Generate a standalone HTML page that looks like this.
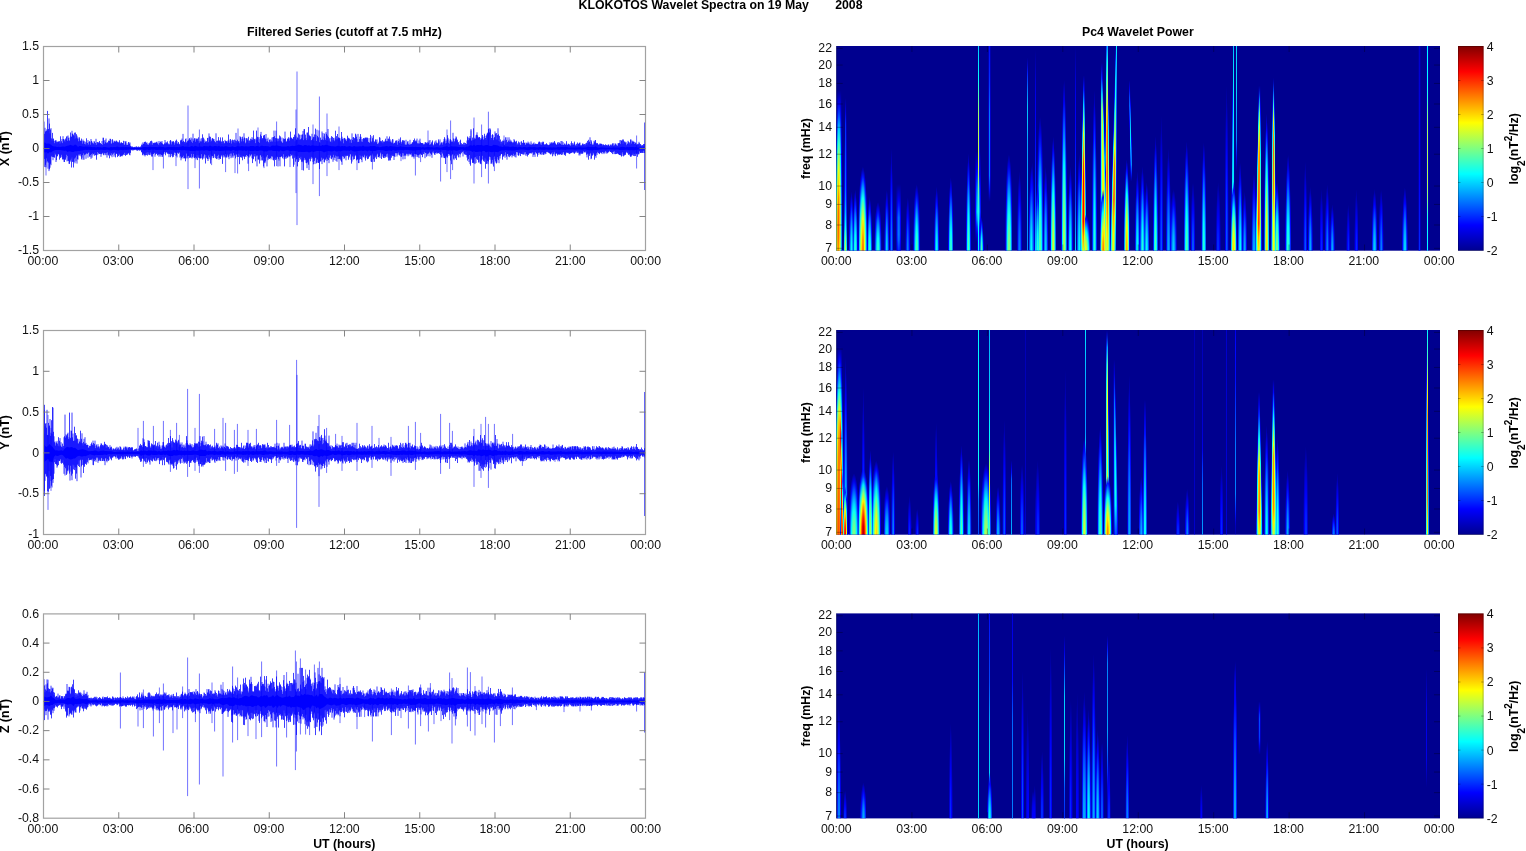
<!DOCTYPE html>
<html><head><meta charset="utf-8"><title>KLOKOTOS Wavelet Spectra</title>
<style>html,body{margin:0;padding:0;background:#fff;overflow:hidden}svg{display:block}text{font-family:"Liberation Sans", Arial, Helvetica, sans-serif;font-size:12.3px;fill:#000}.b{font-weight:bold}.t{fill:#111}</style></head><body>
<svg width="1526" height="851" viewBox="0 0 1526 851">
<rect width="1526" height="851" fill="#fff"/>
<defs>
<linearGradient id="cb" x1="0" y1="0" x2="0" y2="1"><stop offset="0" stop-color="#800000"/><stop offset="0.125" stop-color="#ff0000"/><stop offset="0.375" stop-color="#ffff00"/><stop offset="0.625" stop-color="#00ffff"/><stop offset="0.875" stop-color="#0000ff"/><stop offset="1" stop-color="#00008f"/></linearGradient>
<clipPath id="cl0"><rect x="43.5" y="46.5" width="602" height="204"/></clipPath>
<clipPath id="cr0"><rect x="836.2" y="46" width="603.8" height="204.7"/></clipPath>
<clipPath id="cl1"><rect x="43.5" y="330.5" width="602" height="204"/></clipPath>
<clipPath id="cr1"><rect x="836.2" y="330" width="603.8" height="204.7"/></clipPath>
<clipPath id="cl2"><rect x="43.5" y="613.9" width="602" height="204.3"/></clipPath>
<clipPath id="cr2"><rect x="836.2" y="613.4" width="603.8" height="205"/></clipPath>
<linearGradient id="k0" x1="0" y1="0" x2="0" y2="1"><stop offset="0.000" stop-color="#0000ff" stop-opacity="0.00"/><stop offset="0.083" stop-color="#0000ff" stop-opacity="0.00"/><stop offset="0.167" stop-color="#0000ff" stop-opacity="0.00"/><stop offset="0.250" stop-color="#0000ff" stop-opacity="0.00"/><stop offset="0.333" stop-color="#0000ff" stop-opacity="0.00"/><stop offset="0.417" stop-color="#0000ff" stop-opacity="0.00"/><stop offset="0.500" stop-color="#0000ff" stop-opacity="0.00"/><stop offset="0.583" stop-color="#0000ff" stop-opacity="0.00"/><stop offset="0.667" stop-color="#0000ff" stop-opacity="0.00"/><stop offset="0.750" stop-color="#0000ff" stop-opacity="0.00"/><stop offset="0.833" stop-color="#0000ff" stop-opacity="0.00"/><stop offset="0.917" stop-color="#0000ff" stop-opacity="0.17"/><stop offset="1.000" stop-color="#0000ff" stop-opacity="0.62"/></linearGradient><linearGradient id="k1" x1="0" y1="0" x2="0" y2="1"><stop offset="0.000" stop-color="#0000ff" stop-opacity="0.00"/><stop offset="0.083" stop-color="#0000ff" stop-opacity="0.00"/><stop offset="0.167" stop-color="#0000ff" stop-opacity="0.00"/><stop offset="0.250" stop-color="#0000ff" stop-opacity="0.00"/><stop offset="0.333" stop-color="#0000ff" stop-opacity="0.00"/><stop offset="0.417" stop-color="#0000ff" stop-opacity="0.00"/><stop offset="0.500" stop-color="#0000ff" stop-opacity="0.20"/><stop offset="0.583" stop-color="#0000ff" stop-opacity="0.72"/><stop offset="0.667" stop-color="#0022ff"/><stop offset="0.750" stop-color="#0063ff"/><stop offset="0.833" stop-color="#0099ff"/><stop offset="0.917" stop-color="#00c3ff"/><stop offset="1.000" stop-color="#00dcff"/></linearGradient><linearGradient id="k2" x1="0" y1="0" x2="0" y2="1"><stop offset="0.000" stop-color="#0000ff" stop-opacity="0.00"/><stop offset="0.083" stop-color="#0000ff" stop-opacity="0.06"/><stop offset="0.167" stop-color="#0000ff" stop-opacity="0.32"/><stop offset="0.250" stop-color="#0000ff" stop-opacity="0.76"/><stop offset="0.333" stop-color="#0026ff"/><stop offset="0.417" stop-color="#0071ff"/><stop offset="0.500" stop-color="#00b4ff"/><stop offset="0.583" stop-color="#00fbff"/><stop offset="0.667" stop-color="#42ffbd"/><stop offset="0.750" stop-color="#78ff87"/><stop offset="0.833" stop-color="#9cff63"/><stop offset="0.917" stop-color="#b1ff4e"/><stop offset="1.000" stop-color="#aeff51"/></linearGradient><linearGradient id="k3" x1="0" y1="0" x2="0" y2="1"><stop offset="0.000" stop-color="#0000ff" stop-opacity="0.00"/><stop offset="0.083" stop-color="#0000ff" stop-opacity="0.53"/><stop offset="0.167" stop-color="#001aff"/><stop offset="0.250" stop-color="#007eff"/><stop offset="0.333" stop-color="#00ddff"/><stop offset="0.417" stop-color="#3bffc4"/><stop offset="0.500" stop-color="#82ff7d"/><stop offset="0.583" stop-color="#c9ff36"/><stop offset="0.667" stop-color="#fff100"/><stop offset="0.750" stop-color="#ffc400"/><stop offset="0.833" stop-color="#ffaf00"/><stop offset="0.917" stop-color="#ffac00"/><stop offset="1.000" stop-color="#ffc300"/></linearGradient><linearGradient id="k4" x1="0" y1="0" x2="0" y2="1"><stop offset="0.000" stop-color="#0000ff" stop-opacity="0.00"/><stop offset="0.083" stop-color="#0000ff" stop-opacity="0.82"/><stop offset="0.167" stop-color="#005eff"/><stop offset="0.250" stop-color="#00daff"/><stop offset="0.333" stop-color="#48ffb7"/><stop offset="0.417" stop-color="#aaff55"/><stop offset="0.500" stop-color="#efff10"/><stop offset="0.583" stop-color="#ffcc00"/><stop offset="0.667" stop-color="#ff8e00"/><stop offset="0.750" stop-color="#ff6b00"/><stop offset="0.833" stop-color="#ff6300"/><stop offset="0.917" stop-color="#ff6e00"/><stop offset="1.000" stop-color="#ff9400"/></linearGradient><linearGradient id="k5" x1="0" y1="0" x2="0" y2="1"><stop offset="0.000" stop-color="#0000ff" stop-opacity="0.00"/><stop offset="0.083" stop-color="#0000ff" stop-opacity="0.84"/><stop offset="0.167" stop-color="#005bff"/><stop offset="0.250" stop-color="#00ceff"/><stop offset="0.333" stop-color="#31ffce"/><stop offset="0.417" stop-color="#86ff79"/><stop offset="0.500" stop-color="#bfff40"/><stop offset="0.583" stop-color="#f6ff09"/><stop offset="0.667" stop-color="#ffd600"/><stop offset="0.750" stop-color="#ffbb00"/><stop offset="0.833" stop-color="#ffb800"/><stop offset="0.917" stop-color="#ffc500"/><stop offset="1.000" stop-color="#ffe800"/></linearGradient><linearGradient id="k6" x1="0" y1="0" x2="0" y2="1"><stop offset="0.000" stop-color="#0000ff" stop-opacity="0.00"/><stop offset="0.083" stop-color="#0000ff" stop-opacity="0.56"/><stop offset="0.167" stop-color="#0014ff"/><stop offset="0.250" stop-color="#0065ff"/><stop offset="0.333" stop-color="#00acff"/><stop offset="0.417" stop-color="#00ecff"/><stop offset="0.500" stop-color="#19ffe6"/><stop offset="0.583" stop-color="#45ffba"/><stop offset="0.667" stop-color="#6eff91"/><stop offset="0.750" stop-color="#86ff79"/><stop offset="0.833" stop-color="#8dff72"/><stop offset="0.917" stop-color="#88ff77"/><stop offset="1.000" stop-color="#72ff8d"/></linearGradient><linearGradient id="k7" x1="0" y1="0" x2="0" y2="1"><stop offset="0.000" stop-color="#0000ff" stop-opacity="0.00"/><stop offset="0.083" stop-color="#0000ff" stop-opacity="0.09"/><stop offset="0.167" stop-color="#0000ff" stop-opacity="0.26"/><stop offset="0.250" stop-color="#0000ff" stop-opacity="0.49"/><stop offset="0.333" stop-color="#0000ff" stop-opacity="0.74"/><stop offset="0.417" stop-color="#0001ff"/><stop offset="0.500" stop-color="#001fff"/><stop offset="0.583" stop-color="#003eff"/><stop offset="0.667" stop-color="#005dff"/><stop offset="0.750" stop-color="#0075ff"/><stop offset="0.833" stop-color="#0085ff"/><stop offset="0.917" stop-color="#008eff"/><stop offset="1.000" stop-color="#008cff"/></linearGradient><linearGradient id="k8" x1="0" y1="0" x2="0" y2="1"><stop offset="0.000" stop-color="#0000ff" stop-opacity="0.00"/><stop offset="0.083" stop-color="#0000ff" stop-opacity="0.00"/><stop offset="0.167" stop-color="#0000ff" stop-opacity="0.00"/><stop offset="0.250" stop-color="#0000ff" stop-opacity="0.00"/><stop offset="0.333" stop-color="#0000ff" stop-opacity="0.00"/><stop offset="0.417" stop-color="#0000ff" stop-opacity="0.00"/><stop offset="0.500" stop-color="#0000ff" stop-opacity="0.00"/><stop offset="0.583" stop-color="#0000ff" stop-opacity="0.00"/><stop offset="0.667" stop-color="#0000ff" stop-opacity="0.00"/><stop offset="0.750" stop-color="#0000ff" stop-opacity="0.00"/><stop offset="0.833" stop-color="#0000ff" stop-opacity="0.00"/><stop offset="0.917" stop-color="#0000ff" stop-opacity="0.00"/><stop offset="1.000" stop-color="#0000ff" stop-opacity="0.33"/></linearGradient><linearGradient id="k9" x1="0" y1="0" x2="0" y2="1"><stop offset="0.000" stop-color="#0000ff" stop-opacity="0.00"/><stop offset="0.083" stop-color="#0000ff" stop-opacity="0.00"/><stop offset="0.167" stop-color="#0000ff" stop-opacity="0.00"/><stop offset="0.250" stop-color="#0000ff" stop-opacity="0.00"/><stop offset="0.333" stop-color="#0000ff" stop-opacity="0.24"/><stop offset="0.417" stop-color="#0000ff" stop-opacity="0.47"/><stop offset="0.500" stop-color="#0000ff" stop-opacity="0.68"/><stop offset="0.583" stop-color="#0000ff" stop-opacity="0.88"/><stop offset="0.667" stop-color="#0013ff"/><stop offset="0.750" stop-color="#003dff"/><stop offset="0.833" stop-color="#0078ff"/><stop offset="0.917" stop-color="#00e2ff"/><stop offset="1.000" stop-color="#37ffc8"/></linearGradient><linearGradient id="k10" x1="0" y1="0" x2="0" y2="1"><stop offset="0.000" stop-color="#0000ff" stop-opacity="0.00"/><stop offset="0.083" stop-color="#0000ff" stop-opacity="0.64"/><stop offset="0.167" stop-color="#0026ff"/><stop offset="0.250" stop-color="#0034ff"/><stop offset="0.333" stop-color="#0042ff"/><stop offset="0.417" stop-color="#0050ff"/><stop offset="0.500" stop-color="#005dff"/><stop offset="0.583" stop-color="#006aff"/><stop offset="0.667" stop-color="#008bff"/><stop offset="0.750" stop-color="#00b6ff"/><stop offset="0.833" stop-color="#00f8ff"/><stop offset="0.917" stop-color="#79ff86"/><stop offset="1.000" stop-color="#d2ff2d"/></linearGradient><linearGradient id="k11" x1="0" y1="0" x2="0" y2="1"><stop offset="0.000" stop-color="#0000ff" stop-opacity="0.00"/><stop offset="0.083" stop-color="#0000ff" stop-opacity="0.06"/><stop offset="0.167" stop-color="#0000ff" stop-opacity="0.27"/><stop offset="0.250" stop-color="#0000ff" stop-opacity="0.42"/><stop offset="0.333" stop-color="#0000ff" stop-opacity="0.57"/><stop offset="0.417" stop-color="#0000ff" stop-opacity="0.70"/><stop offset="0.500" stop-color="#0000ff" stop-opacity="0.82"/><stop offset="0.583" stop-color="#0000ff" stop-opacity="0.95"/><stop offset="0.667" stop-color="#0013ff"/><stop offset="0.750" stop-color="#0034ff"/><stop offset="0.833" stop-color="#0064ff"/><stop offset="0.917" stop-color="#00bdff"/><stop offset="1.000" stop-color="#02fffd"/></linearGradient><linearGradient id="a4" x1="0" y1="0" x2="0" y2="1"><stop offset="0.000" stop-color="#0000ff" stop-opacity="0.00"/><stop offset="0.125" stop-color="#0000ff" stop-opacity="0.26"/><stop offset="0.250" stop-color="#0000ff" stop-opacity="0.49"/><stop offset="0.375" stop-color="#0000ff" stop-opacity="0.70"/><stop offset="0.500" stop-color="#0000ff" stop-opacity="0.89"/><stop offset="0.625" stop-color="#0007ff"/><stop offset="0.750" stop-color="#0018ff"/><stop offset="0.875" stop-color="#0024ff"/><stop offset="1.000" stop-color="#002aff"/></linearGradient><linearGradient id="a7" x1="0" y1="0" x2="0" y2="1"><stop offset="0.000" stop-color="#0000ff" stop-opacity="0.00"/><stop offset="0.125" stop-color="#0000ff" stop-opacity="0.45"/><stop offset="0.250" stop-color="#0000ff" stop-opacity="0.86"/><stop offset="0.375" stop-color="#001eff"/><stop offset="0.500" stop-color="#0048ff"/><stop offset="0.625" stop-color="#006cff"/><stop offset="0.750" stop-color="#008aff"/><stop offset="0.875" stop-color="#009fff"/><stop offset="1.000" stop-color="#00aaff"/></linearGradient><linearGradient id="a9" x1="0" y1="0" x2="0" y2="1"><stop offset="0.000" stop-color="#0000ff" stop-opacity="0.00"/><stop offset="0.125" stop-color="#0000ff" stop-opacity="0.58"/><stop offset="0.250" stop-color="#000eff"/><stop offset="0.375" stop-color="#004bff"/><stop offset="0.500" stop-color="#0081ff"/><stop offset="0.625" stop-color="#00afff"/><stop offset="0.750" stop-color="#00d5ff"/><stop offset="0.875" stop-color="#00f1ff"/><stop offset="1.000" stop-color="#00ffff"/></linearGradient><linearGradient id="a5" x1="0" y1="0" x2="0" y2="1"><stop offset="0.000" stop-color="#0000ff" stop-opacity="0.00"/><stop offset="0.125" stop-color="#0000ff" stop-opacity="0.32"/><stop offset="0.250" stop-color="#0000ff" stop-opacity="0.61"/><stop offset="0.375" stop-color="#0000ff" stop-opacity="0.88"/><stop offset="0.500" stop-color="#000fff"/><stop offset="0.625" stop-color="#0029ff"/><stop offset="0.750" stop-color="#003eff"/><stop offset="0.875" stop-color="#004dff"/><stop offset="1.000" stop-color="#0055ff"/></linearGradient><linearGradient id="a10" x1="0" y1="0" x2="0" y2="1"><stop offset="0.000" stop-color="#0000ff" stop-opacity="0.00"/><stop offset="0.125" stop-color="#0000ff" stop-opacity="0.64"/><stop offset="0.250" stop-color="#001dff"/><stop offset="0.375" stop-color="#0061ff"/><stop offset="0.500" stop-color="#009dff"/><stop offset="0.625" stop-color="#00d1ff"/><stop offset="0.750" stop-color="#00fbff"/><stop offset="0.875" stop-color="#1bffe4"/><stop offset="1.000" stop-color="#2bffd4"/></linearGradient><linearGradient id="a8" x1="0" y1="0" x2="0" y2="1"><stop offset="0.000" stop-color="#0000ff" stop-opacity="0.00"/><stop offset="0.125" stop-color="#0000ff" stop-opacity="0.51"/><stop offset="0.250" stop-color="#0000ff" stop-opacity="0.98"/><stop offset="0.375" stop-color="#0034ff"/><stop offset="0.500" stop-color="#0064ff"/><stop offset="0.625" stop-color="#008eff"/><stop offset="0.750" stop-color="#00b0ff"/><stop offset="0.875" stop-color="#00c8ff"/><stop offset="1.000" stop-color="#00d4ff"/></linearGradient><linearGradient id="a3" x1="0" y1="0" x2="0" y2="1"><stop offset="0.000" stop-color="#0000ff" stop-opacity="0.00"/><stop offset="0.125" stop-color="#0000ff" stop-opacity="0.19"/><stop offset="0.250" stop-color="#0000ff" stop-opacity="0.37"/><stop offset="0.375" stop-color="#0000ff" stop-opacity="0.53"/><stop offset="0.500" stop-color="#0000ff" stop-opacity="0.67"/><stop offset="0.625" stop-color="#0000ff" stop-opacity="0.79"/><stop offset="0.750" stop-color="#0000ff" stop-opacity="0.89"/><stop offset="0.875" stop-color="#0000ff" stop-opacity="0.96"/><stop offset="1.000" stop-color="#0000ff" stop-opacity="1.00"/></linearGradient><linearGradient id="a2" x1="0" y1="0" x2="0" y2="1"><stop offset="0.000" stop-color="#0000ff" stop-opacity="0.00"/><stop offset="0.125" stop-color="#0000ff" stop-opacity="0.13"/><stop offset="0.250" stop-color="#0000ff" stop-opacity="0.25"/><stop offset="0.375" stop-color="#0000ff" stop-opacity="0.35"/><stop offset="0.500" stop-color="#0000ff" stop-opacity="0.45"/><stop offset="0.625" stop-color="#0000ff" stop-opacity="0.53"/><stop offset="0.750" stop-color="#0000ff" stop-opacity="0.59"/><stop offset="0.875" stop-color="#0000ff" stop-opacity="0.64"/><stop offset="1.000" stop-color="#0000ff" stop-opacity="0.67"/></linearGradient><linearGradient id="a13" x1="0" y1="0" x2="0" y2="1"><stop offset="0.000" stop-color="#0000ff" stop-opacity="0.00"/><stop offset="0.125" stop-color="#0000ff" stop-opacity="0.83"/><stop offset="0.250" stop-color="#004cff"/><stop offset="0.375" stop-color="#00a5ff"/><stop offset="0.500" stop-color="#00f3ff"/><stop offset="0.625" stop-color="#37ffc8"/><stop offset="0.750" stop-color="#6eff91"/><stop offset="0.875" stop-color="#96ff69"/><stop offset="1.000" stop-color="#aaff55"/></linearGradient><linearGradient id="a16" x1="0" y1="0" x2="0" y2="1"><stop offset="0.000" stop-color="#0000ff" stop-opacity="0.00"/><stop offset="0.125" stop-color="#0003ff"/><stop offset="0.250" stop-color="#007bff"/><stop offset="0.375" stop-color="#00e8ff"/><stop offset="0.500" stop-color="#49ffb6"/><stop offset="0.625" stop-color="#9cff63"/><stop offset="0.750" stop-color="#e0ff1f"/><stop offset="0.875" stop-color="#ffed00"/><stop offset="1.000" stop-color="#ffd500"/></linearGradient><linearGradient id="a18" x1="0" y1="0" x2="0" y2="1"><stop offset="0.000" stop-color="#0000ff" stop-opacity="0.00"/><stop offset="0.125" stop-color="#0014ff"/><stop offset="0.250" stop-color="#009bff"/><stop offset="0.375" stop-color="#16ffe9"/><stop offset="0.500" stop-color="#82ff7d"/><stop offset="0.625" stop-color="#dfff20"/><stop offset="0.750" stop-color="#ffd300"/><stop offset="0.875" stop-color="#ff9b00"/><stop offset="1.000" stop-color="#ff8000"/></linearGradient><linearGradient id="a15" x1="0" y1="0" x2="0" y2="1"><stop offset="0.000" stop-color="#0000ff" stop-opacity="0.00"/><stop offset="0.125" stop-color="#0000ff" stop-opacity="0.96"/><stop offset="0.250" stop-color="#006cff"/><stop offset="0.375" stop-color="#00d1ff"/><stop offset="0.500" stop-color="#2dffd2"/><stop offset="0.625" stop-color="#7aff85"/><stop offset="0.750" stop-color="#baff45"/><stop offset="0.875" stop-color="#e8ff17"/><stop offset="1.000" stop-color="#ffff00"/></linearGradient><linearGradient id="a11" x1="0" y1="0" x2="0" y2="1"><stop offset="0.000" stop-color="#0000ff" stop-opacity="0.00"/><stop offset="0.125" stop-color="#0000ff" stop-opacity="0.71"/><stop offset="0.250" stop-color="#002dff"/><stop offset="0.375" stop-color="#0078ff"/><stop offset="0.500" stop-color="#00baff"/><stop offset="0.625" stop-color="#00f3ff"/><stop offset="0.750" stop-color="#22ffdd"/><stop offset="0.875" stop-color="#44ffbb"/><stop offset="1.000" stop-color="#55ffaa"/></linearGradient><linearGradient id="a6" x1="0" y1="0" x2="0" y2="1"><stop offset="0.000" stop-color="#0000ff" stop-opacity="0.00"/><stop offset="0.125" stop-color="#0000ff" stop-opacity="0.38"/><stop offset="0.250" stop-color="#0000ff" stop-opacity="0.74"/><stop offset="0.375" stop-color="#0007ff"/><stop offset="0.500" stop-color="#002bff"/><stop offset="0.625" stop-color="#004aff"/><stop offset="0.750" stop-color="#0064ff"/><stop offset="0.875" stop-color="#0076ff"/><stop offset="1.000" stop-color="#0080ff"/></linearGradient><linearGradient id="a1" x1="0" y1="0" x2="0" y2="1"><stop offset="0.000" stop-color="#0000ff" stop-opacity="0.00"/><stop offset="0.125" stop-color="#0000ff" stop-opacity="0.06"/><stop offset="0.250" stop-color="#0000ff" stop-opacity="0.12"/><stop offset="0.375" stop-color="#0000ff" stop-opacity="0.18"/><stop offset="0.500" stop-color="#0000ff" stop-opacity="0.22"/><stop offset="0.625" stop-color="#0000ff" stop-opacity="0.26"/><stop offset="0.750" stop-color="#0000ff" stop-opacity="0.30"/><stop offset="0.875" stop-color="#0000ff" stop-opacity="0.32"/><stop offset="1.000" stop-color="#0000ff" stop-opacity="0.33"/></linearGradient><linearGradient id="k27" x1="0" y1="0" x2="0" y2="1"><stop offset="0.000" stop-color="#0000ff" stop-opacity="0.00"/><stop offset="0.083" stop-color="#0000ff" stop-opacity="0.10"/><stop offset="0.167" stop-color="#0000ff" stop-opacity="0.20"/><stop offset="0.250" stop-color="#0000ff" stop-opacity="0.30"/><stop offset="0.333" stop-color="#0000ff" stop-opacity="0.40"/><stop offset="0.417" stop-color="#0000ff" stop-opacity="0.50"/><stop offset="0.500" stop-color="#0000ff" stop-opacity="0.59"/><stop offset="0.583" stop-color="#0000ff" stop-opacity="0.60"/><stop offset="0.667" stop-color="#0000ff" stop-opacity="0.61"/><stop offset="0.750" stop-color="#0000ff" stop-opacity="0.63"/><stop offset="0.833" stop-color="#0000ff" stop-opacity="0.59"/><stop offset="0.917" stop-color="#0000ff" stop-opacity="0.51"/><stop offset="1.000" stop-color="#0000ff" stop-opacity="0.42"/></linearGradient><linearGradient id="k28" x1="0" y1="0" x2="0" y2="1"><stop offset="0.000" stop-color="#0000ff" stop-opacity="0.00"/><stop offset="0.083" stop-color="#0000ff" stop-opacity="0.24"/><stop offset="0.167" stop-color="#0000ff" stop-opacity="0.48"/><stop offset="0.250" stop-color="#0000ff" stop-opacity="0.71"/><stop offset="0.333" stop-color="#0000ff" stop-opacity="0.95"/><stop offset="0.417" stop-color="#0018ff"/><stop offset="0.500" stop-color="#0033ff"/><stop offset="0.583" stop-color="#0037ff"/><stop offset="0.667" stop-color="#003aff"/><stop offset="0.750" stop-color="#003eff"/><stop offset="0.833" stop-color="#0033ff"/><stop offset="0.917" stop-color="#001aff"/><stop offset="1.000" stop-color="#0000ff" stop-opacity="1.00"/></linearGradient><linearGradient id="k29" x1="0" y1="0" x2="0" y2="1"><stop offset="0.000" stop-color="#0000ff" stop-opacity="0.00"/><stop offset="0.083" stop-color="#0000ff" stop-opacity="0.31"/><stop offset="0.167" stop-color="#0000ff" stop-opacity="0.62"/><stop offset="0.250" stop-color="#0000ff" stop-opacity="0.94"/><stop offset="0.333" stop-color="#0020ff"/><stop offset="0.417" stop-color="#0048ff"/><stop offset="0.500" stop-color="#006bff"/><stop offset="0.583" stop-color="#0070ff"/><stop offset="0.667" stop-color="#0075ff"/><stop offset="0.750" stop-color="#0079ff"/><stop offset="0.833" stop-color="#006bff"/><stop offset="0.917" stop-color="#004aff"/><stop offset="1.000" stop-color="#0028ff"/></linearGradient><linearGradient id="k30" x1="0" y1="0" x2="0" y2="1"><stop offset="0.000" stop-color="#0000ff" stop-opacity="0.00"/><stop offset="0.083" stop-color="#0000ff" stop-opacity="0.28"/><stop offset="0.167" stop-color="#0000ff" stop-opacity="0.56"/><stop offset="0.250" stop-color="#0000ff" stop-opacity="0.85"/><stop offset="0.333" stop-color="#0011ff"/><stop offset="0.417" stop-color="#0035ff"/><stop offset="0.500" stop-color="#0055ff"/><stop offset="0.583" stop-color="#0059ff"/><stop offset="0.667" stop-color="#005dff"/><stop offset="0.750" stop-color="#0062ff"/><stop offset="0.833" stop-color="#0055ff"/><stop offset="0.917" stop-color="#0036ff"/><stop offset="1.000" stop-color="#0018ff"/></linearGradient><linearGradient id="k31" x1="0" y1="0" x2="0" y2="1"><stop offset="0.000" stop-color="#0000ff" stop-opacity="0.00"/><stop offset="0.083" stop-color="#0000ff" stop-opacity="0.17"/><stop offset="0.167" stop-color="#0000ff" stop-opacity="0.35"/><stop offset="0.250" stop-color="#0000ff" stop-opacity="0.52"/><stop offset="0.333" stop-color="#0000ff" stop-opacity="0.69"/><stop offset="0.417" stop-color="#0000ff" stop-opacity="0.86"/><stop offset="0.500" stop-color="#0003ff"/><stop offset="0.583" stop-color="#0005ff"/><stop offset="0.667" stop-color="#0008ff"/><stop offset="0.750" stop-color="#000aff"/><stop offset="0.833" stop-color="#0002ff"/><stop offset="0.917" stop-color="#0000ff" stop-opacity="0.87"/><stop offset="1.000" stop-color="#0000ff" stop-opacity="0.73"/></linearGradient><linearGradient id="k32" x1="0" y1="0" x2="0" y2="1"><stop offset="0.000" stop-color="#0000ff" stop-opacity="0.00"/><stop offset="0.083" stop-color="#0000ff" stop-opacity="0.00"/><stop offset="0.167" stop-color="#0000ff" stop-opacity="0.00"/><stop offset="0.250" stop-color="#0000ff" stop-opacity="0.00"/><stop offset="0.333" stop-color="#0000ff" stop-opacity="0.00"/><stop offset="0.417" stop-color="#0000ff" stop-opacity="0.00"/><stop offset="0.500" stop-color="#0000ff" stop-opacity="0.00"/><stop offset="0.583" stop-color="#0000ff" stop-opacity="0.00"/><stop offset="0.667" stop-color="#0000ff" stop-opacity="0.22"/><stop offset="0.750" stop-color="#0000ff" stop-opacity="0.39"/><stop offset="0.833" stop-color="#0000ff" stop-opacity="0.51"/><stop offset="0.917" stop-color="#0000ff" stop-opacity="0.63"/><stop offset="1.000" stop-color="#0000ff" stop-opacity="0.73"/></linearGradient><linearGradient id="k33" x1="0" y1="0" x2="0" y2="1"><stop offset="0.000" stop-color="#00cbff"/><stop offset="0.083" stop-color="#00e6ff"/><stop offset="0.167" stop-color="#06fff9"/><stop offset="0.250" stop-color="#52ffad"/><stop offset="0.333" stop-color="#9eff61"/><stop offset="0.417" stop-color="#b2ff4d"/><stop offset="0.500" stop-color="#beff41"/><stop offset="0.583" stop-color="#caff35"/><stop offset="0.667" stop-color="#81ff7e"/><stop offset="0.750" stop-color="#41ffbe"/><stop offset="0.833" stop-color="#12ffed"/><stop offset="0.917" stop-color="#00fcff"/><stop offset="1.000" stop-color="#00f2ff"/></linearGradient><linearGradient id="k34" x1="0" y1="0" x2="0" y2="1"><stop offset="0.000" stop-color="#0000ff" stop-opacity="0.00"/><stop offset="0.083" stop-color="#0000ff" stop-opacity="0.00"/><stop offset="0.167" stop-color="#0000ff" stop-opacity="0.00"/><stop offset="0.250" stop-color="#0000ff" stop-opacity="0.15"/><stop offset="0.333" stop-color="#0000ff" stop-opacity="0.48"/><stop offset="0.417" stop-color="#0000ff" stop-opacity="0.77"/><stop offset="0.500" stop-color="#0005ff"/><stop offset="0.583" stop-color="#0025ff"/><stop offset="0.667" stop-color="#0027ff"/><stop offset="0.750" stop-color="#0025ff"/><stop offset="0.833" stop-color="#0022ff"/><stop offset="0.917" stop-color="#0026ff"/><stop offset="1.000" stop-color="#002dff"/></linearGradient><linearGradient id="k35" x1="0" y1="0" x2="0" y2="1"><stop offset="0.000" stop-color="#0000ff" stop-opacity="0.00"/><stop offset="0.083" stop-color="#0000ff" stop-opacity="0.15"/><stop offset="0.167" stop-color="#0000ff" stop-opacity="0.30"/><stop offset="0.250" stop-color="#0000ff" stop-opacity="0.45"/><stop offset="0.333" stop-color="#0000ff" stop-opacity="0.61"/><stop offset="0.417" stop-color="#0000ff" stop-opacity="0.76"/><stop offset="0.500" stop-color="#0000ff" stop-opacity="0.86"/><stop offset="0.583" stop-color="#0000ff" stop-opacity="0.93"/><stop offset="0.667" stop-color="#0001ff"/><stop offset="0.750" stop-color="#0000ff" stop-opacity="0.84"/><stop offset="0.833" stop-color="#0000ff" stop-opacity="0.54"/><stop offset="0.917" stop-color="#0000ff" stop-opacity="0.27"/><stop offset="1.000" stop-color="#0000ff" stop-opacity="0.00"/></linearGradient><linearGradient id="k36" x1="0" y1="0" x2="0" y2="1"><stop offset="0.000" stop-color="#0000ff" stop-opacity="0.00"/><stop offset="0.083" stop-color="#0000ff" stop-opacity="0.32"/><stop offset="0.167" stop-color="#0000ff" stop-opacity="0.64"/><stop offset="0.250" stop-color="#0000ff" stop-opacity="0.96"/><stop offset="0.333" stop-color="#0024ff"/><stop offset="0.417" stop-color="#004cff"/><stop offset="0.500" stop-color="#0067ff"/><stop offset="0.583" stop-color="#007bff"/><stop offset="0.667" stop-color="#0090ff"/><stop offset="0.750" stop-color="#0061ff"/><stop offset="0.833" stop-color="#0011ff"/><stop offset="0.917" stop-color="#0000ff" stop-opacity="0.57"/><stop offset="1.000" stop-color="#0000ff" stop-opacity="0.00"/></linearGradient><linearGradient id="k37" x1="0" y1="0" x2="0" y2="1"><stop offset="0.000" stop-color="#0000ff" stop-opacity="0.00"/><stop offset="0.083" stop-color="#0000ff" stop-opacity="0.43"/><stop offset="0.167" stop-color="#0000ff" stop-opacity="0.85"/><stop offset="0.250" stop-color="#0023ff"/><stop offset="0.333" stop-color="#005aff"/><stop offset="0.417" stop-color="#0090ff"/><stop offset="0.500" stop-color="#00b4ff"/><stop offset="0.583" stop-color="#00cfff"/><stop offset="0.667" stop-color="#00e9ff"/><stop offset="0.750" stop-color="#00acff"/><stop offset="0.833" stop-color="#0042ff"/><stop offset="0.917" stop-color="#0000ff" stop-opacity="0.76"/><stop offset="1.000" stop-color="#0000ff" stop-opacity="0.00"/></linearGradient><linearGradient id="k38" x1="0" y1="0" x2="0" y2="1"><stop offset="0.000" stop-color="#0000ff" stop-opacity="0.00"/><stop offset="0.083" stop-color="#0000ff" stop-opacity="0.44"/><stop offset="0.167" stop-color="#0000ff" stop-opacity="0.87"/><stop offset="0.250" stop-color="#0028ff"/><stop offset="0.333" stop-color="#005fff"/><stop offset="0.417" stop-color="#0097ff"/><stop offset="0.500" stop-color="#00bcff"/><stop offset="0.583" stop-color="#00d8ff"/><stop offset="0.667" stop-color="#00f3ff"/><stop offset="0.750" stop-color="#00b4ff"/><stop offset="0.833" stop-color="#0047ff"/><stop offset="0.917" stop-color="#0000ff" stop-opacity="0.78"/><stop offset="1.000" stop-color="#0000ff" stop-opacity="0.00"/></linearGradient><linearGradient id="k39" x1="0" y1="0" x2="0" y2="1"><stop offset="0.000" stop-color="#0000ff" stop-opacity="0.00"/><stop offset="0.083" stop-color="#0000ff" stop-opacity="0.34"/><stop offset="0.167" stop-color="#0000ff" stop-opacity="0.69"/><stop offset="0.250" stop-color="#0004ff"/><stop offset="0.333" stop-color="#0030ff"/><stop offset="0.417" stop-color="#005cff"/><stop offset="0.500" stop-color="#0079ff"/><stop offset="0.583" stop-color="#008fff"/><stop offset="0.667" stop-color="#00a4ff"/><stop offset="0.750" stop-color="#0072ff"/><stop offset="0.833" stop-color="#001dff"/><stop offset="0.917" stop-color="#0000ff" stop-opacity="0.61"/><stop offset="1.000" stop-color="#0000ff" stop-opacity="0.00"/></linearGradient><linearGradient id="k40" x1="0" y1="0" x2="0" y2="1"><stop offset="0.000" stop-color="#0000ff" stop-opacity="0.00"/><stop offset="0.083" stop-color="#0000ff" stop-opacity="0.19"/><stop offset="0.167" stop-color="#0000ff" stop-opacity="0.37"/><stop offset="0.250" stop-color="#0000ff" stop-opacity="0.56"/><stop offset="0.333" stop-color="#0000ff" stop-opacity="0.75"/><stop offset="0.417" stop-color="#0000ff" stop-opacity="0.93"/><stop offset="0.500" stop-color="#0007ff"/><stop offset="0.583" stop-color="#0013ff"/><stop offset="0.667" stop-color="#001fff"/><stop offset="0.750" stop-color="#0004ff"/><stop offset="0.833" stop-color="#0000ff" stop-opacity="0.66"/><stop offset="0.917" stop-color="#0000ff" stop-opacity="0.33"/><stop offset="1.000" stop-color="#0000ff" stop-opacity="0.00"/></linearGradient><linearGradient id="k41" x1="0" y1="0" x2="0" y2="1"><stop offset="0.000" stop-color="#0000ff" stop-opacity="0.28"/><stop offset="0.083" stop-color="#0000ff" stop-opacity="0.31"/><stop offset="0.167" stop-color="#0000ff" stop-opacity="0.34"/><stop offset="0.250" stop-color="#0000ff" stop-opacity="0.38"/><stop offset="0.333" stop-color="#0000ff" stop-opacity="0.45"/><stop offset="0.417" stop-color="#0000ff" stop-opacity="0.51"/><stop offset="0.500" stop-color="#0000ff" stop-opacity="0.53"/><stop offset="0.583" stop-color="#0000ff" stop-opacity="0.53"/><stop offset="0.667" stop-color="#0000ff" stop-opacity="0.53"/><stop offset="0.750" stop-color="#0000ff" stop-opacity="0.53"/><stop offset="0.833" stop-color="#0000ff" stop-opacity="0.53"/><stop offset="0.917" stop-color="#0000ff" stop-opacity="0.31"/><stop offset="1.000" stop-color="#0000ff" stop-opacity="0.00"/></linearGradient><linearGradient id="k42" x1="0" y1="0" x2="0" y2="1"><stop offset="0.000" stop-color="#0008ff"/><stop offset="0.083" stop-color="#0016ff"/><stop offset="0.167" stop-color="#0024ff"/><stop offset="0.250" stop-color="#0039ff"/><stop offset="0.333" stop-color="#0056ff"/><stop offset="0.417" stop-color="#0073ff"/><stop offset="0.500" stop-color="#0080ff"/><stop offset="0.583" stop-color="#0080ff"/><stop offset="0.667" stop-color="#0080ff"/><stop offset="0.750" stop-color="#0080ff"/><stop offset="0.833" stop-color="#0080ff"/><stop offset="0.917" stop-color="#0013ff"/><stop offset="1.000" stop-color="#0000ff" stop-opacity="0.00"/></linearGradient><linearGradient id="k43" x1="0" y1="0" x2="0" y2="1"><stop offset="0.000" stop-color="#0000ff" stop-opacity="0.28"/><stop offset="0.083" stop-color="#0000ff" stop-opacity="0.31"/><stop offset="0.167" stop-color="#0000ff" stop-opacity="0.34"/><stop offset="0.250" stop-color="#0000ff" stop-opacity="0.38"/><stop offset="0.333" stop-color="#0000ff" stop-opacity="0.45"/><stop offset="0.417" stop-color="#0000ff" stop-opacity="0.51"/><stop offset="0.500" stop-color="#0000ff" stop-opacity="0.53"/><stop offset="0.583" stop-color="#0000ff" stop-opacity="0.53"/><stop offset="0.667" stop-color="#0000ff" stop-opacity="0.53"/><stop offset="0.750" stop-color="#0000ff" stop-opacity="0.53"/><stop offset="0.833" stop-color="#0000ff" stop-opacity="0.53"/><stop offset="0.917" stop-color="#0000ff" stop-opacity="0.31"/><stop offset="1.000" stop-color="#0000ff" stop-opacity="0.00"/></linearGradient><linearGradient id="a12" x1="0" y1="0" x2="0" y2="1"><stop offset="0.000" stop-color="#0000ff" stop-opacity="0.00"/><stop offset="0.125" stop-color="#0000ff" stop-opacity="0.77"/><stop offset="0.250" stop-color="#003dff"/><stop offset="0.375" stop-color="#008eff"/><stop offset="0.500" stop-color="#00d6ff"/><stop offset="0.625" stop-color="#15ffea"/><stop offset="0.750" stop-color="#48ffb7"/><stop offset="0.875" stop-color="#6dff92"/><stop offset="1.000" stop-color="#80ff80"/></linearGradient><linearGradient id="k45" x1="0" y1="0" x2="0" y2="1"><stop offset="0.000" stop-color="#0000ff" stop-opacity="0.00"/><stop offset="0.083" stop-color="#0023ff"/><stop offset="0.167" stop-color="#007eff"/><stop offset="0.250" stop-color="#00c1ff"/><stop offset="0.333" stop-color="#00c1ff"/><stop offset="0.417" stop-color="#00a6ff"/><stop offset="0.500" stop-color="#009fff"/><stop offset="0.583" stop-color="#009dff"/><stop offset="0.667" stop-color="#009aff"/><stop offset="0.750" stop-color="#0098ff"/><stop offset="0.833" stop-color="#0095ff"/><stop offset="0.917" stop-color="#0093ff"/><stop offset="1.000" stop-color="#0090ff"/></linearGradient><linearGradient id="k46" x1="0" y1="0" x2="0" y2="1"><stop offset="0.000" stop-color="#0000ff" stop-opacity="0.00"/><stop offset="0.083" stop-color="#0000ff" stop-opacity="0.33"/><stop offset="0.167" stop-color="#0000ff" stop-opacity="0.66"/><stop offset="0.250" stop-color="#0000ff" stop-opacity="0.85"/><stop offset="0.333" stop-color="#0000ff" stop-opacity="0.94"/><stop offset="0.417" stop-color="#0004ff"/><stop offset="0.500" stop-color="#000fff"/><stop offset="0.583" stop-color="#001aff"/><stop offset="0.667" stop-color="#0025ff"/><stop offset="0.750" stop-color="#0045ff"/><stop offset="0.833" stop-color="#0075ff"/><stop offset="0.917" stop-color="#00a5ff"/><stop offset="1.000" stop-color="#00d4ff"/></linearGradient><linearGradient id="a14" x1="0" y1="0" x2="0" y2="1"><stop offset="0.000" stop-color="#0000ff" stop-opacity="0.00"/><stop offset="0.125" stop-color="#0000ff" stop-opacity="0.90"/><stop offset="0.250" stop-color="#005cff"/><stop offset="0.375" stop-color="#00bbff"/><stop offset="0.500" stop-color="#10ffef"/><stop offset="0.625" stop-color="#59ffa6"/><stop offset="0.750" stop-color="#94ff6b"/><stop offset="0.875" stop-color="#bfff40"/><stop offset="1.000" stop-color="#d5ff2a"/></linearGradient><linearGradient id="k48" x1="0" y1="0" x2="0" y2="1"><stop offset="0.000" stop-color="#0000ff" stop-opacity="0.00"/><stop offset="0.083" stop-color="#0000ff" stop-opacity="0.31"/><stop offset="0.167" stop-color="#0000ff" stop-opacity="0.62"/><stop offset="0.250" stop-color="#0000ff" stop-opacity="0.84"/><stop offset="0.333" stop-color="#0000ff" stop-opacity="0.93"/><stop offset="0.417" stop-color="#0002ff"/><stop offset="0.500" stop-color="#000eff"/><stop offset="0.583" stop-color="#0019ff"/><stop offset="0.667" stop-color="#0025ff"/><stop offset="0.750" stop-color="#0042ff"/><stop offset="0.833" stop-color="#0073ff"/><stop offset="0.917" stop-color="#00a4ff"/><stop offset="1.000" stop-color="#00d4ff"/></linearGradient><linearGradient id="k49" x1="0" y1="0" x2="0" y2="1"><stop offset="0.000" stop-color="#0000ff" stop-opacity="0.00"/><stop offset="0.083" stop-color="#0000ff" stop-opacity="0.00"/><stop offset="0.167" stop-color="#0000ff" stop-opacity="0.00"/><stop offset="0.250" stop-color="#0000ff" stop-opacity="0.00"/><stop offset="0.333" stop-color="#0000ff" stop-opacity="0.00"/><stop offset="0.417" stop-color="#0000ff" stop-opacity="0.00"/><stop offset="0.500" stop-color="#0000ff" stop-opacity="0.00"/><stop offset="0.583" stop-color="#0000ff" stop-opacity="0.00"/><stop offset="0.667" stop-color="#0000ff" stop-opacity="0.00"/><stop offset="0.750" stop-color="#0000ff" stop-opacity="0.00"/><stop offset="0.833" stop-color="#0000ff" stop-opacity="0.00"/><stop offset="0.917" stop-color="#0000ff" stop-opacity="0.72"/><stop offset="1.000" stop-color="#000fff"/></linearGradient><linearGradient id="k50" x1="0" y1="0" x2="0" y2="1"><stop offset="0.000" stop-color="#0000ff" stop-opacity="0.00"/><stop offset="0.083" stop-color="#0000ff" stop-opacity="0.00"/><stop offset="0.167" stop-color="#0000ff" stop-opacity="0.00"/><stop offset="0.250" stop-color="#0000ff" stop-opacity="0.00"/><stop offset="0.333" stop-color="#0000ff" stop-opacity="0.00"/><stop offset="0.417" stop-color="#0000ff" stop-opacity="0.00"/><stop offset="0.500" stop-color="#0000ff" stop-opacity="0.00"/><stop offset="0.583" stop-color="#0013ff"/><stop offset="0.667" stop-color="#0093ff"/><stop offset="0.750" stop-color="#00f7ff"/><stop offset="0.833" stop-color="#48ffb7"/><stop offset="0.917" stop-color="#39ffc6"/><stop offset="1.000" stop-color="#06fff9"/></linearGradient><linearGradient id="k51" x1="0" y1="0" x2="0" y2="1"><stop offset="0.000" stop-color="#0000ff" stop-opacity="0.00"/><stop offset="0.083" stop-color="#0000ff" stop-opacity="0.00"/><stop offset="0.167" stop-color="#0000ff" stop-opacity="0.00"/><stop offset="0.250" stop-color="#0000ff" stop-opacity="0.99"/><stop offset="0.333" stop-color="#0097ff"/><stop offset="0.417" stop-color="#23ffdc"/><stop offset="0.500" stop-color="#b0ff4f"/><stop offset="0.583" stop-color="#ffe600"/><stop offset="0.667" stop-color="#ffb700"/><stop offset="0.750" stop-color="#ff9200"/><stop offset="0.833" stop-color="#ff7600"/><stop offset="0.917" stop-color="#ffda00"/><stop offset="1.000" stop-color="#acff53"/></linearGradient><linearGradient id="k52" x1="0" y1="0" x2="0" y2="1"><stop offset="0.000" stop-color="#0000ff" stop-opacity="0.00"/><stop offset="0.083" stop-color="#001eff"/><stop offset="0.167" stop-color="#00ccff"/><stop offset="0.250" stop-color="#66ff99"/><stop offset="0.333" stop-color="#edff12"/><stop offset="0.417" stop-color="#ffa900"/><stop offset="0.500" stop-color="#ff3900"/><stop offset="0.583" stop-color="#f70000"/><stop offset="0.667" stop-color="#f70000"/><stop offset="0.750" stop-color="#f80000"/><stop offset="0.833" stop-color="#f90000"/><stop offset="0.917" stop-color="#ff8600"/><stop offset="1.000" stop-color="#e1ff1e"/></linearGradient><linearGradient id="k53" x1="0" y1="0" x2="0" y2="1"><stop offset="0.000" stop-color="#0000ff" stop-opacity="0.00"/><stop offset="0.083" stop-color="#0000ff" stop-opacity="0.62"/><stop offset="0.167" stop-color="#0045ff"/><stop offset="0.250" stop-color="#00bcff"/><stop offset="0.333" stop-color="#2dffd2"/><stop offset="0.417" stop-color="#8bff74"/><stop offset="0.500" stop-color="#f0ff0f"/><stop offset="0.583" stop-color="#ffcc00"/><stop offset="0.667" stop-color="#ffbc00"/><stop offset="0.750" stop-color="#ffaf00"/><stop offset="0.833" stop-color="#ffa500"/><stop offset="0.917" stop-color="#f1ff0e"/><stop offset="1.000" stop-color="#7bff84"/></linearGradient><linearGradient id="k54" x1="0" y1="0" x2="0" y2="1"><stop offset="0.000" stop-color="#0000ff" stop-opacity="0.00"/><stop offset="0.083" stop-color="#0000ff" stop-opacity="0.00"/><stop offset="0.167" stop-color="#0000ff" stop-opacity="0.00"/><stop offset="0.250" stop-color="#0000ff" stop-opacity="0.00"/><stop offset="0.333" stop-color="#0000ff" stop-opacity="0.00"/><stop offset="0.417" stop-color="#0000ff" stop-opacity="0.00"/><stop offset="0.500" stop-color="#0000ff" stop-opacity="0.67"/><stop offset="0.583" stop-color="#003eff"/><stop offset="0.667" stop-color="#008aff"/><stop offset="0.750" stop-color="#00c8ff"/><stop offset="0.833" stop-color="#00fbff"/><stop offset="0.917" stop-color="#00e5ff"/><stop offset="1.000" stop-color="#00b7ff"/></linearGradient><linearGradient id="k55" x1="0" y1="0" x2="0" y2="1"><stop offset="0.000" stop-color="#0000ff" stop-opacity="0.00"/><stop offset="0.083" stop-color="#0000ff" stop-opacity="0.00"/><stop offset="0.167" stop-color="#0000ff" stop-opacity="0.00"/><stop offset="0.250" stop-color="#0000ff" stop-opacity="0.00"/><stop offset="0.333" stop-color="#0000ff" stop-opacity="0.00"/><stop offset="0.417" stop-color="#0000ff" stop-opacity="0.00"/><stop offset="0.500" stop-color="#0000ff" stop-opacity="0.00"/><stop offset="0.583" stop-color="#0000ff" stop-opacity="0.00"/><stop offset="0.667" stop-color="#0000ff" stop-opacity="0.00"/><stop offset="0.750" stop-color="#0000ff" stop-opacity="0.00"/><stop offset="0.833" stop-color="#0000ff" stop-opacity="0.00"/><stop offset="0.917" stop-color="#0000ff" stop-opacity="0.00"/><stop offset="1.000" stop-color="#0000ff" stop-opacity="0.30"/></linearGradient><linearGradient id="k56" x1="0" y1="0" x2="0" y2="1"><stop offset="0.000" stop-color="#0000ff" stop-opacity="0.00"/><stop offset="0.083" stop-color="#0000ff" stop-opacity="0.00"/><stop offset="0.167" stop-color="#0000ff" stop-opacity="0.00"/><stop offset="0.250" stop-color="#0000ff" stop-opacity="0.11"/><stop offset="0.333" stop-color="#0000ff" stop-opacity="0.43"/><stop offset="0.417" stop-color="#0000ff" stop-opacity="0.66"/><stop offset="0.500" stop-color="#0000ff" stop-opacity="0.85"/><stop offset="0.583" stop-color="#0002ff"/><stop offset="0.667" stop-color="#0013ff"/><stop offset="0.750" stop-color="#0021ff"/><stop offset="0.833" stop-color="#002cff"/><stop offset="0.917" stop-color="#0036ff"/><stop offset="1.000" stop-color="#003fff"/></linearGradient><linearGradient id="k57" x1="0" y1="0" x2="0" y2="1"><stop offset="0.000" stop-color="#0000ff" stop-opacity="0.00"/><stop offset="0.083" stop-color="#0033ff"/><stop offset="0.167" stop-color="#00cbff"/><stop offset="0.250" stop-color="#54ffab"/><stop offset="0.333" stop-color="#4cffb3"/><stop offset="0.417" stop-color="#3fffc0"/><stop offset="0.500" stop-color="#36ffc9"/><stop offset="0.583" stop-color="#30ffcf"/><stop offset="0.667" stop-color="#2bffd4"/><stop offset="0.750" stop-color="#24ffdb"/><stop offset="0.833" stop-color="#1dffe2"/><stop offset="0.917" stop-color="#17ffe8"/><stop offset="1.000" stop-color="#13ffec"/></linearGradient><linearGradient id="k58" x1="0" y1="0" x2="0" y2="1"><stop offset="0.000" stop-color="#0000ff" stop-opacity="0.00"/><stop offset="0.083" stop-color="#0000ff" stop-opacity="0.67"/><stop offset="0.167" stop-color="#00afff"/><stop offset="0.250" stop-color="#a0ff5f"/><stop offset="0.333" stop-color="#daff25"/><stop offset="0.417" stop-color="#ecff13"/><stop offset="0.500" stop-color="#ecff13"/><stop offset="0.583" stop-color="#e8ff17"/><stop offset="0.667" stop-color="#e2ff1d"/><stop offset="0.750" stop-color="#d5ff2a"/><stop offset="0.833" stop-color="#c9ff36"/><stop offset="0.917" stop-color="#bdff42"/><stop offset="1.000" stop-color="#b2ff4d"/></linearGradient><linearGradient id="k59" x1="0" y1="0" x2="0" y2="1"><stop offset="0.000" stop-color="#0000ff" stop-opacity="0.00"/><stop offset="0.083" stop-color="#0000ff" stop-opacity="0.00"/><stop offset="0.167" stop-color="#0000ff" stop-opacity="0.00"/><stop offset="0.250" stop-color="#0034ff"/><stop offset="0.333" stop-color="#00f0ff"/><stop offset="0.417" stop-color="#65ff9a"/><stop offset="0.500" stop-color="#b2ff4d"/><stop offset="0.583" stop-color="#e6ff19"/><stop offset="0.667" stop-color="#fff400"/><stop offset="0.750" stop-color="#ffe300"/><stop offset="0.833" stop-color="#ffe000"/><stop offset="0.917" stop-color="#ffe300"/><stop offset="1.000" stop-color="#ffe900"/></linearGradient><linearGradient id="k60" x1="0" y1="0" x2="0" y2="1"><stop offset="0.000" stop-color="#0000ff" stop-opacity="0.00"/><stop offset="0.083" stop-color="#0000ff" stop-opacity="0.00"/><stop offset="0.167" stop-color="#0000ff" stop-opacity="0.00"/><stop offset="0.250" stop-color="#0000ff" stop-opacity="0.00"/><stop offset="0.333" stop-color="#0000ff" stop-opacity="0.00"/><stop offset="0.417" stop-color="#0013ff"/><stop offset="0.500" stop-color="#00b7ff"/><stop offset="0.583" stop-color="#2cffd3"/><stop offset="0.667" stop-color="#82ff7d"/><stop offset="0.750" stop-color="#bdff42"/><stop offset="0.833" stop-color="#e7ff18"/><stop offset="0.917" stop-color="#fff900"/><stop offset="1.000" stop-color="#ffe300"/></linearGradient><linearGradient id="k61" x1="0" y1="0" x2="0" y2="1"><stop offset="0.000" stop-color="#0000ff" stop-opacity="0.00"/><stop offset="0.083" stop-color="#0000ff" stop-opacity="0.00"/><stop offset="0.167" stop-color="#0000ff" stop-opacity="0.00"/><stop offset="0.250" stop-color="#0000ff" stop-opacity="0.00"/><stop offset="0.333" stop-color="#0000ff" stop-opacity="0.00"/><stop offset="0.417" stop-color="#0000ff" stop-opacity="0.00"/><stop offset="0.500" stop-color="#0000ff" stop-opacity="0.00"/><stop offset="0.583" stop-color="#0000ff" stop-opacity="0.97"/><stop offset="0.667" stop-color="#008fff"/><stop offset="0.750" stop-color="#00fcff"/><stop offset="0.833" stop-color="#4fffb0"/><stop offset="0.917" stop-color="#8dff72"/><stop offset="1.000" stop-color="#beff41"/></linearGradient><linearGradient id="k62" x1="0" y1="0" x2="0" y2="1"><stop offset="0.000" stop-color="#0000ff" stop-opacity="0.00"/><stop offset="0.083" stop-color="#0000ff" stop-opacity="0.00"/><stop offset="0.167" stop-color="#0000ff" stop-opacity="0.00"/><stop offset="0.250" stop-color="#0000ff" stop-opacity="0.00"/><stop offset="0.333" stop-color="#0000ff" stop-opacity="0.00"/><stop offset="0.417" stop-color="#0000ff" stop-opacity="0.00"/><stop offset="0.500" stop-color="#0000ff" stop-opacity="0.00"/><stop offset="0.583" stop-color="#0000ff" stop-opacity="0.00"/><stop offset="0.667" stop-color="#0000ff" stop-opacity="0.00"/><stop offset="0.750" stop-color="#0000ff" stop-opacity="0.85"/><stop offset="0.833" stop-color="#006eff"/><stop offset="0.917" stop-color="#00d3ff"/><stop offset="1.000" stop-color="#23ffdc"/></linearGradient><linearGradient id="k63" x1="0" y1="0" x2="0" y2="1"><stop offset="0.000" stop-color="#0000ff" stop-opacity="0.00"/><stop offset="0.083" stop-color="#0000ff" stop-opacity="0.00"/><stop offset="0.167" stop-color="#0000ff" stop-opacity="0.00"/><stop offset="0.250" stop-color="#0000ff" stop-opacity="0.00"/><stop offset="0.333" stop-color="#0000ff" stop-opacity="0.00"/><stop offset="0.417" stop-color="#0000ff" stop-opacity="0.00"/><stop offset="0.500" stop-color="#0000ff" stop-opacity="0.00"/><stop offset="0.583" stop-color="#0000ff" stop-opacity="0.00"/><stop offset="0.667" stop-color="#0000ff" stop-opacity="0.00"/><stop offset="0.750" stop-color="#0000ff" stop-opacity="0.00"/><stop offset="0.833" stop-color="#0000ff" stop-opacity="0.00"/><stop offset="0.917" stop-color="#0000ff" stop-opacity="0.75"/><stop offset="1.000" stop-color="#0054ff"/></linearGradient><linearGradient id="a17" x1="0" y1="0" x2="0" y2="1"><stop offset="0.000" stop-color="#0000ff" stop-opacity="0.00"/><stop offset="0.125" stop-color="#000bff"/><stop offset="0.250" stop-color="#008bff"/><stop offset="0.375" stop-color="#00feff"/><stop offset="0.500" stop-color="#66ff99"/><stop offset="0.625" stop-color="#beff41"/><stop offset="0.750" stop-color="#fff900"/><stop offset="0.875" stop-color="#ffc400"/><stop offset="1.000" stop-color="#ffaa00"/></linearGradient><linearGradient id="k65" x1="0" y1="0" x2="0" y2="1"><stop offset="0.000" stop-color="#0000ff" stop-opacity="0.00"/><stop offset="0.083" stop-color="#0000ff" stop-opacity="0.00"/><stop offset="0.167" stop-color="#0000ff" stop-opacity="0.00"/><stop offset="0.250" stop-color="#0000ff" stop-opacity="0.00"/><stop offset="0.333" stop-color="#0000ff" stop-opacity="0.00"/><stop offset="0.417" stop-color="#0000ff" stop-opacity="0.00"/><stop offset="0.500" stop-color="#0000ff" stop-opacity="0.00"/><stop offset="0.583" stop-color="#0000ff" stop-opacity="0.00"/><stop offset="0.667" stop-color="#0000ff" stop-opacity="0.00"/><stop offset="0.750" stop-color="#0000ff" stop-opacity="0.00"/><stop offset="0.833" stop-color="#0000ff" stop-opacity="0.32"/><stop offset="0.917" stop-color="#0000ff" stop-opacity="0.80"/><stop offset="1.000" stop-color="#000dff"/></linearGradient><linearGradient id="k66" x1="0" y1="0" x2="0" y2="1"><stop offset="0.000" stop-color="#0000ff" stop-opacity="0.00"/><stop offset="0.083" stop-color="#0000ff" stop-opacity="0.00"/><stop offset="0.167" stop-color="#0000ff" stop-opacity="0.00"/><stop offset="0.250" stop-color="#0000ff" stop-opacity="0.00"/><stop offset="0.333" stop-color="#0000ff" stop-opacity="0.00"/><stop offset="0.417" stop-color="#0000ff" stop-opacity="0.92"/><stop offset="0.500" stop-color="#0061ff"/><stop offset="0.583" stop-color="#00b2ff"/><stop offset="0.667" stop-color="#00f2ff"/><stop offset="0.750" stop-color="#19ffe6"/><stop offset="0.833" stop-color="#22ffdd"/><stop offset="0.917" stop-color="#19ffe6"/><stop offset="1.000" stop-color="#05fffa"/></linearGradient><linearGradient id="k67" x1="0" y1="0" x2="0" y2="1"><stop offset="0.000" stop-color="#003cff"/><stop offset="0.083" stop-color="#00acff"/><stop offset="0.167" stop-color="#0bfff4"/><stop offset="0.250" stop-color="#5cffa3"/><stop offset="0.333" stop-color="#d9ff26"/><stop offset="0.417" stop-color="#ffd600"/><stop offset="0.500" stop-color="#ffc300"/><stop offset="0.583" stop-color="#ffb500"/><stop offset="0.667" stop-color="#ffa900"/><stop offset="0.750" stop-color="#ffb700"/><stop offset="0.833" stop-color="#ffe300"/><stop offset="0.917" stop-color="#e6ff19"/><stop offset="1.000" stop-color="#abff54"/></linearGradient><linearGradient id="k68" x1="0" y1="0" x2="0" y2="1"><stop offset="0.000" stop-color="#00a6ff"/><stop offset="0.083" stop-color="#16ffe9"/><stop offset="0.167" stop-color="#73ff8c"/><stop offset="0.250" stop-color="#c3ff3c"/><stop offset="0.333" stop-color="#ffb500"/><stop offset="0.417" stop-color="#ff6500"/><stop offset="0.500" stop-color="#ff5a00"/><stop offset="0.583" stop-color="#ff5300"/><stop offset="0.667" stop-color="#ff4d00"/><stop offset="0.750" stop-color="#ff6300"/><stop offset="0.833" stop-color="#ff9900"/><stop offset="0.917" stop-color="#ffd800"/><stop offset="1.000" stop-color="#e2ff1d"/></linearGradient><linearGradient id="k69" x1="0" y1="0" x2="0" y2="1"><stop offset="0.000" stop-color="#0000ff" stop-opacity="0.00"/><stop offset="0.083" stop-color="#0000ff" stop-opacity="0.00"/><stop offset="0.167" stop-color="#0000ff" stop-opacity="0.00"/><stop offset="0.250" stop-color="#0000ff" stop-opacity="0.39"/><stop offset="0.333" stop-color="#005dff"/><stop offset="0.417" stop-color="#00ebff"/><stop offset="0.500" stop-color="#45ffba"/><stop offset="0.583" stop-color="#88ff77"/><stop offset="0.667" stop-color="#bbff44"/><stop offset="0.750" stop-color="#d0ff2f"/><stop offset="0.833" stop-color="#c3ff3c"/><stop offset="0.917" stop-color="#a5ff5a"/><stop offset="1.000" stop-color="#7dff82"/></linearGradient><linearGradient id="k70" x1="0" y1="0" x2="0" y2="1"><stop offset="0.000" stop-color="#0000ff" stop-opacity="0.00"/><stop offset="0.083" stop-color="#0000ff" stop-opacity="0.00"/><stop offset="0.167" stop-color="#0000ff" stop-opacity="0.00"/><stop offset="0.250" stop-color="#0000ff" stop-opacity="0.00"/><stop offset="0.333" stop-color="#0000ff" stop-opacity="0.00"/><stop offset="0.417" stop-color="#0000ff" stop-opacity="0.00"/><stop offset="0.500" stop-color="#0000ff" stop-opacity="0.00"/><stop offset="0.583" stop-color="#0000ff" stop-opacity="0.00"/><stop offset="0.667" stop-color="#0000ff" stop-opacity="0.93"/><stop offset="0.750" stop-color="#0056ff"/><stop offset="0.833" stop-color="#0091ff"/><stop offset="0.917" stop-color="#00afff"/><stop offset="1.000" stop-color="#00b9ff"/></linearGradient><linearGradient id="k71" x1="0" y1="0" x2="0" y2="1"><stop offset="0.000" stop-color="#0000ff" stop-opacity="0.00"/><stop offset="0.083" stop-color="#0000ff" stop-opacity="0.00"/><stop offset="0.167" stop-color="#0000ff" stop-opacity="0.00"/><stop offset="0.250" stop-color="#0000ff" stop-opacity="0.00"/><stop offset="0.333" stop-color="#0000ff" stop-opacity="0.00"/><stop offset="0.417" stop-color="#0000ff" stop-opacity="0.00"/><stop offset="0.500" stop-color="#0000ff" stop-opacity="0.00"/><stop offset="0.583" stop-color="#0000ff" stop-opacity="0.00"/><stop offset="0.667" stop-color="#0000ff" stop-opacity="0.00"/><stop offset="0.750" stop-color="#0000ff" stop-opacity="0.00"/><stop offset="0.833" stop-color="#0000ff" stop-opacity="0.00"/><stop offset="0.917" stop-color="#0000ff" stop-opacity="0.00"/><stop offset="1.000" stop-color="#0000ff" stop-opacity="0.32"/></linearGradient><linearGradient id="k72" x1="0" y1="0" x2="0" y2="1"><stop offset="0.000" stop-color="#0000ff" stop-opacity="0.00"/><stop offset="0.083" stop-color="#0000ff" stop-opacity="0.00"/><stop offset="0.167" stop-color="#0000ff" stop-opacity="0.00"/><stop offset="0.250" stop-color="#0000ff" stop-opacity="0.00"/><stop offset="0.333" stop-color="#0000ff" stop-opacity="0.00"/><stop offset="0.417" stop-color="#0000ff" stop-opacity="0.00"/><stop offset="0.500" stop-color="#0000ff" stop-opacity="0.00"/><stop offset="0.583" stop-color="#0000ff" stop-opacity="0.00"/><stop offset="0.667" stop-color="#0000ff" stop-opacity="0.00"/><stop offset="0.750" stop-color="#0000ff" stop-opacity="0.00"/><stop offset="0.833" stop-color="#0000ff" stop-opacity="0.00"/><stop offset="0.917" stop-color="#0000ff" stop-opacity="0.48"/><stop offset="1.000" stop-color="#0046ff"/></linearGradient><linearGradient id="k73" x1="0" y1="0" x2="0" y2="1"><stop offset="0.000" stop-color="#0000ff" stop-opacity="0.00"/><stop offset="0.083" stop-color="#0000ff" stop-opacity="0.00"/><stop offset="0.167" stop-color="#0000ff" stop-opacity="0.00"/><stop offset="0.250" stop-color="#0000ff" stop-opacity="0.00"/><stop offset="0.333" stop-color="#0000ff" stop-opacity="0.00"/><stop offset="0.417" stop-color="#0000ff" stop-opacity="0.00"/><stop offset="0.500" stop-color="#0000ff" stop-opacity="0.00"/><stop offset="0.583" stop-color="#0000ff" stop-opacity="0.00"/><stop offset="0.667" stop-color="#0000ff" stop-opacity="0.00"/><stop offset="0.750" stop-color="#0000ff" stop-opacity="0.84"/><stop offset="0.833" stop-color="#0094ff"/><stop offset="0.917" stop-color="#00ecff"/><stop offset="1.000" stop-color="#36ffc9"/></linearGradient><linearGradient id="k74" x1="0" y1="0" x2="0" y2="1"><stop offset="0.000" stop-color="#0000ff" stop-opacity="0.00"/><stop offset="0.083" stop-color="#0000ff" stop-opacity="0.00"/><stop offset="0.167" stop-color="#0000ff" stop-opacity="0.00"/><stop offset="0.250" stop-color="#0000ff" stop-opacity="0.00"/><stop offset="0.333" stop-color="#0000ff" stop-opacity="0.00"/><stop offset="0.417" stop-color="#0000ff" stop-opacity="0.00"/><stop offset="0.500" stop-color="#0000ff" stop-opacity="0.00"/><stop offset="0.583" stop-color="#000aff"/><stop offset="0.667" stop-color="#00e9ff"/><stop offset="0.750" stop-color="#93ff6c"/><stop offset="0.833" stop-color="#c1ff3e"/><stop offset="0.917" stop-color="#bcff43"/><stop offset="1.000" stop-color="#cfff30"/></linearGradient><linearGradient id="k75" x1="0" y1="0" x2="0" y2="1"><stop offset="0.000" stop-color="#0000ff" stop-opacity="0.00"/><stop offset="0.083" stop-color="#0000ff" stop-opacity="0.00"/><stop offset="0.167" stop-color="#0000ff" stop-opacity="0.00"/><stop offset="0.250" stop-color="#0000ff" stop-opacity="0.00"/><stop offset="0.333" stop-color="#0000ff" stop-opacity="0.00"/><stop offset="0.417" stop-color="#000aff"/><stop offset="0.500" stop-color="#00e9ff"/><stop offset="0.583" stop-color="#c2ff3d"/><stop offset="0.667" stop-color="#ffc000"/><stop offset="0.750" stop-color="#ff6c00"/><stop offset="0.833" stop-color="#ffa000"/><stop offset="0.917" stop-color="#fff100"/><stop offset="1.000" stop-color="#e8ff17"/></linearGradient><linearGradient id="k76" x1="0" y1="0" x2="0" y2="1"><stop offset="0.000" stop-color="#0000ff" stop-opacity="0.00"/><stop offset="0.083" stop-color="#0000ff" stop-opacity="0.00"/><stop offset="0.167" stop-color="#0000ff" stop-opacity="0.00"/><stop offset="0.250" stop-color="#0012ff"/><stop offset="0.333" stop-color="#00c5ff"/><stop offset="0.417" stop-color="#69ff96"/><stop offset="0.500" stop-color="#fdff02"/><stop offset="0.583" stop-color="#ff7600"/><stop offset="0.667" stop-color="#ff6b00"/><stop offset="0.750" stop-color="#ff7700"/><stop offset="0.833" stop-color="#ffee00"/><stop offset="0.917" stop-color="#a1ff5e"/><stop offset="1.000" stop-color="#6cff93"/></linearGradient><linearGradient id="k77" x1="0" y1="0" x2="0" y2="1"><stop offset="0.000" stop-color="#0000ff" stop-opacity="0.00"/><stop offset="0.083" stop-color="#004bff"/><stop offset="0.167" stop-color="#00dcff"/><stop offset="0.250" stop-color="#1fffe0"/><stop offset="0.333" stop-color="#55ffaa"/><stop offset="0.417" stop-color="#82ff7d"/><stop offset="0.500" stop-color="#a7ff58"/><stop offset="0.583" stop-color="#caff35"/><stop offset="0.667" stop-color="#a4ff5b"/><stop offset="0.750" stop-color="#7bff84"/><stop offset="0.833" stop-color="#17ffe8"/><stop offset="0.917" stop-color="#00c0ff"/><stop offset="1.000" stop-color="#0093ff"/></linearGradient><linearGradient id="k78" x1="0" y1="0" x2="0" y2="1"><stop offset="0.000" stop-color="#00f0ff"/><stop offset="0.083" stop-color="#00c7ff"/><stop offset="0.167" stop-color="#0095ff"/><stop offset="0.250" stop-color="#0067ff"/><stop offset="0.333" stop-color="#0051ff"/><stop offset="0.417" stop-color="#0041ff"/><stop offset="0.500" stop-color="#002eff"/><stop offset="0.583" stop-color="#0018ff"/><stop offset="0.667" stop-color="#0000ff" stop-opacity="0.87"/><stop offset="0.750" stop-color="#0000ff" stop-opacity="0.57"/><stop offset="0.833" stop-color="#0000ff" stop-opacity="0.25"/><stop offset="0.917" stop-color="#0000ff" stop-opacity="0.03"/><stop offset="1.000" stop-color="#0000ff" stop-opacity="0.00"/></linearGradient><linearGradient id="k79" x1="0" y1="0" x2="0" y2="1"><stop offset="0.000" stop-color="#0000ff" stop-opacity="0.00"/><stop offset="0.083" stop-color="#0000ff" stop-opacity="0.84"/><stop offset="0.167" stop-color="#0045ff"/><stop offset="0.250" stop-color="#0061ff"/><stop offset="0.333" stop-color="#0030ff"/><stop offset="0.417" stop-color="#0000ff" stop-opacity="0.85"/><stop offset="0.500" stop-color="#0000ff" stop-opacity="0.21"/><stop offset="0.583" stop-color="#0000ff" stop-opacity="0.00"/><stop offset="0.667" stop-color="#0000ff" stop-opacity="0.00"/><stop offset="0.750" stop-color="#0000ff" stop-opacity="0.00"/><stop offset="0.833" stop-color="#0000ff" stop-opacity="0.00"/><stop offset="0.917" stop-color="#0000ff" stop-opacity="0.00"/><stop offset="1.000" stop-color="#0000ff" stop-opacity="0.00"/></linearGradient><linearGradient id="k80" x1="0" y1="0" x2="0" y2="1"><stop offset="0.000" stop-color="#0000ff" stop-opacity="0.00"/><stop offset="0.083" stop-color="#0000ff" stop-opacity="0.00"/><stop offset="0.167" stop-color="#0000ff" stop-opacity="0.20"/><stop offset="0.250" stop-color="#000dff"/><stop offset="0.333" stop-color="#0068ff"/><stop offset="0.417" stop-color="#00afff"/><stop offset="0.500" stop-color="#00deff"/><stop offset="0.583" stop-color="#00e6ff"/><stop offset="0.667" stop-color="#00afff"/><stop offset="0.750" stop-color="#0068ff"/><stop offset="0.833" stop-color="#0021ff"/><stop offset="0.917" stop-color="#0000ff" stop-opacity="0.45"/><stop offset="1.000" stop-color="#0000ff" stop-opacity="0.00"/></linearGradient><linearGradient id="k81" x1="0" y1="0" x2="0" y2="1"><stop offset="0.000" stop-color="#0000ff" stop-opacity="0.00"/><stop offset="0.083" stop-color="#0000ff" stop-opacity="0.00"/><stop offset="0.167" stop-color="#0000ff" stop-opacity="0.00"/><stop offset="0.250" stop-color="#0000ff" stop-opacity="0.00"/><stop offset="0.333" stop-color="#0000ff" stop-opacity="0.00"/><stop offset="0.417" stop-color="#0000ff" stop-opacity="0.00"/><stop offset="0.500" stop-color="#0000ff" stop-opacity="0.00"/><stop offset="0.583" stop-color="#0000ff" stop-opacity="0.80"/><stop offset="0.667" stop-color="#0042ff"/><stop offset="0.750" stop-color="#0076ff"/><stop offset="0.833" stop-color="#008bff"/><stop offset="0.917" stop-color="#001fff"/><stop offset="1.000" stop-color="#0000ff" stop-opacity="0.00"/></linearGradient><linearGradient id="k82" x1="0" y1="0" x2="0" y2="1"><stop offset="0.000" stop-color="#0000ff" stop-opacity="0.00"/><stop offset="0.083" stop-color="#0000ff" stop-opacity="0.00"/><stop offset="0.167" stop-color="#0000ff" stop-opacity="0.00"/><stop offset="0.250" stop-color="#0000ff" stop-opacity="0.00"/><stop offset="0.333" stop-color="#0000ff" stop-opacity="0.00"/><stop offset="0.417" stop-color="#0000ff" stop-opacity="0.00"/><stop offset="0.500" stop-color="#0000ff" stop-opacity="0.00"/><stop offset="0.583" stop-color="#0000ff" stop-opacity="0.00"/><stop offset="0.667" stop-color="#0000ff" stop-opacity="0.06"/><stop offset="0.750" stop-color="#0000ff" stop-opacity="0.66"/><stop offset="0.833" stop-color="#001cff"/><stop offset="0.917" stop-color="#005eff"/><stop offset="1.000" stop-color="#009cff"/></linearGradient><linearGradient id="k83" x1="0" y1="0" x2="0" y2="1"><stop offset="0.000" stop-color="#0000ff" stop-opacity="0.00"/><stop offset="0.083" stop-color="#0000ff" stop-opacity="0.00"/><stop offset="0.167" stop-color="#0000ff" stop-opacity="0.00"/><stop offset="0.250" stop-color="#0000ff" stop-opacity="0.60"/><stop offset="0.333" stop-color="#001bff"/><stop offset="0.417" stop-color="#005bff"/><stop offset="0.500" stop-color="#0090ff"/><stop offset="0.583" stop-color="#00bcff"/><stop offset="0.667" stop-color="#00e2ff"/><stop offset="0.750" stop-color="#08fff7"/><stop offset="0.833" stop-color="#30ffcf"/><stop offset="0.917" stop-color="#55ffaa"/><stop offset="1.000" stop-color="#76ff89"/></linearGradient><linearGradient id="k84" x1="0" y1="0" x2="0" y2="1"><stop offset="0.000" stop-color="#00b7ff"/><stop offset="0.083" stop-color="#00d4ff"/><stop offset="0.167" stop-color="#00e4ff"/><stop offset="0.250" stop-color="#00eaff"/><stop offset="0.333" stop-color="#00eaff"/><stop offset="0.417" stop-color="#00ebff"/><stop offset="0.500" stop-color="#00ebff"/><stop offset="0.583" stop-color="#00eaff"/><stop offset="0.667" stop-color="#00e8ff"/><stop offset="0.750" stop-color="#00ecff"/><stop offset="0.833" stop-color="#00f4ff"/><stop offset="0.917" stop-color="#00fcff"/><stop offset="1.000" stop-color="#05fffa"/></linearGradient><linearGradient id="k85" x1="0" y1="0" x2="0" y2="1"><stop offset="0.000" stop-color="#0000ff" stop-opacity="0.00"/><stop offset="0.083" stop-color="#0000ff" stop-opacity="0.00"/><stop offset="0.167" stop-color="#0000ff" stop-opacity="0.02"/><stop offset="0.250" stop-color="#0000ff" stop-opacity="0.05"/><stop offset="0.333" stop-color="#0000ff" stop-opacity="0.08"/><stop offset="0.417" stop-color="#0000ff" stop-opacity="0.11"/><stop offset="0.500" stop-color="#0000ff" stop-opacity="0.13"/><stop offset="0.583" stop-color="#0000ff" stop-opacity="0.16"/><stop offset="0.667" stop-color="#0000ff" stop-opacity="0.18"/><stop offset="0.750" stop-color="#0000ff" stop-opacity="0.20"/><stop offset="0.833" stop-color="#0000ff" stop-opacity="0.23"/><stop offset="0.917" stop-color="#0000ff" stop-opacity="0.25"/><stop offset="1.000" stop-color="#0000ff" stop-opacity="0.28"/></linearGradient><linearGradient id="k86" x1="0" y1="0" x2="0" y2="1"><stop offset="0.000" stop-color="#00d4ff"/><stop offset="0.083" stop-color="#00d4ff"/><stop offset="0.167" stop-color="#00d4ff"/><stop offset="0.250" stop-color="#00d4ff"/><stop offset="0.333" stop-color="#00d4ff"/><stop offset="0.417" stop-color="#00c8ff"/><stop offset="0.500" stop-color="#00b7ff"/><stop offset="0.583" stop-color="#00a5ff"/><stop offset="0.667" stop-color="#0093ff"/><stop offset="0.750" stop-color="#0082ff"/><stop offset="0.833" stop-color="#0032ff"/><stop offset="0.917" stop-color="#0000ff" stop-opacity="0.69"/><stop offset="1.000" stop-color="#0000ff" stop-opacity="0.00"/></linearGradient><linearGradient id="k87" x1="0" y1="0" x2="0" y2="1"><stop offset="0.000" stop-color="#0000ff" stop-opacity="0.00"/><stop offset="0.083" stop-color="#0000ff" stop-opacity="0.00"/><stop offset="0.167" stop-color="#0000ff" stop-opacity="0.00"/><stop offset="0.250" stop-color="#0000ff" stop-opacity="0.00"/><stop offset="0.333" stop-color="#0000ff" stop-opacity="0.00"/><stop offset="0.417" stop-color="#0000ff" stop-opacity="0.00"/><stop offset="0.500" stop-color="#0000ff" stop-opacity="0.00"/><stop offset="0.583" stop-color="#0000ff" stop-opacity="0.00"/><stop offset="0.667" stop-color="#0000ff" stop-opacity="0.00"/><stop offset="0.750" stop-color="#0000ff" stop-opacity="0.00"/><stop offset="0.833" stop-color="#0000ff" stop-opacity="0.00"/><stop offset="0.917" stop-color="#0000ff" stop-opacity="0.42"/><stop offset="1.000" stop-color="#0005ff"/></linearGradient><linearGradient id="k88" x1="0" y1="0" x2="0" y2="1"><stop offset="0.000" stop-color="#0000ff" stop-opacity="0.00"/><stop offset="0.083" stop-color="#0000ff" stop-opacity="0.00"/><stop offset="0.167" stop-color="#0000ff" stop-opacity="0.00"/><stop offset="0.250" stop-color="#0000ff" stop-opacity="0.00"/><stop offset="0.333" stop-color="#0000ff" stop-opacity="0.00"/><stop offset="0.417" stop-color="#0000ff" stop-opacity="0.00"/><stop offset="0.500" stop-color="#0000ff" stop-opacity="0.00"/><stop offset="0.583" stop-color="#0000ff" stop-opacity="0.00"/><stop offset="0.667" stop-color="#0000ff" stop-opacity="0.97"/><stop offset="0.750" stop-color="#007cff"/><stop offset="0.833" stop-color="#00e5ff"/><stop offset="0.917" stop-color="#00fcff"/><stop offset="1.000" stop-color="#02fffd"/></linearGradient><linearGradient id="k89" x1="0" y1="0" x2="0" y2="1"><stop offset="0.000" stop-color="#0000ff" stop-opacity="0.00"/><stop offset="0.083" stop-color="#0000ff" stop-opacity="0.00"/><stop offset="0.167" stop-color="#0000ff" stop-opacity="0.00"/><stop offset="0.250" stop-color="#0000ff" stop-opacity="0.00"/><stop offset="0.333" stop-color="#0000ff" stop-opacity="0.19"/><stop offset="0.417" stop-color="#0059ff"/><stop offset="0.500" stop-color="#00e5ff"/><stop offset="0.583" stop-color="#51ffae"/><stop offset="0.667" stop-color="#a5ff5a"/><stop offset="0.750" stop-color="#e8ff17"/><stop offset="0.833" stop-color="#ffdf00"/><stop offset="0.917" stop-color="#e7ff18"/><stop offset="1.000" stop-color="#b3ff4c"/></linearGradient><linearGradient id="k90" x1="0" y1="0" x2="0" y2="1"><stop offset="0.000" stop-color="#0000ff" stop-opacity="0.00"/><stop offset="0.083" stop-color="#0000ff" stop-opacity="0.40"/><stop offset="0.167" stop-color="#0072ff"/><stop offset="0.250" stop-color="#18ffe7"/><stop offset="0.333" stop-color="#aaff55"/><stop offset="0.417" stop-color="#ffd400"/><stop offset="0.500" stop-color="#ffa300"/><stop offset="0.583" stop-color="#ff7e00"/><stop offset="0.667" stop-color="#ff6100"/><stop offset="0.750" stop-color="#ff4a00"/><stop offset="0.833" stop-color="#ff3700"/><stop offset="0.917" stop-color="#ffa100"/><stop offset="1.000" stop-color="#fff700"/></linearGradient><linearGradient id="k91" x1="0" y1="0" x2="0" y2="1"><stop offset="0.000" stop-color="#0000ff" stop-opacity="0.00"/><stop offset="0.083" stop-color="#0084ff"/><stop offset="0.167" stop-color="#6bff94"/><stop offset="0.250" stop-color="#d5ff2a"/><stop offset="0.333" stop-color="#ffd200"/><stop offset="0.417" stop-color="#ff8800"/><stop offset="0.500" stop-color="#ff8700"/><stop offset="0.583" stop-color="#ff8600"/><stop offset="0.667" stop-color="#ff8400"/><stop offset="0.750" stop-color="#ff8200"/><stop offset="0.833" stop-color="#ff7f00"/><stop offset="0.917" stop-color="#ffe800"/><stop offset="1.000" stop-color="#c2ff3d"/></linearGradient><linearGradient id="k92" x1="0" y1="0" x2="0" y2="1"><stop offset="0.000" stop-color="#0000ff" stop-opacity="0.00"/><stop offset="0.083" stop-color="#0000ff" stop-opacity="0.30"/><stop offset="0.167" stop-color="#000aff"/><stop offset="0.250" stop-color="#0061ff"/><stop offset="0.333" stop-color="#00b2ff"/><stop offset="0.417" stop-color="#00ffff"/><stop offset="0.500" stop-color="#22ffdd"/><stop offset="0.583" stop-color="#3fffc0"/><stop offset="0.667" stop-color="#58ffa7"/><stop offset="0.750" stop-color="#6fff90"/><stop offset="0.833" stop-color="#83ff7c"/><stop offset="0.917" stop-color="#49ffb6"/><stop offset="1.000" stop-color="#1affe5"/></linearGradient><linearGradient id="k93" x1="0" y1="0" x2="0" y2="1"><stop offset="0.000" stop-color="#0000ff" stop-opacity="0.00"/><stop offset="0.083" stop-color="#0000ff" stop-opacity="0.00"/><stop offset="0.167" stop-color="#0000ff" stop-opacity="0.00"/><stop offset="0.250" stop-color="#0000ff" stop-opacity="0.00"/><stop offset="0.333" stop-color="#0000ff" stop-opacity="0.00"/><stop offset="0.417" stop-color="#0000ff" stop-opacity="0.00"/><stop offset="0.500" stop-color="#0000ff" stop-opacity="0.00"/><stop offset="0.583" stop-color="#0000ff" stop-opacity="0.00"/><stop offset="0.667" stop-color="#0000ff" stop-opacity="0.11"/><stop offset="0.750" stop-color="#0000ff" stop-opacity="0.61"/><stop offset="0.833" stop-color="#0005ff"/><stop offset="0.917" stop-color="#001bff"/><stop offset="1.000" stop-color="#0025ff"/></linearGradient><linearGradient id="k94" x1="0" y1="0" x2="0" y2="1"><stop offset="0.000" stop-color="#0000ff" stop-opacity="0.00"/><stop offset="0.083" stop-color="#0000ff" stop-opacity="0.00"/><stop offset="0.167" stop-color="#0000ff" stop-opacity="0.00"/><stop offset="0.250" stop-color="#0000ff" stop-opacity="0.00"/><stop offset="0.333" stop-color="#0000ff" stop-opacity="0.00"/><stop offset="0.417" stop-color="#0000ff" stop-opacity="0.00"/><stop offset="0.500" stop-color="#0000ff" stop-opacity="0.00"/><stop offset="0.583" stop-color="#0000ff" stop-opacity="0.00"/><stop offset="0.667" stop-color="#0000ff" stop-opacity="0.30"/><stop offset="0.750" stop-color="#0000ff" stop-opacity="0.82"/><stop offset="0.833" stop-color="#0018ff"/><stop offset="0.917" stop-color="#0043ff"/><stop offset="1.000" stop-color="#0066ff"/></linearGradient><linearGradient id="k95" x1="0" y1="0" x2="0" y2="1"><stop offset="0.000" stop-color="#0000ff" stop-opacity="0.00"/><stop offset="0.083" stop-color="#0000ff" stop-opacity="0.00"/><stop offset="0.167" stop-color="#0000ff" stop-opacity="0.68"/><stop offset="0.250" stop-color="#0058ff"/><stop offset="0.333" stop-color="#00cfff"/><stop offset="0.417" stop-color="#29ffd6"/><stop offset="0.500" stop-color="#56ffa9"/><stop offset="0.583" stop-color="#77ff88"/><stop offset="0.667" stop-color="#8bff74"/><stop offset="0.750" stop-color="#6cff93"/><stop offset="0.833" stop-color="#58ffa7"/><stop offset="0.917" stop-color="#60ff9f"/><stop offset="1.000" stop-color="#66ff99"/></linearGradient><linearGradient id="k96" x1="0" y1="0" x2="0" y2="1"><stop offset="0.000" stop-color="#0000ff" stop-opacity="0.00"/><stop offset="0.083" stop-color="#0060ff"/><stop offset="0.167" stop-color="#36ffc9"/><stop offset="0.250" stop-color="#ecff13"/><stop offset="0.333" stop-color="#ff9e00"/><stop offset="0.417" stop-color="#ff6300"/><stop offset="0.500" stop-color="#ff6900"/><stop offset="0.583" stop-color="#ff7000"/><stop offset="0.667" stop-color="#ff7e00"/><stop offset="0.750" stop-color="#ffcc00"/><stop offset="0.833" stop-color="#feff01"/><stop offset="0.917" stop-color="#f6ff09"/><stop offset="1.000" stop-color="#efff10"/></linearGradient><linearGradient id="k97" x1="0" y1="0" x2="0" y2="1"><stop offset="0.000" stop-color="#0000ff" stop-opacity="0.00"/><stop offset="0.083" stop-color="#0000ff" stop-opacity="0.00"/><stop offset="0.167" stop-color="#0000ff" stop-opacity="0.77"/><stop offset="0.250" stop-color="#0080ff"/><stop offset="0.333" stop-color="#10ffef"/><stop offset="0.417" stop-color="#7bff84"/><stop offset="0.500" stop-color="#aeff51"/><stop offset="0.583" stop-color="#d4ff2b"/><stop offset="0.667" stop-color="#e9ff16"/><stop offset="0.750" stop-color="#c1ff3e"/><stop offset="0.833" stop-color="#a7ff58"/><stop offset="0.917" stop-color="#aeff51"/><stop offset="1.000" stop-color="#b3ff4c"/></linearGradient><linearGradient id="k98" x1="0" y1="0" x2="0" y2="1"><stop offset="0.000" stop-color="#0000ff" stop-opacity="0.00"/><stop offset="0.083" stop-color="#0000ff" stop-opacity="0.00"/><stop offset="0.167" stop-color="#0000ff" stop-opacity="0.00"/><stop offset="0.250" stop-color="#0000ff" stop-opacity="0.00"/><stop offset="0.333" stop-color="#0000ff" stop-opacity="0.00"/><stop offset="0.417" stop-color="#0000ff" stop-opacity="0.00"/><stop offset="0.500" stop-color="#0000ff" stop-opacity="0.00"/><stop offset="0.583" stop-color="#0000ff" stop-opacity="0.71"/><stop offset="0.667" stop-color="#003eff"/><stop offset="0.750" stop-color="#0074ff"/><stop offset="0.833" stop-color="#0099ff"/><stop offset="0.917" stop-color="#00c2ff"/><stop offset="1.000" stop-color="#00e3ff"/></linearGradient><linearGradient id="k99" x1="0" y1="0" x2="0" y2="1"><stop offset="0.000" stop-color="#0000ff" stop-opacity="0.00"/><stop offset="0.083" stop-color="#0000ff" stop-opacity="0.00"/><stop offset="0.167" stop-color="#0000ff" stop-opacity="0.00"/><stop offset="0.250" stop-color="#0000ff" stop-opacity="0.00"/><stop offset="0.333" stop-color="#0000ff" stop-opacity="0.00"/><stop offset="0.417" stop-color="#0000ff" stop-opacity="0.00"/><stop offset="0.500" stop-color="#0000ff" stop-opacity="0.00"/><stop offset="0.583" stop-color="#0000ff" stop-opacity="0.00"/><stop offset="0.667" stop-color="#0000ff" stop-opacity="0.00"/><stop offset="0.750" stop-color="#0000ff" stop-opacity="0.00"/><stop offset="0.833" stop-color="#0000ff" stop-opacity="0.00"/><stop offset="0.917" stop-color="#0000ff" stop-opacity="0.00"/><stop offset="1.000" stop-color="#0000ff" stop-opacity="0.34"/></linearGradient><linearGradient id="k100" x1="0" y1="0" x2="0" y2="1"><stop offset="0.000" stop-color="#0000ff" stop-opacity="0.14"/><stop offset="0.083" stop-color="#0000ff" stop-opacity="0.16"/><stop offset="0.167" stop-color="#0000ff" stop-opacity="0.17"/><stop offset="0.250" stop-color="#0000ff" stop-opacity="0.19"/><stop offset="0.333" stop-color="#0000ff" stop-opacity="0.20"/><stop offset="0.417" stop-color="#0000ff" stop-opacity="0.22"/><stop offset="0.500" stop-color="#0000ff" stop-opacity="0.23"/><stop offset="0.583" stop-color="#0000ff" stop-opacity="0.25"/><stop offset="0.667" stop-color="#0000ff" stop-opacity="0.27"/><stop offset="0.750" stop-color="#0000ff" stop-opacity="0.29"/><stop offset="0.833" stop-color="#0000ff" stop-opacity="0.31"/><stop offset="0.917" stop-color="#0000ff" stop-opacity="0.33"/><stop offset="1.000" stop-color="#0000ff" stop-opacity="0.36"/></linearGradient><linearGradient id="k101" x1="0" y1="0" x2="0" y2="1"><stop offset="0.000" stop-color="#0000ff" stop-opacity="0.53"/><stop offset="0.083" stop-color="#0000ff" stop-opacity="0.59"/><stop offset="0.167" stop-color="#0000ff" stop-opacity="0.65"/><stop offset="0.250" stop-color="#0000ff" stop-opacity="0.70"/><stop offset="0.333" stop-color="#0000ff" stop-opacity="0.76"/><stop offset="0.417" stop-color="#0000ff" stop-opacity="0.82"/><stop offset="0.500" stop-color="#0000ff" stop-opacity="0.87"/><stop offset="0.583" stop-color="#0000ff" stop-opacity="0.93"/><stop offset="0.667" stop-color="#0001ff"/><stop offset="0.750" stop-color="#000bff"/><stop offset="0.833" stop-color="#0016ff"/><stop offset="0.917" stop-color="#0020ff"/><stop offset="1.000" stop-color="#002aff"/></linearGradient><linearGradient id="k102" x1="0" y1="0" x2="0" y2="1"><stop offset="0.000" stop-color="#0000ff" stop-opacity="0.14"/><stop offset="0.083" stop-color="#0000ff" stop-opacity="0.16"/><stop offset="0.167" stop-color="#0000ff" stop-opacity="0.17"/><stop offset="0.250" stop-color="#0000ff" stop-opacity="0.19"/><stop offset="0.333" stop-color="#0000ff" stop-opacity="0.20"/><stop offset="0.417" stop-color="#0000ff" stop-opacity="0.22"/><stop offset="0.500" stop-color="#0000ff" stop-opacity="0.23"/><stop offset="0.583" stop-color="#0000ff" stop-opacity="0.25"/><stop offset="0.667" stop-color="#0000ff" stop-opacity="0.27"/><stop offset="0.750" stop-color="#0000ff" stop-opacity="0.29"/><stop offset="0.833" stop-color="#0000ff" stop-opacity="0.31"/><stop offset="0.917" stop-color="#0000ff" stop-opacity="0.33"/><stop offset="1.000" stop-color="#0000ff" stop-opacity="0.36"/></linearGradient><linearGradient id="k103" x1="0" y1="0" x2="0" y2="1"><stop offset="0.000" stop-color="#0000ff" stop-opacity="0.23"/><stop offset="0.083" stop-color="#0000ff" stop-opacity="0.24"/><stop offset="0.167" stop-color="#0000ff" stop-opacity="0.24"/><stop offset="0.250" stop-color="#0000ff" stop-opacity="0.26"/><stop offset="0.333" stop-color="#0000ff" stop-opacity="0.31"/><stop offset="0.417" stop-color="#0000ff" stop-opacity="0.34"/><stop offset="0.500" stop-color="#0000ff" stop-opacity="0.34"/><stop offset="0.583" stop-color="#0000ff" stop-opacity="0.35"/><stop offset="0.667" stop-color="#0000ff" stop-opacity="0.35"/><stop offset="0.750" stop-color="#0000ff" stop-opacity="0.32"/><stop offset="0.833" stop-color="#0000ff" stop-opacity="0.26"/><stop offset="0.917" stop-color="#0000ff" stop-opacity="0.24"/><stop offset="1.000" stop-color="#0000ff" stop-opacity="0.23"/></linearGradient><linearGradient id="k104" x1="0" y1="0" x2="0" y2="1"><stop offset="0.000" stop-color="#00f7ff"/><stop offset="0.083" stop-color="#00fdff"/><stop offset="0.167" stop-color="#04fffb"/><stop offset="0.250" stop-color="#24ffdb"/><stop offset="0.333" stop-color="#74ff8b"/><stop offset="0.417" stop-color="#a3ff5c"/><stop offset="0.500" stop-color="#a8ff57"/><stop offset="0.583" stop-color="#acff53"/><stop offset="0.667" stop-color="#b0ff4f"/><stop offset="0.750" stop-color="#83ff7c"/><stop offset="0.833" stop-color="#1bffe4"/><stop offset="0.917" stop-color="#09fff6"/><stop offset="1.000" stop-color="#00f7ff"/></linearGradient><linearGradient id="k105" x1="0" y1="0" x2="0" y2="1"><stop offset="0.000" stop-color="#0000ff" stop-opacity="0.23"/><stop offset="0.083" stop-color="#0000ff" stop-opacity="0.24"/><stop offset="0.167" stop-color="#0000ff" stop-opacity="0.24"/><stop offset="0.250" stop-color="#0000ff" stop-opacity="0.26"/><stop offset="0.333" stop-color="#0000ff" stop-opacity="0.31"/><stop offset="0.417" stop-color="#0000ff" stop-opacity="0.34"/><stop offset="0.500" stop-color="#0000ff" stop-opacity="0.34"/><stop offset="0.583" stop-color="#0000ff" stop-opacity="0.35"/><stop offset="0.667" stop-color="#0000ff" stop-opacity="0.35"/><stop offset="0.750" stop-color="#0000ff" stop-opacity="0.32"/><stop offset="0.833" stop-color="#0000ff" stop-opacity="0.26"/><stop offset="0.917" stop-color="#0000ff" stop-opacity="0.24"/><stop offset="1.000" stop-color="#0000ff" stop-opacity="0.23"/></linearGradient><linearGradient id="k106" x1="0" y1="0" x2="0" y2="1"><stop offset="0.000" stop-color="#0000ff" stop-opacity="0.00"/><stop offset="0.083" stop-color="#0000ff" stop-opacity="0.00"/><stop offset="0.167" stop-color="#0000ff" stop-opacity="0.00"/><stop offset="0.250" stop-color="#0000ff" stop-opacity="0.00"/><stop offset="0.333" stop-color="#0000ff" stop-opacity="0.00"/><stop offset="0.417" stop-color="#0000ff" stop-opacity="0.00"/><stop offset="0.500" stop-color="#0000ff" stop-opacity="0.00"/><stop offset="0.583" stop-color="#0000ff" stop-opacity="0.00"/><stop offset="0.667" stop-color="#0000ff" stop-opacity="0.00"/><stop offset="0.750" stop-color="#0000ff" stop-opacity="0.00"/><stop offset="0.833" stop-color="#0000ff" stop-opacity="0.00"/><stop offset="0.917" stop-color="#0000ff" stop-opacity="0.00"/><stop offset="1.000" stop-color="#0000ff" stop-opacity="0.35"/></linearGradient><linearGradient id="k107" x1="0" y1="0" x2="0" y2="1"><stop offset="0.000" stop-color="#0000ff" stop-opacity="0.00"/><stop offset="0.083" stop-color="#0000ff" stop-opacity="0.00"/><stop offset="0.167" stop-color="#0000ff" stop-opacity="0.00"/><stop offset="0.250" stop-color="#0000ff" stop-opacity="0.00"/><stop offset="0.333" stop-color="#0000ff" stop-opacity="0.00"/><stop offset="0.417" stop-color="#0000ff" stop-opacity="0.00"/><stop offset="0.500" stop-color="#0000ff" stop-opacity="0.00"/><stop offset="0.583" stop-color="#0000ff" stop-opacity="0.00"/><stop offset="0.667" stop-color="#0000ff" stop-opacity="0.00"/><stop offset="0.750" stop-color="#0000ff" stop-opacity="0.00"/><stop offset="0.833" stop-color="#0000ff" stop-opacity="0.69"/><stop offset="0.917" stop-color="#002eff"/><stop offset="1.000" stop-color="#0078ff"/></linearGradient><linearGradient id="k108" x1="0" y1="0" x2="0" y2="1"><stop offset="0.000" stop-color="#0000ff" stop-opacity="0.00"/><stop offset="0.083" stop-color="#0000ff" stop-opacity="0.00"/><stop offset="0.167" stop-color="#0000ff" stop-opacity="0.00"/><stop offset="0.250" stop-color="#0000ff" stop-opacity="0.00"/><stop offset="0.333" stop-color="#0000ff" stop-opacity="0.00"/><stop offset="0.417" stop-color="#0000ff" stop-opacity="0.00"/><stop offset="0.500" stop-color="#0000ff" stop-opacity="0.00"/><stop offset="0.583" stop-color="#0000ff" stop-opacity="0.27"/><stop offset="0.667" stop-color="#000dff"/><stop offset="0.750" stop-color="#0065ff"/><stop offset="0.833" stop-color="#00b0ff"/><stop offset="0.917" stop-color="#00f1ff"/><stop offset="1.000" stop-color="#2affd5"/></linearGradient><linearGradient id="k109" x1="0" y1="0" x2="0" y2="1"><stop offset="0.000" stop-color="#0000ff" stop-opacity="0.00"/><stop offset="0.083" stop-color="#0000ff" stop-opacity="0.00"/><stop offset="0.167" stop-color="#0000ff" stop-opacity="0.00"/><stop offset="0.250" stop-color="#0000ff" stop-opacity="0.00"/><stop offset="0.333" stop-color="#0000ff" stop-opacity="0.00"/><stop offset="0.417" stop-color="#0000ff" stop-opacity="0.68"/><stop offset="0.500" stop-color="#004aff"/><stop offset="0.583" stop-color="#00a7ff"/><stop offset="0.667" stop-color="#00f3ff"/><stop offset="0.750" stop-color="#33ffcc"/><stop offset="0.833" stop-color="#68ff97"/><stop offset="0.917" stop-color="#96ff69"/><stop offset="1.000" stop-color="#beff41"/></linearGradient><linearGradient id="k110" x1="0" y1="0" x2="0" y2="1"><stop offset="0.000" stop-color="#0000ff" stop-opacity="0.00"/><stop offset="0.083" stop-color="#0000ff" stop-opacity="0.00"/><stop offset="0.167" stop-color="#0000ff" stop-opacity="0.04"/><stop offset="0.250" stop-color="#0000ff" stop-opacity="0.78"/><stop offset="0.333" stop-color="#0062ff"/><stop offset="0.417" stop-color="#00e2ff"/><stop offset="0.500" stop-color="#3dffc2"/><stop offset="0.583" stop-color="#7eff81"/><stop offset="0.667" stop-color="#afff50"/><stop offset="0.750" stop-color="#d8ff27"/><stop offset="0.833" stop-color="#fbff04"/><stop offset="0.917" stop-color="#ffe400"/><stop offset="1.000" stop-color="#ffca00"/></linearGradient><linearGradient id="k111" x1="0" y1="0" x2="0" y2="1"><stop offset="0.000" stop-color="#0000ff" stop-opacity="0.00"/><stop offset="0.083" stop-color="#0000ff" stop-opacity="0.41"/><stop offset="0.167" stop-color="#0017ff"/><stop offset="0.250" stop-color="#009aff"/><stop offset="0.333" stop-color="#2fffd0"/><stop offset="0.417" stop-color="#b0ff4f"/><stop offset="0.500" stop-color="#f5ff0a"/><stop offset="0.583" stop-color="#ffe000"/><stop offset="0.667" stop-color="#ffc400"/><stop offset="0.750" stop-color="#ffac00"/><stop offset="0.833" stop-color="#ff9800"/><stop offset="0.917" stop-color="#ff8600"/><stop offset="1.000" stop-color="#ff7600"/></linearGradient><linearGradient id="k112" x1="0" y1="0" x2="0" y2="1"><stop offset="0.000" stop-color="#0000ff" stop-opacity="0.00"/><stop offset="0.083" stop-color="#0000ff" stop-opacity="0.90"/><stop offset="0.167" stop-color="#007bff"/><stop offset="0.250" stop-color="#16ffe9"/><stop offset="0.333" stop-color="#b6ff49"/><stop offset="0.417" stop-color="#ffc900"/><stop offset="0.500" stop-color="#ff9500"/><stop offset="0.583" stop-color="#ff7d00"/><stop offset="0.667" stop-color="#ff7100"/><stop offset="0.750" stop-color="#ff6600"/><stop offset="0.833" stop-color="#ff5d00"/><stop offset="0.917" stop-color="#ff5400"/><stop offset="1.000" stop-color="#ff4d00"/></linearGradient><linearGradient id="k113" x1="0" y1="0" x2="0" y2="1"><stop offset="0.000" stop-color="#0000ff" stop-opacity="0.00"/><stop offset="0.083" stop-color="#0010ff"/><stop offset="0.167" stop-color="#00a3ff"/><stop offset="0.250" stop-color="#41ffbe"/><stop offset="0.333" stop-color="#dcff23"/><stop offset="0.417" stop-color="#ffaf00"/><stop offset="0.500" stop-color="#ff8800"/><stop offset="0.583" stop-color="#ff7b00"/><stop offset="0.667" stop-color="#ff7800"/><stop offset="0.750" stop-color="#ff7500"/><stop offset="0.833" stop-color="#ff7200"/><stop offset="0.917" stop-color="#ff6e00"/><stop offset="1.000" stop-color="#ff6b00"/></linearGradient><linearGradient id="k114" x1="0" y1="0" x2="0" y2="1"><stop offset="0.000" stop-color="#0000ff" stop-opacity="0.00"/><stop offset="0.083" stop-color="#0000ff" stop-opacity="0.92"/><stop offset="0.167" stop-color="#0071ff"/><stop offset="0.250" stop-color="#00f7ff"/><stop offset="0.333" stop-color="#80ff7f"/><stop offset="0.417" stop-color="#eaff15"/><stop offset="0.500" stop-color="#ffed00"/><stop offset="0.583" stop-color="#ffdc00"/><stop offset="0.667" stop-color="#ffd400"/><stop offset="0.750" stop-color="#ffcd00"/><stop offset="0.833" stop-color="#ffc500"/><stop offset="0.917" stop-color="#ffbe00"/><stop offset="1.000" stop-color="#ffb800"/></linearGradient><linearGradient id="k115" x1="0" y1="0" x2="0" y2="1"><stop offset="0.000" stop-color="#0000ff" stop-opacity="0.00"/><stop offset="0.083" stop-color="#0000ff" stop-opacity="0.43"/><stop offset="0.167" stop-color="#0006ff"/><stop offset="0.250" stop-color="#0069ff"/><stop offset="0.333" stop-color="#00d6ff"/><stop offset="0.417" stop-color="#35ffca"/><stop offset="0.500" stop-color="#65ff9a"/><stop offset="0.583" stop-color="#83ff7c"/><stop offset="0.667" stop-color="#97ff68"/><stop offset="0.750" stop-color="#a9ff56"/><stop offset="0.833" stop-color="#baff45"/><stop offset="0.917" stop-color="#c9ff36"/><stop offset="1.000" stop-color="#d6ff29"/></linearGradient><linearGradient id="k116" x1="0" y1="0" x2="0" y2="1"><stop offset="0.000" stop-color="#0000ff" stop-opacity="0.00"/><stop offset="0.083" stop-color="#0000ff" stop-opacity="0.00"/><stop offset="0.167" stop-color="#0000ff" stop-opacity="0.00"/><stop offset="0.250" stop-color="#0000ff" stop-opacity="0.27"/><stop offset="0.333" stop-color="#0000ff" stop-opacity="0.86"/><stop offset="0.417" stop-color="#003fff"/><stop offset="0.500" stop-color="#007dff"/><stop offset="0.583" stop-color="#00aeff"/><stop offset="0.667" stop-color="#00d5ff"/><stop offset="0.750" stop-color="#00f6ff"/><stop offset="0.833" stop-color="#15ffea"/><stop offset="0.917" stop-color="#2fffd0"/><stop offset="1.000" stop-color="#47ffb8"/></linearGradient><linearGradient id="k117" x1="0" y1="0" x2="0" y2="1"><stop offset="0.000" stop-color="#0000ff" stop-opacity="0.00"/><stop offset="0.083" stop-color="#0000ff" stop-opacity="0.00"/><stop offset="0.167" stop-color="#0000ff" stop-opacity="0.00"/><stop offset="0.250" stop-color="#0000ff" stop-opacity="0.00"/><stop offset="0.333" stop-color="#0000ff" stop-opacity="0.00"/><stop offset="0.417" stop-color="#0000ff" stop-opacity="0.00"/><stop offset="0.500" stop-color="#0000ff" stop-opacity="0.00"/><stop offset="0.583" stop-color="#0000ff" stop-opacity="0.33"/><stop offset="0.667" stop-color="#0000ff" stop-opacity="0.82"/><stop offset="0.750" stop-color="#001fff"/><stop offset="0.833" stop-color="#004dff"/><stop offset="0.917" stop-color="#0076ff"/><stop offset="1.000" stop-color="#009bff"/></linearGradient><linearGradient id="k118" x1="0" y1="0" x2="0" y2="1"><stop offset="0.000" stop-color="#0000ff" stop-opacity="0.00"/><stop offset="0.083" stop-color="#0000ff" stop-opacity="0.00"/><stop offset="0.167" stop-color="#0000ff" stop-opacity="0.00"/><stop offset="0.250" stop-color="#0000ff" stop-opacity="0.00"/><stop offset="0.333" stop-color="#0000ff" stop-opacity="0.00"/><stop offset="0.417" stop-color="#0000ff" stop-opacity="0.00"/><stop offset="0.500" stop-color="#0000ff" stop-opacity="0.00"/><stop offset="0.583" stop-color="#0000ff" stop-opacity="0.00"/><stop offset="0.667" stop-color="#0000ff" stop-opacity="0.00"/><stop offset="0.750" stop-color="#0000ff" stop-opacity="0.00"/><stop offset="0.833" stop-color="#0000ff" stop-opacity="0.00"/><stop offset="0.917" stop-color="#0000ff" stop-opacity="0.26"/><stop offset="1.000" stop-color="#0000ff" stop-opacity="0.66"/></linearGradient><linearGradient id="k119" x1="0" y1="0" x2="0" y2="1"><stop offset="0.000" stop-color="#00cbff"/><stop offset="0.083" stop-color="#0073ff"/><stop offset="0.167" stop-color="#0009ff"/><stop offset="0.250" stop-color="#0000ff" stop-opacity="0.12"/><stop offset="0.333" stop-color="#0000ff" stop-opacity="0.00"/><stop offset="0.417" stop-color="#0000ff" stop-opacity="0.00"/><stop offset="0.500" stop-color="#0000ff" stop-opacity="0.00"/><stop offset="0.583" stop-color="#0000ff" stop-opacity="0.00"/><stop offset="0.667" stop-color="#0000ff" stop-opacity="0.00"/><stop offset="0.750" stop-color="#0000ff" stop-opacity="0.00"/><stop offset="0.833" stop-color="#0000ff" stop-opacity="0.00"/><stop offset="0.917" stop-color="#0000ff" stop-opacity="0.00"/><stop offset="1.000" stop-color="#0000ff" stop-opacity="0.00"/></linearGradient><linearGradient id="k120" x1="0" y1="0" x2="0" y2="1"><stop offset="0.000" stop-color="#84ff7b"/><stop offset="0.083" stop-color="#ffc500"/><stop offset="0.167" stop-color="#ff3f00"/><stop offset="0.250" stop-color="#ff0a00"/><stop offset="0.333" stop-color="#ff4300"/><stop offset="0.417" stop-color="#ff8e00"/><stop offset="0.500" stop-color="#ffe300"/><stop offset="0.583" stop-color="#c2ff3d"/><stop offset="0.667" stop-color="#68ff97"/><stop offset="0.750" stop-color="#0ffff0"/><stop offset="0.833" stop-color="#00b6ff"/><stop offset="0.917" stop-color="#0061ff"/><stop offset="1.000" stop-color="#000fff"/></linearGradient><linearGradient id="k121" x1="0" y1="0" x2="0" y2="1"><stop offset="0.000" stop-color="#0000ff" stop-opacity="0.00"/><stop offset="0.083" stop-color="#0000ff" stop-opacity="0.00"/><stop offset="0.167" stop-color="#0000ff" stop-opacity="0.00"/><stop offset="0.250" stop-color="#00adff"/><stop offset="0.333" stop-color="#90ff6f"/><stop offset="0.417" stop-color="#ffcc00"/><stop offset="0.500" stop-color="#ff5b00"/><stop offset="0.583" stop-color="#ff1300"/><stop offset="0.667" stop-color="#ef0000"/><stop offset="0.750" stop-color="#f70000"/><stop offset="0.833" stop-color="#ff1b00"/><stop offset="0.917" stop-color="#ff4a00"/><stop offset="1.000" stop-color="#ff8100"/></linearGradient><linearGradient id="k122" x1="0" y1="0" x2="0" y2="1"><stop offset="0.000" stop-color="#0000ff" stop-opacity="0.00"/><stop offset="0.083" stop-color="#0000ff" stop-opacity="0.00"/><stop offset="0.167" stop-color="#0000ff" stop-opacity="0.00"/><stop offset="0.250" stop-color="#0000ff" stop-opacity="0.00"/><stop offset="0.333" stop-color="#0000ff" stop-opacity="0.00"/><stop offset="0.417" stop-color="#0000ff" stop-opacity="0.00"/><stop offset="0.500" stop-color="#0000ff" stop-opacity="0.00"/><stop offset="0.583" stop-color="#005bff"/><stop offset="0.667" stop-color="#25ffda"/><stop offset="0.750" stop-color="#c2ff3d"/><stop offset="0.833" stop-color="#ffc200"/><stop offset="0.917" stop-color="#ff6700"/><stop offset="1.000" stop-color="#ff2500"/></linearGradient><linearGradient id="k123" x1="0" y1="0" x2="0" y2="1"><stop offset="0.000" stop-color="#0000ff" stop-opacity="0.00"/><stop offset="0.083" stop-color="#0000ff" stop-opacity="0.00"/><stop offset="0.167" stop-color="#0000ff" stop-opacity="0.00"/><stop offset="0.250" stop-color="#0000ff" stop-opacity="0.00"/><stop offset="0.333" stop-color="#0000ff" stop-opacity="0.00"/><stop offset="0.417" stop-color="#0000ff" stop-opacity="0.00"/><stop offset="0.500" stop-color="#0000ff" stop-opacity="0.00"/><stop offset="0.583" stop-color="#0000ff" stop-opacity="0.00"/><stop offset="0.667" stop-color="#0000ff" stop-opacity="0.00"/><stop offset="0.750" stop-color="#0000ff" stop-opacity="0.00"/><stop offset="0.833" stop-color="#0000ff" stop-opacity="0.00"/><stop offset="0.917" stop-color="#0023ff"/><stop offset="1.000" stop-color="#00d6ff"/></linearGradient><linearGradient id="a20" x1="0" y1="0" x2="0" y2="1"><stop offset="0.000" stop-color="#0000ff" stop-opacity="0.00"/><stop offset="0.125" stop-color="#0024ff"/><stop offset="0.250" stop-color="#00baff"/><stop offset="0.375" stop-color="#43ffbc"/><stop offset="0.500" stop-color="#bbff44"/><stop offset="0.625" stop-color="#ffdb00"/><stop offset="0.750" stop-color="#ff8700"/><stop offset="0.875" stop-color="#ff4900"/><stop offset="1.000" stop-color="#ff2a00"/></linearGradient><linearGradient id="a21" x1="0" y1="0" x2="0" y2="1"><stop offset="0.000" stop-color="#0000ff" stop-opacity="0.00"/><stop offset="0.125" stop-color="#002cff"/><stop offset="0.250" stop-color="#00caff"/><stop offset="0.375" stop-color="#59ffa6"/><stop offset="0.500" stop-color="#d8ff27"/><stop offset="0.625" stop-color="#ffba00"/><stop offset="0.750" stop-color="#ff6100"/><stop offset="0.875" stop-color="#ff2000"/><stop offset="1.000" stop-color="#ff0000"/></linearGradient><linearGradient id="a19" x1="0" y1="0" x2="0" y2="1"><stop offset="0.000" stop-color="#0000ff" stop-opacity="0.00"/><stop offset="0.125" stop-color="#001cff"/><stop offset="0.250" stop-color="#00aaff"/><stop offset="0.375" stop-color="#2cffd3"/><stop offset="0.500" stop-color="#9fff60"/><stop offset="0.625" stop-color="#fffd00"/><stop offset="0.750" stop-color="#ffad00"/><stop offset="0.875" stop-color="#ff7200"/><stop offset="1.000" stop-color="#ff5500"/></linearGradient><linearGradient id="a22" x1="0" y1="0" x2="0" y2="1"><stop offset="0.000" stop-color="#0000ff" stop-opacity="0.00"/><stop offset="0.125" stop-color="#0034ff"/><stop offset="0.250" stop-color="#00d9ff"/><stop offset="0.375" stop-color="#70ff8f"/><stop offset="0.500" stop-color="#f4ff0b"/><stop offset="0.625" stop-color="#ff9800"/><stop offset="0.750" stop-color="#ff3b00"/><stop offset="0.875" stop-color="#f60000"/><stop offset="1.000" stop-color="#d50000"/></linearGradient><linearGradient id="a23" x1="0" y1="0" x2="0" y2="1"><stop offset="0.000" stop-color="#0000ff" stop-opacity="0.00"/><stop offset="0.125" stop-color="#003dff"/><stop offset="0.250" stop-color="#00e9ff"/><stop offset="0.375" stop-color="#86ff79"/><stop offset="0.500" stop-color="#ffed00"/><stop offset="0.625" stop-color="#ff7700"/><stop offset="0.750" stop-color="#ff1500"/><stop offset="0.875" stop-color="#cd0000"/><stop offset="1.000" stop-color="#aa0000"/></linearGradient><linearGradient id="k129" x1="0" y1="0" x2="0" y2="1"><stop offset="0.000" stop-color="#00f7ff"/><stop offset="0.083" stop-color="#00faff"/><stop offset="0.167" stop-color="#00fdff"/><stop offset="0.250" stop-color="#01fffe"/><stop offset="0.333" stop-color="#04fffb"/><stop offset="0.417" stop-color="#07fff8"/><stop offset="0.500" stop-color="#08fff7"/><stop offset="0.583" stop-color="#08fff7"/><stop offset="0.667" stop-color="#08fff7"/><stop offset="0.750" stop-color="#00f4ff"/><stop offset="0.833" stop-color="#0081ff"/><stop offset="0.917" stop-color="#0066ff"/><stop offset="1.000" stop-color="#004cff"/></linearGradient><linearGradient id="k130" x1="0" y1="0" x2="0" y2="1"><stop offset="0.000" stop-color="#00b2ff"/><stop offset="0.083" stop-color="#00bbff"/><stop offset="0.167" stop-color="#00c3ff"/><stop offset="0.250" stop-color="#00cbff"/><stop offset="0.333" stop-color="#00d3ff"/><stop offset="0.417" stop-color="#00e7ff"/><stop offset="0.500" stop-color="#00fcff"/><stop offset="0.583" stop-color="#12ffed"/><stop offset="0.667" stop-color="#a1ff5e"/><stop offset="0.750" stop-color="#ddff22"/><stop offset="0.833" stop-color="#c5ff3a"/><stop offset="0.917" stop-color="#5affa5"/><stop offset="1.000" stop-color="#3cffc3"/></linearGradient><linearGradient id="k131" x1="0" y1="0" x2="0" y2="1"><stop offset="0.000" stop-color="#0000ff" stop-opacity="0.00"/><stop offset="0.083" stop-color="#0000ff" stop-opacity="0.57"/><stop offset="0.167" stop-color="#0013ff"/><stop offset="0.250" stop-color="#005cff"/><stop offset="0.333" stop-color="#0074ff"/><stop offset="0.417" stop-color="#007cff"/><stop offset="0.500" stop-color="#0084ff"/><stop offset="0.583" stop-color="#008cff"/><stop offset="0.667" stop-color="#0093ff"/><stop offset="0.750" stop-color="#009bff"/><stop offset="0.833" stop-color="#00a3ff"/><stop offset="0.917" stop-color="#00abff"/><stop offset="1.000" stop-color="#00b2ff"/></linearGradient><linearGradient id="k132" x1="0" y1="0" x2="0" y2="1"><stop offset="0.000" stop-color="#0000ff" stop-opacity="0.33"/><stop offset="0.083" stop-color="#0000ff" stop-opacity="0.35"/><stop offset="0.167" stop-color="#0000ff" stop-opacity="0.37"/><stop offset="0.250" stop-color="#0000ff" stop-opacity="0.38"/><stop offset="0.333" stop-color="#0000ff" stop-opacity="0.40"/><stop offset="0.417" stop-color="#0000ff" stop-opacity="0.42"/><stop offset="0.500" stop-color="#0000ff" stop-opacity="0.43"/><stop offset="0.583" stop-color="#0000ff" stop-opacity="0.45"/><stop offset="0.667" stop-color="#0000ff" stop-opacity="0.47"/><stop offset="0.750" stop-color="#0000ff" stop-opacity="0.48"/><stop offset="0.833" stop-color="#0000ff" stop-opacity="0.50"/><stop offset="0.917" stop-color="#0000ff" stop-opacity="0.52"/><stop offset="1.000" stop-color="#0000ff" stop-opacity="0.53"/></linearGradient><linearGradient id="k133" x1="0" y1="0" x2="0" y2="1"><stop offset="0.000" stop-color="#00e6ff"/><stop offset="0.083" stop-color="#00d2ff"/><stop offset="0.167" stop-color="#00bfff"/><stop offset="0.250" stop-color="#00afff"/><stop offset="0.333" stop-color="#00a4ff"/><stop offset="0.417" stop-color="#009aff"/><stop offset="0.500" stop-color="#0097ff"/><stop offset="0.583" stop-color="#00d1ff"/><stop offset="0.667" stop-color="#00deff"/><stop offset="0.750" stop-color="#00e8ff"/><stop offset="0.833" stop-color="#00f3ff"/><stop offset="0.917" stop-color="#00fdff"/><stop offset="1.000" stop-color="#08fff7"/></linearGradient><linearGradient id="k134" x1="0" y1="0" x2="0" y2="1"><stop offset="0.000" stop-color="#0000ff" stop-opacity="0.00"/><stop offset="0.083" stop-color="#0000ff" stop-opacity="0.00"/><stop offset="0.167" stop-color="#0000ff" stop-opacity="0.00"/><stop offset="0.250" stop-color="#0000ff" stop-opacity="0.00"/><stop offset="0.333" stop-color="#0000ff" stop-opacity="0.00"/><stop offset="0.417" stop-color="#0000ff" stop-opacity="0.00"/><stop offset="0.500" stop-color="#0000ff" stop-opacity="0.00"/><stop offset="0.583" stop-color="#0000ff" stop-opacity="0.00"/><stop offset="0.667" stop-color="#0000ff" stop-opacity="0.00"/><stop offset="0.750" stop-color="#0000ff" stop-opacity="0.00"/><stop offset="0.833" stop-color="#0000ff" stop-opacity="0.22"/><stop offset="0.917" stop-color="#0000ff" stop-opacity="0.57"/><stop offset="1.000" stop-color="#0000ff" stop-opacity="0.88"/></linearGradient><linearGradient id="k135" x1="0" y1="0" x2="0" y2="1"><stop offset="0.000" stop-color="#0000ff" stop-opacity="0.00"/><stop offset="0.083" stop-color="#0038ff"/><stop offset="0.167" stop-color="#00a8ff"/><stop offset="0.250" stop-color="#00edff"/><stop offset="0.333" stop-color="#1effe1"/><stop offset="0.417" stop-color="#2cffd3"/><stop offset="0.500" stop-color="#33ffcc"/><stop offset="0.583" stop-color="#22ffdd"/><stop offset="0.667" stop-color="#10ffef"/><stop offset="0.750" stop-color="#4cffb3"/><stop offset="0.833" stop-color="#6bff94"/><stop offset="0.917" stop-color="#7eff81"/><stop offset="1.000" stop-color="#91ff6e"/></linearGradient><linearGradient id="k136" x1="0" y1="0" x2="0" y2="1"><stop offset="0.000" stop-color="#0000ff" stop-opacity="0.00"/><stop offset="0.083" stop-color="#00a3ff"/><stop offset="0.167" stop-color="#53ffac"/><stop offset="0.250" stop-color="#baff45"/><stop offset="0.333" stop-color="#fcff03"/><stop offset="0.417" stop-color="#fff600"/><stop offset="0.500" stop-color="#fff400"/><stop offset="0.583" stop-color="#e8ff17"/><stop offset="0.667" stop-color="#c6ff39"/><stop offset="0.750" stop-color="#ffe900"/><stop offset="0.833" stop-color="#ffc700"/><stop offset="0.917" stop-color="#ffb500"/><stop offset="1.000" stop-color="#ffa400"/></linearGradient><linearGradient id="k137" x1="0" y1="0" x2="0" y2="1"><stop offset="0.000" stop-color="#0000ff" stop-opacity="0.00"/><stop offset="0.083" stop-color="#0000ff" stop-opacity="0.00"/><stop offset="0.167" stop-color="#0000ff" stop-opacity="0.00"/><stop offset="0.250" stop-color="#0000ff" stop-opacity="0.00"/><stop offset="0.333" stop-color="#0000ff" stop-opacity="0.32"/><stop offset="0.417" stop-color="#0023ff"/><stop offset="0.500" stop-color="#007eff"/><stop offset="0.583" stop-color="#00b2ff"/><stop offset="0.667" stop-color="#00d2ff"/><stop offset="0.750" stop-color="#2dffd2"/><stop offset="0.833" stop-color="#6aff95"/><stop offset="0.917" stop-color="#99ff66"/><stop offset="1.000" stop-color="#c4ff3b"/></linearGradient><linearGradient id="k138" x1="0" y1="0" x2="0" y2="1"><stop offset="0.000" stop-color="#0000ff" stop-opacity="0.00"/><stop offset="0.083" stop-color="#0000ff" stop-opacity="0.00"/><stop offset="0.167" stop-color="#0000ff" stop-opacity="0.00"/><stop offset="0.250" stop-color="#0000ff" stop-opacity="0.00"/><stop offset="0.333" stop-color="#0000ff" stop-opacity="0.00"/><stop offset="0.417" stop-color="#0000ff" stop-opacity="0.00"/><stop offset="0.500" stop-color="#0000ff" stop-opacity="0.00"/><stop offset="0.583" stop-color="#0000ff" stop-opacity="0.00"/><stop offset="0.667" stop-color="#0000ff" stop-opacity="0.00"/><stop offset="0.750" stop-color="#0000ff" stop-opacity="0.00"/><stop offset="0.833" stop-color="#0000ff" stop-opacity="0.22"/><stop offset="0.917" stop-color="#0000ff" stop-opacity="0.91"/><stop offset="1.000" stop-color="#0044ff"/></linearGradient><linearGradient id="k139" x1="0" y1="0" x2="0" y2="1"><stop offset="0.000" stop-color="#0000ff" stop-opacity="0.00"/><stop offset="0.083" stop-color="#0000ff" stop-opacity="0.18"/><stop offset="0.167" stop-color="#0000ff" stop-opacity="0.33"/><stop offset="0.250" stop-color="#0000ff" stop-opacity="0.44"/><stop offset="0.333" stop-color="#0000ff" stop-opacity="0.48"/><stop offset="0.417" stop-color="#0000ff" stop-opacity="0.52"/><stop offset="0.500" stop-color="#0000ff" stop-opacity="0.56"/><stop offset="0.583" stop-color="#0000ff" stop-opacity="0.57"/><stop offset="0.667" stop-color="#0000ff" stop-opacity="0.56"/><stop offset="0.750" stop-color="#0000ff" stop-opacity="0.56"/><stop offset="0.833" stop-color="#0000ff" stop-opacity="0.52"/><stop offset="0.917" stop-color="#0000ff" stop-opacity="0.39"/><stop offset="1.000" stop-color="#0000ff" stop-opacity="0.27"/></linearGradient><linearGradient id="k140" x1="0" y1="0" x2="0" y2="1"><stop offset="0.000" stop-color="#0000ff" stop-opacity="0.00"/><stop offset="0.083" stop-color="#0000ff" stop-opacity="0.63"/><stop offset="0.167" stop-color="#002cff"/><stop offset="0.250" stop-color="#0075ff"/><stop offset="0.333" stop-color="#0091ff"/><stop offset="0.417" stop-color="#00a9ff"/><stop offset="0.500" stop-color="#00bdff"/><stop offset="0.583" stop-color="#00bbff"/><stop offset="0.667" stop-color="#00b4ff"/><stop offset="0.750" stop-color="#00aeff"/><stop offset="0.833" stop-color="#0091ff"/><stop offset="0.917" stop-color="#0049ff"/><stop offset="1.000" stop-color="#0008ff"/></linearGradient><linearGradient id="k141" x1="0" y1="0" x2="0" y2="1"><stop offset="0.000" stop-color="#0000ff" stop-opacity="0.00"/><stop offset="0.083" stop-color="#0000ff" stop-opacity="0.00"/><stop offset="0.167" stop-color="#0000ff" stop-opacity="0.13"/><stop offset="0.250" stop-color="#0000ff" stop-opacity="0.86"/><stop offset="0.333" stop-color="#003fff"/><stop offset="0.417" stop-color="#0087ff"/><stop offset="0.500" stop-color="#00c8ff"/><stop offset="0.583" stop-color="#00edff"/><stop offset="0.667" stop-color="#04fffb"/><stop offset="0.750" stop-color="#13ffec"/><stop offset="0.833" stop-color="#00f9ff"/><stop offset="0.917" stop-color="#009cff"/><stop offset="1.000" stop-color="#0044ff"/></linearGradient><linearGradient id="k142" x1="0" y1="0" x2="0" y2="1"><stop offset="0.000" stop-color="#0000ff" stop-opacity="0.00"/><stop offset="0.083" stop-color="#0000ff" stop-opacity="0.00"/><stop offset="0.167" stop-color="#0000ff" stop-opacity="0.00"/><stop offset="0.250" stop-color="#0000ff" stop-opacity="0.00"/><stop offset="0.333" stop-color="#0000ff" stop-opacity="0.00"/><stop offset="0.417" stop-color="#0000ff" stop-opacity="0.00"/><stop offset="0.500" stop-color="#0000ff" stop-opacity="0.76"/><stop offset="0.583" stop-color="#0034ff"/><stop offset="0.667" stop-color="#0074ff"/><stop offset="0.750" stop-color="#00a8ff"/><stop offset="0.833" stop-color="#00b7ff"/><stop offset="0.917" stop-color="#0080ff"/><stop offset="1.000" stop-color="#003eff"/></linearGradient><linearGradient id="k143" x1="0" y1="0" x2="0" y2="1"><stop offset="0.000" stop-color="#0000ff" stop-opacity="0.00"/><stop offset="0.083" stop-color="#0000ff" stop-opacity="0.00"/><stop offset="0.167" stop-color="#0000ff" stop-opacity="0.00"/><stop offset="0.250" stop-color="#0000ff" stop-opacity="0.00"/><stop offset="0.333" stop-color="#0000ff" stop-opacity="0.00"/><stop offset="0.417" stop-color="#0000ff" stop-opacity="0.00"/><stop offset="0.500" stop-color="#0000ff" stop-opacity="0.00"/><stop offset="0.583" stop-color="#0000ff" stop-opacity="0.00"/><stop offset="0.667" stop-color="#0000ff" stop-opacity="0.00"/><stop offset="0.750" stop-color="#0000ff" stop-opacity="0.48"/><stop offset="0.833" stop-color="#0000ff"/><stop offset="0.917" stop-color="#000dff"/><stop offset="1.000" stop-color="#0000ff" stop-opacity="0.96"/></linearGradient><linearGradient id="k144" x1="0" y1="0" x2="0" y2="1"><stop offset="0.000" stop-color="#0000ff" stop-opacity="0.33"/><stop offset="0.083" stop-color="#0000ff" stop-opacity="0.35"/><stop offset="0.167" stop-color="#0000ff" stop-opacity="0.37"/><stop offset="0.250" stop-color="#0000ff" stop-opacity="0.38"/><stop offset="0.333" stop-color="#0000ff" stop-opacity="0.40"/><stop offset="0.417" stop-color="#0000ff" stop-opacity="0.42"/><stop offset="0.500" stop-color="#0000ff" stop-opacity="0.43"/><stop offset="0.583" stop-color="#0000ff" stop-opacity="0.45"/><stop offset="0.667" stop-color="#0000ff" stop-opacity="0.47"/><stop offset="0.750" stop-color="#0000ff" stop-opacity="0.48"/><stop offset="0.833" stop-color="#0000ff" stop-opacity="0.50"/><stop offset="0.917" stop-color="#0000ff" stop-opacity="0.52"/><stop offset="1.000" stop-color="#0000ff" stop-opacity="0.53"/></linearGradient><linearGradient id="k145" x1="0" y1="0" x2="0" y2="1"><stop offset="0.000" stop-color="#0000ff" stop-opacity="0.33"/><stop offset="0.083" stop-color="#0000ff" stop-opacity="0.38"/><stop offset="0.167" stop-color="#0000ff" stop-opacity="0.43"/><stop offset="0.250" stop-color="#0000ff" stop-opacity="0.48"/><stop offset="0.333" stop-color="#0000ff" stop-opacity="0.53"/><stop offset="0.417" stop-color="#0000ff" stop-opacity="0.58"/><stop offset="0.500" stop-color="#0000ff" stop-opacity="0.63"/><stop offset="0.583" stop-color="#0000ff" stop-opacity="0.80"/><stop offset="0.667" stop-color="#0034ff"/><stop offset="0.750" stop-color="#0067ff"/><stop offset="0.833" stop-color="#007aff"/><stop offset="0.917" stop-color="#008eff"/><stop offset="1.000" stop-color="#00a2ff"/></linearGradient><linearGradient id="k146" x1="0" y1="0" x2="0" y2="1"><stop offset="0.000" stop-color="#0000ff" stop-opacity="0.53"/><stop offset="0.083" stop-color="#0000ff" stop-opacity="0.54"/><stop offset="0.167" stop-color="#0000ff" stop-opacity="0.56"/><stop offset="0.250" stop-color="#0000ff" stop-opacity="0.57"/><stop offset="0.333" stop-color="#0000ff" stop-opacity="0.58"/><stop offset="0.417" stop-color="#0000ff" stop-opacity="0.59"/><stop offset="0.500" stop-color="#0000ff" stop-opacity="0.60"/><stop offset="0.583" stop-color="#0000ff" stop-opacity="0.61"/><stop offset="0.667" stop-color="#0000ff" stop-opacity="0.62"/><stop offset="0.750" stop-color="#0000ff" stop-opacity="0.63"/><stop offset="0.833" stop-color="#0000ff" stop-opacity="0.64"/><stop offset="0.917" stop-color="#0000ff" stop-opacity="0.66"/><stop offset="1.000" stop-color="#0000ff" stop-opacity="0.67"/></linearGradient><linearGradient id="k147" x1="0" y1="0" x2="0" y2="1"><stop offset="0.000" stop-color="#0000ff" stop-opacity="0.53"/><stop offset="0.083" stop-color="#001bff"/><stop offset="0.167" stop-color="#0042ff"/><stop offset="0.250" stop-color="#005fff"/><stop offset="0.333" stop-color="#007cff"/><stop offset="0.417" stop-color="#0080ff"/><stop offset="0.500" stop-color="#0080ff"/><stop offset="0.583" stop-color="#0080ff"/><stop offset="0.667" stop-color="#0080ff"/><stop offset="0.750" stop-color="#004aff"/><stop offset="0.833" stop-color="#0000ff" stop-opacity="0.68"/><stop offset="0.917" stop-color="#0000ff" stop-opacity="0.47"/><stop offset="1.000" stop-color="#0000ff" stop-opacity="0.27"/></linearGradient><linearGradient id="k148" x1="0" y1="0" x2="0" y2="1"><stop offset="0.000" stop-color="#0000ff" stop-opacity="0.53"/><stop offset="0.083" stop-color="#0000ff" stop-opacity="0.72"/><stop offset="0.167" stop-color="#0000ff" stop-opacity="0.90"/><stop offset="0.250" stop-color="#000cff"/><stop offset="0.333" stop-color="#0023ff"/><stop offset="0.417" stop-color="#003eff"/><stop offset="0.500" stop-color="#0059ff"/><stop offset="0.583" stop-color="#0075ff"/><stop offset="0.667" stop-color="#0080ff"/><stop offset="0.750" stop-color="#0080ff"/><stop offset="0.833" stop-color="#0080ff"/><stop offset="0.917" stop-color="#0026ff"/><stop offset="1.000" stop-color="#0000ff" stop-opacity="0.00"/></linearGradient><linearGradient id="k149" x1="0" y1="0" x2="0" y2="1"><stop offset="0.000" stop-color="#0000ff" stop-opacity="0.00"/><stop offset="0.083" stop-color="#0000ff" stop-opacity="0.00"/><stop offset="0.167" stop-color="#0000ff" stop-opacity="0.00"/><stop offset="0.250" stop-color="#0000ff" stop-opacity="0.00"/><stop offset="0.333" stop-color="#0000ff" stop-opacity="0.00"/><stop offset="0.417" stop-color="#0000ff" stop-opacity="0.00"/><stop offset="0.500" stop-color="#0000ff" stop-opacity="0.00"/><stop offset="0.583" stop-color="#0000ff" stop-opacity="0.00"/><stop offset="0.667" stop-color="#0000ff" stop-opacity="0.00"/><stop offset="0.750" stop-color="#0000ff" stop-opacity="0.35"/><stop offset="0.833" stop-color="#0000ff" stop-opacity="0.96"/><stop offset="0.917" stop-color="#002cff"/><stop offset="1.000" stop-color="#0043ff"/></linearGradient><linearGradient id="k150" x1="0" y1="0" x2="0" y2="1"><stop offset="0.000" stop-color="#0000ff" stop-opacity="0.00"/><stop offset="0.083" stop-color="#0000ff" stop-opacity="0.00"/><stop offset="0.167" stop-color="#0000ff" stop-opacity="0.00"/><stop offset="0.250" stop-color="#0000ff" stop-opacity="0.00"/><stop offset="0.333" stop-color="#0000ff" stop-opacity="0.39"/><stop offset="0.417" stop-color="#000fff"/><stop offset="0.500" stop-color="#0076ff"/><stop offset="0.583" stop-color="#00cfff"/><stop offset="0.667" stop-color="#06fff9"/><stop offset="0.750" stop-color="#33ffcc"/><stop offset="0.833" stop-color="#5affa5"/><stop offset="0.917" stop-color="#4cffb3"/><stop offset="1.000" stop-color="#28ffd7"/></linearGradient><linearGradient id="k151" x1="0" y1="0" x2="0" y2="1"><stop offset="0.000" stop-color="#0000ff" stop-opacity="0.00"/><stop offset="0.083" stop-color="#0000ff" stop-opacity="0.55"/><stop offset="0.167" stop-color="#001bff"/><stop offset="0.250" stop-color="#007aff"/><stop offset="0.333" stop-color="#00e7ff"/><stop offset="0.417" stop-color="#58ffa7"/><stop offset="0.500" stop-color="#c9ff36"/><stop offset="0.583" stop-color="#ffea00"/><stop offset="0.667" stop-color="#ffd900"/><stop offset="0.750" stop-color="#ffca00"/><stop offset="0.833" stop-color="#ffbb00"/><stop offset="0.917" stop-color="#fff300"/><stop offset="1.000" stop-color="#c2ff3d"/></linearGradient><linearGradient id="k152" x1="0" y1="0" x2="0" y2="1"><stop offset="0.000" stop-color="#0000ff" stop-opacity="0.00"/><stop offset="0.083" stop-color="#0000ff" stop-opacity="0.67"/><stop offset="0.167" stop-color="#0037ff"/><stop offset="0.250" stop-color="#00a2ff"/><stop offset="0.333" stop-color="#1bffe4"/><stop offset="0.417" stop-color="#95ff6a"/><stop offset="0.500" stop-color="#ffef00"/><stop offset="0.583" stop-color="#ffa100"/><stop offset="0.667" stop-color="#ff9300"/><stop offset="0.750" stop-color="#ff8600"/><stop offset="0.833" stop-color="#ff7a00"/><stop offset="0.917" stop-color="#ffb900"/><stop offset="1.000" stop-color="#f2ff0d"/></linearGradient><linearGradient id="k153" x1="0" y1="0" x2="0" y2="1"><stop offset="0.000" stop-color="#0000ff" stop-opacity="0.00"/><stop offset="0.083" stop-color="#0000ff" stop-opacity="0.00"/><stop offset="0.167" stop-color="#0000ff" stop-opacity="0.00"/><stop offset="0.250" stop-color="#0000ff" stop-opacity="0.46"/><stop offset="0.333" stop-color="#0020ff"/><stop offset="0.417" stop-color="#0093ff"/><stop offset="0.500" stop-color="#0efff1"/><stop offset="0.583" stop-color="#6fff90"/><stop offset="0.667" stop-color="#9fff60"/><stop offset="0.750" stop-color="#c7ff38"/><stop offset="0.833" stop-color="#e9ff16"/><stop offset="0.917" stop-color="#c9ff36"/><stop offset="1.000" stop-color="#93ff6c"/></linearGradient><linearGradient id="k154" x1="0" y1="0" x2="0" y2="1"><stop offset="0.000" stop-color="#0000ff" stop-opacity="0.00"/><stop offset="0.083" stop-color="#0000ff" stop-opacity="0.00"/><stop offset="0.167" stop-color="#0000ff" stop-opacity="0.00"/><stop offset="0.250" stop-color="#0000ff" stop-opacity="0.00"/><stop offset="0.333" stop-color="#0000ff" stop-opacity="0.00"/><stop offset="0.417" stop-color="#0000ff" stop-opacity="0.00"/><stop offset="0.500" stop-color="#0000ff" stop-opacity="0.00"/><stop offset="0.583" stop-color="#0000ff" stop-opacity="0.52"/><stop offset="0.667" stop-color="#002bff"/><stop offset="0.750" stop-color="#0080ff"/><stop offset="0.833" stop-color="#00c8ff"/><stop offset="0.917" stop-color="#00dfff"/><stop offset="1.000" stop-color="#00dbff"/></linearGradient><linearGradient id="k155" x1="0" y1="0" x2="0" y2="1"><stop offset="0.000" stop-color="#0000ff" stop-opacity="0.00"/><stop offset="0.083" stop-color="#0000ff" stop-opacity="0.00"/><stop offset="0.167" stop-color="#0000ff" stop-opacity="0.00"/><stop offset="0.250" stop-color="#0000ff" stop-opacity="0.00"/><stop offset="0.333" stop-color="#0000ff" stop-opacity="0.00"/><stop offset="0.417" stop-color="#0000ff" stop-opacity="0.00"/><stop offset="0.500" stop-color="#0000ff" stop-opacity="0.00"/><stop offset="0.583" stop-color="#0000ff" stop-opacity="0.00"/><stop offset="0.667" stop-color="#0000ff" stop-opacity="0.00"/><stop offset="0.750" stop-color="#0000ff" stop-opacity="0.00"/><stop offset="0.833" stop-color="#0000ff" stop-opacity="0.00"/><stop offset="0.917" stop-color="#0000ff" stop-opacity="0.22"/><stop offset="1.000" stop-color="#0000ff" stop-opacity="0.73"/></linearGradient><linearGradient id="k156" x1="0" y1="0" x2="0" y2="1"><stop offset="0.000" stop-color="#0000ff" stop-opacity="0.00"/><stop offset="0.083" stop-color="#0000ff" stop-opacity="0.00"/><stop offset="0.167" stop-color="#0000ff" stop-opacity="0.00"/><stop offset="0.250" stop-color="#0000ff" stop-opacity="0.00"/><stop offset="0.333" stop-color="#0000ff" stop-opacity="0.00"/><stop offset="0.417" stop-color="#0000ff" stop-opacity="0.00"/><stop offset="0.500" stop-color="#0000ff" stop-opacity="0.00"/><stop offset="0.583" stop-color="#0000ff" stop-opacity="0.00"/><stop offset="0.667" stop-color="#0000ff" stop-opacity="0.00"/><stop offset="0.750" stop-color="#0000ff" stop-opacity="0.00"/><stop offset="0.833" stop-color="#0000ff" stop-opacity="0.00"/><stop offset="0.917" stop-color="#0000ff" stop-opacity="0.23"/><stop offset="1.000" stop-color="#0000ff" stop-opacity="0.60"/></linearGradient><linearGradient id="k157" x1="0" y1="0" x2="0" y2="1"><stop offset="0.000" stop-color="#0000ff" stop-opacity="0.00"/><stop offset="0.083" stop-color="#0000ff" stop-opacity="0.00"/><stop offset="0.167" stop-color="#0000ff" stop-opacity="0.00"/><stop offset="0.250" stop-color="#0000ff" stop-opacity="0.00"/><stop offset="0.333" stop-color="#0000ff" stop-opacity="0.00"/><stop offset="0.417" stop-color="#0000ff" stop-opacity="0.00"/><stop offset="0.500" stop-color="#0000ff" stop-opacity="0.47"/><stop offset="0.583" stop-color="#001aff"/><stop offset="0.667" stop-color="#0066ff"/><stop offset="0.750" stop-color="#00a5ff"/><stop offset="0.833" stop-color="#00d0ff"/><stop offset="0.917" stop-color="#00cbff"/><stop offset="1.000" stop-color="#00b8ff"/></linearGradient><linearGradient id="k158" x1="0" y1="0" x2="0" y2="1"><stop offset="0.000" stop-color="#0000ff" stop-opacity="0.00"/><stop offset="0.083" stop-color="#0000ff" stop-opacity="0.20"/><stop offset="0.167" stop-color="#0000ff" stop-opacity="0.79"/><stop offset="0.250" stop-color="#0047ff"/><stop offset="0.333" stop-color="#00b0ff"/><stop offset="0.417" stop-color="#22ffdd"/><stop offset="0.500" stop-color="#8aff75"/><stop offset="0.583" stop-color="#acff53"/><stop offset="0.667" stop-color="#c9ff36"/><stop offset="0.750" stop-color="#e1ff1e"/><stop offset="0.833" stop-color="#e4ff1b"/><stop offset="0.917" stop-color="#a6ff59"/><stop offset="1.000" stop-color="#63ff9c"/></linearGradient><linearGradient id="k159" x1="0" y1="0" x2="0" y2="1"><stop offset="0.000" stop-color="#0000ff" stop-opacity="0.00"/><stop offset="0.083" stop-color="#0006ff"/><stop offset="0.167" stop-color="#008dff"/><stop offset="0.250" stop-color="#0efff1"/><stop offset="0.333" stop-color="#87ff78"/><stop offset="0.417" stop-color="#fffd00"/><stop offset="0.500" stop-color="#ff9300"/><stop offset="0.583" stop-color="#ff8b00"/><stop offset="0.667" stop-color="#ff8300"/><stop offset="0.750" stop-color="#ff7b00"/><stop offset="0.833" stop-color="#ff8b00"/><stop offset="0.917" stop-color="#ffe500"/><stop offset="1.000" stop-color="#beff41"/></linearGradient><linearGradient id="k160" x1="0" y1="0" x2="0" y2="1"><stop offset="0.000" stop-color="#0000ff" stop-opacity="0.00"/><stop offset="0.083" stop-color="#0000ff" stop-opacity="0.16"/><stop offset="0.167" stop-color="#0000ff" stop-opacity="0.83"/><stop offset="0.250" stop-color="#005aff"/><stop offset="0.333" stop-color="#00d3ff"/><stop offset="0.417" stop-color="#53ffac"/><stop offset="0.500" stop-color="#c9ff36"/><stop offset="0.583" stop-color="#eeff11"/><stop offset="0.667" stop-color="#fff100"/><stop offset="0.750" stop-color="#ffd700"/><stop offset="0.833" stop-color="#ffd600"/><stop offset="0.917" stop-color="#e2ff1d"/><stop offset="1.000" stop-color="#96ff69"/></linearGradient><linearGradient id="k161" x1="0" y1="0" x2="0" y2="1"><stop offset="0.000" stop-color="#0000ff" stop-opacity="0.00"/><stop offset="0.083" stop-color="#0000ff" stop-opacity="0.00"/><stop offset="0.167" stop-color="#0000ff" stop-opacity="0.00"/><stop offset="0.250" stop-color="#0000ff" stop-opacity="0.00"/><stop offset="0.333" stop-color="#0000ff" stop-opacity="0.00"/><stop offset="0.417" stop-color="#0000ff" stop-opacity="0.24"/><stop offset="0.500" stop-color="#0022ff"/><stop offset="0.583" stop-color="#0086ff"/><stop offset="0.667" stop-color="#00d5ff"/><stop offset="0.750" stop-color="#17ffe8"/><stop offset="0.833" stop-color="#40ffbf"/><stop offset="0.917" stop-color="#2dffd2"/><stop offset="1.000" stop-color="#0cfff3"/></linearGradient><linearGradient id="k162" x1="0" y1="0" x2="0" y2="1"><stop offset="0.000" stop-color="#0000ff" stop-opacity="0.00"/><stop offset="0.083" stop-color="#0000ff" stop-opacity="0.00"/><stop offset="0.167" stop-color="#0000ff" stop-opacity="0.00"/><stop offset="0.250" stop-color="#0000ff" stop-opacity="0.00"/><stop offset="0.333" stop-color="#0000ff" stop-opacity="0.00"/><stop offset="0.417" stop-color="#0000ff" stop-opacity="0.00"/><stop offset="0.500" stop-color="#0000ff" stop-opacity="0.00"/><stop offset="0.583" stop-color="#0000ff" stop-opacity="0.00"/><stop offset="0.667" stop-color="#0000ff" stop-opacity="0.00"/><stop offset="0.750" stop-color="#0000ff" stop-opacity="0.02"/><stop offset="0.833" stop-color="#0000ff" stop-opacity="0.79"/><stop offset="0.917" stop-color="#001fff"/><stop offset="1.000" stop-color="#003cff"/></linearGradient><linearGradient id="k163" x1="0" y1="0" x2="0" y2="1"><stop offset="0.000" stop-color="#0000ff" stop-opacity="0.00"/><stop offset="0.083" stop-color="#0000ff" stop-opacity="0.00"/><stop offset="0.167" stop-color="#0000ff" stop-opacity="0.42"/><stop offset="0.250" stop-color="#0000ff" stop-opacity="0.96"/><stop offset="0.333" stop-color="#0046ff"/><stop offset="0.417" stop-color="#008eff"/><stop offset="0.500" stop-color="#00bcff"/><stop offset="0.583" stop-color="#00e4ff"/><stop offset="0.667" stop-color="#08fff7"/><stop offset="0.750" stop-color="#27ffd8"/><stop offset="0.833" stop-color="#43ffbc"/><stop offset="0.917" stop-color="#28ffd7"/><stop offset="1.000" stop-color="#16ffe9"/></linearGradient><linearGradient id="k164" x1="0" y1="0" x2="0" y2="1"><stop offset="0.000" stop-color="#00f6ff"/><stop offset="0.083" stop-color="#24ffdb"/><stop offset="0.167" stop-color="#56ffa9"/><stop offset="0.250" stop-color="#bcff43"/><stop offset="0.333" stop-color="#ffe800"/><stop offset="0.417" stop-color="#ffa200"/><stop offset="0.500" stop-color="#ff9e00"/><stop offset="0.583" stop-color="#ff9900"/><stop offset="0.667" stop-color="#ff9400"/><stop offset="0.750" stop-color="#ff9000"/><stop offset="0.833" stop-color="#ff8c00"/><stop offset="0.917" stop-color="#ffd900"/><stop offset="1.000" stop-color="#eeff11"/></linearGradient><linearGradient id="k165" x1="0" y1="0" x2="0" y2="1"><stop offset="0.000" stop-color="#0000ff" stop-opacity="0.00"/><stop offset="0.083" stop-color="#0000ff" stop-opacity="0.00"/><stop offset="0.167" stop-color="#0000ff" stop-opacity="0.00"/><stop offset="0.250" stop-color="#0000ff" stop-opacity="0.00"/><stop offset="0.333" stop-color="#0000ff" stop-opacity="0.00"/><stop offset="0.417" stop-color="#0000ff" stop-opacity="0.04"/><stop offset="0.500" stop-color="#0000ff" stop-opacity="0.59"/><stop offset="0.583" stop-color="#0007ff"/><stop offset="0.667" stop-color="#003cff"/><stop offset="0.750" stop-color="#006aff"/><stop offset="0.833" stop-color="#0094ff"/><stop offset="0.917" stop-color="#0097ff"/><stop offset="1.000" stop-color="#009aff"/></linearGradient><linearGradient id="k166" x1="0" y1="0" x2="0" y2="1"><stop offset="0.000" stop-color="#00b2ff"/><stop offset="0.083" stop-color="#00b9ff"/><stop offset="0.167" stop-color="#00bfff"/><stop offset="0.250" stop-color="#00c5ff"/><stop offset="0.333" stop-color="#00cbff"/><stop offset="0.417" stop-color="#00d1ff"/><stop offset="0.500" stop-color="#00d4ff"/><stop offset="0.583" stop-color="#00d4ff"/><stop offset="0.667" stop-color="#00d4ff"/><stop offset="0.750" stop-color="#00d4ff"/><stop offset="0.833" stop-color="#00d4ff"/><stop offset="0.917" stop-color="#00d4ff"/><stop offset="1.000" stop-color="#00d4ff"/></linearGradient><linearGradient id="k167" x1="0" y1="0" x2="0" y2="1"><stop offset="0.000" stop-color="#0008ff"/><stop offset="0.083" stop-color="#0019ff"/><stop offset="0.167" stop-color="#0029ff"/><stop offset="0.250" stop-color="#003aff"/><stop offset="0.333" stop-color="#004aff"/><stop offset="0.417" stop-color="#0075ff"/><stop offset="0.500" stop-color="#00a3ff"/><stop offset="0.583" stop-color="#00bbff"/><stop offset="0.667" stop-color="#00c7ff"/><stop offset="0.750" stop-color="#00d3ff"/><stop offset="0.833" stop-color="#00dfff"/><stop offset="0.917" stop-color="#00ebff"/><stop offset="1.000" stop-color="#00f7ff"/></linearGradient><linearGradient id="k168" x1="0" y1="0" x2="0" y2="1"><stop offset="0.000" stop-color="#0000ff" stop-opacity="0.67"/><stop offset="0.083" stop-color="#0000ff" stop-opacity="0.76"/><stop offset="0.167" stop-color="#0000ff" stop-opacity="0.86"/><stop offset="0.250" stop-color="#0000ff" stop-opacity="0.96"/><stop offset="0.333" stop-color="#0007ff"/><stop offset="0.417" stop-color="#0031ff"/><stop offset="0.500" stop-color="#005fff"/><stop offset="0.583" stop-color="#0071ff"/><stop offset="0.667" stop-color="#0074ff"/><stop offset="0.750" stop-color="#0077ff"/><stop offset="0.833" stop-color="#007aff"/><stop offset="0.917" stop-color="#007dff"/><stop offset="1.000" stop-color="#0080ff"/></linearGradient><linearGradient id="k169" x1="0" y1="0" x2="0" y2="1"><stop offset="0.000" stop-color="#0000ff" stop-opacity="0.00"/><stop offset="0.083" stop-color="#0000ff" stop-opacity="0.69"/><stop offset="0.167" stop-color="#0031ff"/><stop offset="0.250" stop-color="#007fff"/><stop offset="0.333" stop-color="#00caff"/><stop offset="0.417" stop-color="#00d4ff"/><stop offset="0.500" stop-color="#00d4ff"/><stop offset="0.583" stop-color="#00d4ff"/><stop offset="0.667" stop-color="#00d4ff"/><stop offset="0.750" stop-color="#0098ff"/><stop offset="0.833" stop-color="#0053ff"/><stop offset="0.917" stop-color="#003cff"/><stop offset="1.000" stop-color="#002aff"/></linearGradient><linearGradient id="k170" x1="0" y1="0" x2="0" y2="1"><stop offset="0.000" stop-color="#0000ff" stop-opacity="0.00"/><stop offset="0.083" stop-color="#001aff"/><stop offset="0.167" stop-color="#0082ff"/><stop offset="0.250" stop-color="#0088ff"/><stop offset="0.333" stop-color="#008eff"/><stop offset="0.417" stop-color="#0094ff"/><stop offset="0.500" stop-color="#009aff"/><stop offset="0.583" stop-color="#00a0ff"/><stop offset="0.667" stop-color="#007fff"/><stop offset="0.750" stop-color="#0054ff"/><stop offset="0.833" stop-color="#0028ff"/><stop offset="0.917" stop-color="#0000ff" stop-opacity="0.66"/><stop offset="1.000" stop-color="#0000ff" stop-opacity="0.00"/></linearGradient><linearGradient id="k171" x1="0" y1="0" x2="0" y2="1"><stop offset="0.000" stop-color="#0000ff" stop-opacity="0.00"/><stop offset="0.083" stop-color="#0000ff" stop-opacity="0.12"/><stop offset="0.167" stop-color="#0000ff" stop-opacity="0.25"/><stop offset="0.250" stop-color="#0000ff" stop-opacity="0.37"/><stop offset="0.333" stop-color="#0000ff" stop-opacity="0.42"/><stop offset="0.417" stop-color="#0000ff" stop-opacity="0.42"/><stop offset="0.500" stop-color="#0000ff" stop-opacity="0.41"/><stop offset="0.583" stop-color="#0000ff" stop-opacity="0.40"/><stop offset="0.667" stop-color="#0000ff" stop-opacity="0.39"/><stop offset="0.750" stop-color="#0000ff" stop-opacity="0.34"/><stop offset="0.833" stop-color="#0000ff" stop-opacity="0.23"/><stop offset="0.917" stop-color="#0000ff" stop-opacity="0.11"/><stop offset="1.000" stop-color="#0000ff" stop-opacity="0.00"/></linearGradient><linearGradient id="k172" x1="0" y1="0" x2="0" y2="1"><stop offset="0.000" stop-color="#0000ff" stop-opacity="0.00"/><stop offset="0.083" stop-color="#0000ff" stop-opacity="0.47"/><stop offset="0.167" stop-color="#0000ff" stop-opacity="0.93"/><stop offset="0.250" stop-color="#0033ff"/><stop offset="0.333" stop-color="#004bff"/><stop offset="0.417" stop-color="#0047ff"/><stop offset="0.500" stop-color="#0044ff"/><stop offset="0.583" stop-color="#0041ff"/><stop offset="0.667" stop-color="#003dff"/><stop offset="0.750" stop-color="#0024ff"/><stop offset="0.833" stop-color="#0000ff" stop-opacity="0.86"/><stop offset="0.917" stop-color="#0000ff" stop-opacity="0.43"/><stop offset="1.000" stop-color="#0000ff" stop-opacity="0.00"/></linearGradient><linearGradient id="k173" x1="0" y1="0" x2="0" y2="1"><stop offset="0.000" stop-color="#0000ff" stop-opacity="0.00"/><stop offset="0.083" stop-color="#0000ff" stop-opacity="0.12"/><stop offset="0.167" stop-color="#0000ff" stop-opacity="0.25"/><stop offset="0.250" stop-color="#0000ff" stop-opacity="0.37"/><stop offset="0.333" stop-color="#0000ff" stop-opacity="0.42"/><stop offset="0.417" stop-color="#0000ff" stop-opacity="0.42"/><stop offset="0.500" stop-color="#0000ff" stop-opacity="0.41"/><stop offset="0.583" stop-color="#0000ff" stop-opacity="0.40"/><stop offset="0.667" stop-color="#0000ff" stop-opacity="0.39"/><stop offset="0.750" stop-color="#0000ff" stop-opacity="0.34"/><stop offset="0.833" stop-color="#0000ff" stop-opacity="0.23"/><stop offset="0.917" stop-color="#0000ff" stop-opacity="0.11"/><stop offset="1.000" stop-color="#0000ff" stop-opacity="0.00"/></linearGradient><linearGradient id="k174" x1="0" y1="0" x2="0" y2="1"><stop offset="0.000" stop-color="#0000ff" stop-opacity="0.00"/><stop offset="0.083" stop-color="#0000ff" stop-opacity="0.20"/><stop offset="0.167" stop-color="#0000ff" stop-opacity="0.39"/><stop offset="0.250" stop-color="#0000ff" stop-opacity="0.59"/><stop offset="0.333" stop-color="#0000ff" stop-opacity="0.78"/><stop offset="0.417" stop-color="#0000ff" stop-opacity="0.80"/><stop offset="0.500" stop-color="#0000ff" stop-opacity="0.80"/><stop offset="0.583" stop-color="#0000ff" stop-opacity="0.80"/><stop offset="0.667" stop-color="#0000ff" stop-opacity="0.80"/><stop offset="0.750" stop-color="#0000ff" stop-opacity="0.80"/><stop offset="0.833" stop-color="#0000ff" stop-opacity="0.57"/><stop offset="0.917" stop-color="#0000ff" stop-opacity="0.28"/><stop offset="1.000" stop-color="#0000ff" stop-opacity="0.00"/></linearGradient>
</defs>
<text class="b" x="578.6" y="9.4" font-size="12.45" xml:space="preserve">KLOKOTOS Wavelet Spectra on 19 May</text>
<text class="b" x="835.2" y="9.4">2008</text>
<text class="b" x="344.4" y="35.9" text-anchor="middle">Filtered Series (cutoff at 7.5 mHz)</text>
<text class="b" x="1137.9" y="36.2" text-anchor="middle">Pc4 Wavelet Power</text>
<text class="b" x="344.3" y="847.8" text-anchor="middle">UT (hours)</text>
<text class="b" x="1137.6" y="847.8" text-anchor="middle">UT (hours)</text>
<g clip-path="url(#cl0)">
<path d="M43.5,142.2 45.0,142.7 46.5,143.7 48.0,143.6 49.5,143.8 51.0,144.8 52.5,145.9 54.0,146.5 55.5,146.6 57.0,147.0 58.5,146.8 60.0,147.1 61.5,146.7 63.0,146.5 64.5,146.7 66.0,146.3 67.5,145.8 69.0,145.4 70.5,144.7 72.0,145.6 73.5,145.8 75.0,144.6 76.5,145.3 78.0,146.9 79.5,146.1 81.0,146.3 82.5,146.4 84.0,146.8 85.5,146.6 87.0,146.6 88.5,146.8 90.0,146.8 91.5,147.0 93.0,147.2 94.5,147.0 96.0,147.4 97.5,147.1 99.0,147.3 100.5,147.2 102.0,147.4 103.5,147.1 105.0,147.0 106.5,147.2 108.0,147.4 109.5,147.4 111.0,147.0 112.5,147.3 114.0,146.9 115.5,147.2 117.0,146.6 118.5,147.0 120.0,147.3 121.5,146.9 123.0,146.7 124.5,147.3 126.0,147.1 127.5,147.3 129.0,147.1 130.5,147.5 132.0,148.0 133.5,148.0 135.0,148.0 136.5,148.0 138.0,148.0 139.5,148.0 141.0,148.0 142.5,147.3 144.0,147.0 145.5,147.0 147.0,147.2 148.5,147.0 150.0,146.8 151.5,147.0 153.0,146.9 154.5,146.9 156.0,147.1 157.5,147.2 159.0,146.8 160.5,146.8 162.0,146.9 163.5,147.1 165.0,147.4 166.5,147.2 168.0,146.9 169.5,146.9 171.0,146.9 172.5,147.0 174.0,146.7 175.5,147.2 177.0,146.9 178.5,147.2 180.0,146.8 181.5,146.6 183.0,146.1 184.5,146.8 186.0,146.4 187.5,146.7 189.0,146.9 190.5,146.6 192.0,146.0 193.5,146.7 195.0,145.7 196.5,146.3 198.0,146.8 199.5,146.5 201.0,146.4 202.5,146.8 204.0,146.1 205.5,146.3 207.0,146.2 208.5,146.5 210.0,145.6 211.5,146.3 213.0,146.6 214.5,146.1 216.0,146.0 217.5,146.5 219.0,145.8 220.5,146.8 222.0,146.3 223.5,146.7 225.0,146.2 226.5,146.2 228.0,146.8 229.5,147.0 231.0,146.8 232.5,146.2 234.0,146.9 235.5,146.9 237.0,146.3 238.5,146.2 240.0,146.4 241.5,146.1 243.0,146.3 244.5,146.5 246.0,146.2 247.5,146.4 249.0,146.5 250.5,145.9 252.0,146.1 253.5,145.9 255.0,146.6 256.5,146.1 258.0,146.1 259.5,146.8 261.0,145.7 262.5,145.7 264.0,146.2 265.5,145.9 267.0,146.2 268.5,146.3 270.0,146.9 271.5,145.7 273.0,145.5 274.5,145.7 276.0,145.4 277.5,145.5 279.0,146.0 280.5,146.3 282.0,146.6 283.5,146.5 285.0,146.5 286.5,146.4 288.0,146.0 289.5,146.5 291.0,146.0 292.5,145.8 294.0,146.1 295.5,145.7 297.0,145.5 298.5,144.6 300.0,145.1 301.5,145.2 303.0,146.0 304.5,144.9 306.0,145.1 307.5,145.7 309.0,145.3 310.5,146.1 312.0,145.3 313.5,145.6 315.0,145.7 316.5,145.8 318.0,146.0 319.5,145.6 321.0,146.0 322.5,145.0 324.0,145.5 325.5,144.8 327.0,145.1 328.5,145.6 330.0,146.1 331.5,146.2 333.0,146.3 334.5,146.4 336.0,146.4 337.5,145.7 339.0,146.0 340.5,146.5 342.0,145.9 343.5,146.3 345.0,146.1 346.5,146.7 348.0,146.5 349.5,146.0 351.0,146.4 352.5,146.7 354.0,146.0 355.5,146.6 357.0,146.4 358.5,146.5 360.0,146.2 361.5,146.6 363.0,145.6 364.5,146.4 366.0,146.6 367.5,146.6 369.0,146.4 370.5,146.0 372.0,146.3 373.5,145.9 375.0,146.0 376.5,146.7 378.0,146.5 379.5,147.2 381.0,147.0 382.5,146.6 384.0,146.5 385.5,146.2 387.0,146.0 388.5,146.8 390.0,146.1 391.5,146.2 393.0,146.4 394.5,146.6 396.0,146.7 397.5,147.1 399.0,146.8 400.5,146.2 402.0,146.8 403.5,146.7 405.0,147.0 406.5,147.1 408.0,147.3 409.5,146.9 411.0,146.9 412.5,146.8 414.0,147.0 415.5,146.8 417.0,146.9 418.5,147.1 420.0,147.0 421.5,147.4 423.0,147.1 424.5,147.4 426.0,147.2 427.5,147.1 429.0,147.0 430.5,147.2 432.0,147.2 433.5,147.5 435.0,147.5 436.5,147.1 438.0,147.3 439.5,147.5 441.0,147.5 442.5,147.2 444.0,146.7 445.5,146.4 447.0,146.3 448.5,147.0 450.0,146.8 451.5,146.2 453.0,146.6 454.5,146.4 456.0,146.6 457.5,146.8 459.0,147.0 460.5,146.9 462.0,147.2 463.5,147.1 465.0,147.4 466.5,146.5 468.0,146.7 469.5,145.5 471.0,145.2 472.5,145.7 474.0,144.8 475.5,145.7 477.0,144.9 478.5,145.0 480.0,145.2 481.5,144.7 483.0,145.8 484.5,145.4 486.0,145.0 487.5,145.1 489.0,145.8 490.5,145.9 492.0,145.9 493.5,144.8 495.0,144.9 496.5,145.2 498.0,145.6 499.5,146.4 501.0,146.5 502.5,147.0 504.0,146.6 505.5,146.6 507.0,146.6 508.5,146.6 510.0,147.0 511.5,146.8 513.0,146.5 514.5,147.1 516.0,146.8 517.5,147.4 519.0,146.8 520.5,147.1 522.0,147.4 523.5,147.0 525.0,147.0 526.5,147.5 528.0,147.2 529.5,146.8 531.0,147.2 532.5,147.3 534.0,146.9 535.5,147.3 537.0,147.5 538.5,147.2 540.0,146.9 541.5,147.5 543.0,147.3 544.5,146.9 546.0,147.5 547.5,147.5 549.0,147.4 550.5,147.3 552.0,147.5 553.5,147.3 555.0,147.4 556.5,147.5 558.0,147.1 559.5,147.3 561.0,147.1 562.5,146.9 564.0,147.3 565.5,146.8 567.0,147.1 568.5,147.4 570.0,147.4 571.5,147.4 573.0,147.4 574.5,147.6 576.0,147.4 577.5,147.4 579.0,147.3 580.5,147.3 582.0,147.4 583.5,147.5 585.0,147.5 586.5,147.2 588.0,146.5 589.5,147.1 591.0,147.1 592.5,146.8 594.0,147.2 595.5,146.3 597.0,147.3 598.5,147.7 600.0,147.4 601.5,147.3 603.0,147.6 604.5,147.5 606.0,147.7 607.5,147.7 609.0,147.6 610.5,147.8 612.0,147.7 613.5,147.2 615.0,147.4 616.5,147.5 618.0,147.4 619.5,147.4 621.0,147.0 622.5,146.8 624.0,146.9 625.5,147.5 627.0,147.1 628.5,147.2 630.0,146.9 631.5,146.9 633.0,146.9 634.5,147.2 636.0,147.1 637.5,147.5 639.0,147.4 640.5,147.4 642.0,147.7 643.5,147.4 645.0,147.5 645.0,149.4 643.5,149.6 642.0,149.6 640.5,149.3 639.0,149.6 637.5,149.7 636.0,149.7 634.5,150.2 633.0,150.3 631.5,149.9 630.0,150.3 628.5,150.0 627.0,149.8 625.5,149.8 624.0,149.9 622.5,150.0 621.0,150.0 619.5,150.1 618.0,149.6 616.5,149.4 615.0,149.7 613.5,149.6 612.0,149.4 610.5,149.3 609.0,149.3 607.5,149.2 606.0,149.7 604.5,149.5 603.0,149.3 601.5,149.6 600.0,149.4 598.5,149.7 597.0,150.0 595.5,150.0 594.0,149.8 592.5,150.4 591.0,150.2 589.5,150.2 588.0,149.9 586.5,149.7 585.0,149.3 583.5,149.4 582.0,149.8 580.5,149.6 579.0,149.4 577.5,149.5 576.0,149.7 574.5,149.7 573.0,149.5 571.5,149.4 570.0,149.5 568.5,149.6 567.0,149.6 565.5,150.0 564.0,149.8 562.5,149.8 561.0,149.5 559.5,150.0 558.0,149.8 556.5,149.5 555.0,149.7 553.5,149.7 552.0,150.0 550.5,149.8 549.0,149.7 547.5,149.7 546.0,149.5 544.5,149.9 543.0,149.7 541.5,149.8 540.0,149.6 538.5,149.9 537.0,149.5 535.5,149.9 534.0,150.0 532.5,149.6 531.0,149.6 529.5,150.1 528.0,150.2 526.5,149.9 525.0,149.8 523.5,149.5 522.0,149.6 520.5,149.5 519.0,149.8 517.5,150.0 516.0,150.1 514.5,150.5 513.0,150.4 511.5,150.5 510.0,150.2 508.5,150.4 507.0,150.2 505.5,150.0 504.0,150.6 502.5,150.2 501.0,150.5 499.5,151.2 498.0,152.2 496.5,152.1 495.0,151.8 493.5,151.8 492.0,152.3 490.5,152.1 489.0,151.6 487.5,151.8 486.0,152.4 484.5,151.0 483.0,150.7 481.5,151.9 480.0,151.6 478.5,151.7 477.0,152.1 475.5,151.9 474.0,151.1 472.5,151.9 471.0,151.0 469.5,150.4 468.0,150.6 466.5,150.5 465.0,149.9 463.5,149.9 462.0,149.6 460.5,149.7 459.0,150.1 457.5,150.8 456.0,150.8 454.5,150.2 453.0,150.2 451.5,150.7 450.0,150.0 448.5,150.8 447.0,150.2 445.5,150.0 444.0,150.1 442.5,149.9 441.0,149.5 439.5,150.0 438.0,149.8 436.5,149.8 435.0,149.8 433.5,149.7 432.0,149.6 430.5,149.7 429.0,149.8 427.5,149.8 426.0,149.6 424.5,149.9 423.0,149.6 421.5,149.5 420.0,150.2 418.5,150.0 417.0,150.2 415.5,150.3 414.0,150.6 412.5,150.4 411.0,150.2 409.5,150.2 408.0,149.7 406.5,150.0 405.0,149.7 403.5,150.6 402.0,149.9 400.5,150.1 399.0,150.2 397.5,150.3 396.0,150.8 394.5,150.4 393.0,150.1 391.5,150.9 390.0,150.4 388.5,150.4 387.0,150.9 385.5,150.9 384.0,150.6 382.5,150.3 381.0,150.2 379.5,149.9 378.0,150.1 376.5,150.6 375.0,151.0 373.5,151.1 372.0,151.0 370.5,151.1 369.0,150.3 367.5,151.4 366.0,150.4 364.5,150.6 363.0,151.0 361.5,150.4 360.0,150.7 358.5,150.9 357.0,150.9 355.5,151.4 354.0,151.4 352.5,151.0 351.0,150.0 349.5,150.9 348.0,150.4 346.5,150.8 345.0,150.4 343.5,150.6 342.0,150.7 340.5,151.6 339.0,150.7 337.5,151.4 336.0,151.5 334.5,150.4 333.0,151.2 331.5,151.5 330.0,151.3 328.5,150.9 327.0,151.2 325.5,151.7 324.0,152.4 322.5,151.5 321.0,150.9 319.5,151.0 318.0,150.9 316.5,151.1 315.0,151.6 313.5,152.1 312.0,151.3 310.5,152.0 309.0,152.5 307.5,151.8 306.0,151.8 304.5,152.0 303.0,151.9 301.5,152.1 300.0,151.8 298.5,152.3 297.0,150.9 295.5,151.0 294.0,150.8 292.5,150.8 291.0,151.1 289.5,150.9 288.0,150.3 286.5,150.3 285.0,150.7 283.5,151.2 282.0,151.1 280.5,150.3 279.0,151.7 277.5,150.8 276.0,150.9 274.5,151.1 273.0,151.1 271.5,150.3 270.0,150.5 268.5,150.4 267.0,151.6 265.5,151.3 264.0,151.6 262.5,150.8 261.0,150.6 259.5,150.4 258.0,150.9 256.5,151.1 255.0,150.4 253.5,151.0 252.0,151.1 250.5,150.9 249.0,150.5 247.5,150.2 246.0,150.9 244.5,150.3 243.0,150.8 241.5,150.4 240.0,150.3 238.5,150.5 237.0,150.8 235.5,150.8 234.0,150.0 232.5,150.3 231.0,151.0 229.5,150.5 228.0,150.4 226.5,150.5 225.0,150.4 223.5,150.8 222.0,150.8 220.5,151.1 219.0,151.1 217.5,150.6 216.0,150.9 214.5,150.6 213.0,150.5 211.5,150.3 210.0,151.0 208.5,150.8 207.0,150.2 205.5,150.3 204.0,150.7 202.5,150.3 201.0,150.5 199.5,150.5 198.0,150.8 196.5,150.5 195.0,150.9 193.5,151.0 192.0,151.0 190.5,151.0 189.0,150.6 187.5,150.3 186.0,150.6 184.5,149.9 183.0,150.2 181.5,150.2 180.0,150.0 178.5,150.0 177.0,150.0 175.5,149.8 174.0,150.4 172.5,150.0 171.0,150.1 169.5,149.6 168.0,149.9 166.5,149.8 165.0,150.3 163.5,149.7 162.0,149.7 160.5,149.9 159.0,149.8 157.5,150.0 156.0,149.9 154.5,149.6 153.0,149.8 151.5,149.5 150.0,150.1 148.5,150.0 147.0,149.5 145.5,150.3 144.0,150.2 142.5,149.5 141.0,149.0 139.5,149.0 138.0,149.0 136.5,149.0 135.0,149.0 133.5,149.0 132.0,149.0 130.5,149.3 129.0,149.8 127.5,149.8 126.0,150.0 124.5,149.7 123.0,150.2 121.5,150.0 120.0,149.7 118.5,150.4 117.0,150.3 115.5,150.0 114.0,149.8 112.5,150.0 111.0,150.4 109.5,150.2 108.0,149.8 106.5,149.7 105.0,149.9 103.5,149.9 102.0,149.8 100.5,149.8 99.0,150.1 97.5,149.7 96.0,150.0 94.5,150.1 93.0,150.0 91.5,149.9 90.0,150.1 88.5,149.7 87.0,150.1 85.5,149.8 84.0,149.9 82.5,150.4 81.0,150.5 79.5,150.9 78.0,150.9 76.5,151.2 75.0,151.3 73.5,152.0 72.0,152.1 70.5,151.6 69.0,151.2 67.5,152.0 66.0,150.6 64.5,150.8 63.0,150.6 61.5,150.3 60.0,150.0 58.5,150.0 57.0,149.9 55.5,150.0 54.0,150.4 52.5,151.2 51.0,152.5 49.5,152.1 48.0,153.8 46.5,151.9 45.0,152.6 43.5,151.9Z" fill="#0000ff"/>
<path d="M43.5,120.8v51.4M44.0,121.6v45.2M44.5,133.8v25.1M45.0,127.8v39.3M45.5,131.6v33.2M46.0,130.9v36.4M46.5,130.6v27.8M47.0,129.1v33.4M47.5,110.9v50.4M48.0,130.5v38.2M48.5,129.0v33.6M49.0,118.4v52.7M49.5,123.6v45.7M50.0,133.4v34.3M50.5,129.5v34.3M51.0,128.2v37.0M51.5,138.4v18.2M52.0,140.6v14.9M52.5,132.9v24.1M53.0,139.0v21.2M53.5,138.5v18.6M54.0,141.0v16.2M54.5,143.2v14.5M55.0,140.5v12.3M55.5,140.6v14.0M56.0,140.1v21.9M56.5,141.6v18.5M57.0,143.4v12.8M57.5,142.0v14.3M58.0,141.2v12.6M58.5,141.6v12.6M59.0,141.9v12.8M59.5,141.1v18.5M60.0,143.8v12.5M60.5,136.3v21.6M61.0,142.6v14.8M61.5,141.2v13.6M62.0,139.1v17.6M62.5,143.1v16.2M63.0,136.2v23.4M63.5,139.0v20.2M64.0,139.2v22.7M64.5,140.4v21.6M65.0,142.2v17.1M65.5,138.5v21.2M66.0,139.8v17.7M66.5,136.7v18.1M67.0,136.2v25.2M67.5,140.9v15.0M68.0,135.5v25.5M68.5,137.7v23.1M69.0,140.4v23.4M69.5,140.7v23.2M70.0,137.6v24.4M70.5,132.5v28.1M71.0,136.3v22.5M71.5,136.9v30.6M72.0,130.8v26.6M72.5,133.7v28.2M73.0,133.8v27.8M73.5,135.1v32.4M74.0,136.2v25.8M74.5,132.7v25.9M75.0,139.2v24.1M75.5,132.5v25.0M76.0,137.9v23.4M76.5,134.2v21.4M77.0,135.7v27.9M77.5,138.5v20.7M78.0,137.3v22.3M78.5,141.3v13.3M79.0,138.6v17.1M79.5,137.3v17.1M80.0,141.1v14.4M80.5,140.6v13.6M81.0,140.9v15.5M81.5,138.6v20.8M82.0,140.9v16.8M82.5,143.6v11.5M83.0,139.6v20.1M83.5,141.3v12.1M84.0,140.9v18.8M84.5,144.0v11.3M85.0,141.6v12.4M85.5,144.4v10.1M86.0,142.3v16.5M86.5,138.3v15.3M87.0,144.7v8.1M87.5,142.9v11.0M88.0,140.1v17.6M88.5,144.6v8.2M89.0,142.1v9.9M89.5,141.2v15.2M90.0,141.7v15.2M90.5,144.7v10.3M91.0,139.0v19.8M91.5,140.9v13.2M92.0,141.6v16.1M92.5,142.8v10.6M93.0,144.4v10.9M93.5,143.4v10.6M94.0,141.2v12.1M94.5,141.6v14.1M95.0,144.9v7.4M95.5,143.0v12.0M96.0,138.8v16.6M96.5,144.8v14.9M97.0,142.2v12.9M97.5,142.1v9.9M98.0,143.8v10.7M98.5,142.3v10.6M99.0,142.8v11.0M99.5,141.0v13.0M100.0,142.9v9.6M100.5,143.2v10.8M101.0,144.6v12.2M101.5,144.0v10.2M102.0,141.0v12.3M102.5,144.8v8.0M103.0,137.7v16.5M103.5,137.8v17.4M104.0,140.6v11.9M104.5,143.7v9.6M105.0,140.1v15.1M105.5,142.2v11.1M106.0,138.5v16.6M106.5,143.2v9.6M107.0,142.6v15.0M107.5,142.3v10.1M108.0,143.4v11.5M108.5,140.6v14.9M109.0,141.1v13.1M109.5,140.9v17.4M110.0,138.8v13.6M110.5,138.9v16.2M111.0,143.5v12.4M111.5,143.6v9.7M112.0,139.8v17.4M112.5,139.2v15.5M113.0,142.7v9.8M113.5,142.6v11.0M114.0,140.6v16.1M114.5,141.3v11.3M115.0,141.6v13.6M115.5,141.8v15.6M116.0,140.7v12.9M116.5,140.7v13.0M117.0,142.1v11.9M117.5,141.6v15.5M118.0,142.9v12.4M118.5,142.4v13.7M119.0,141.7v11.6M119.5,140.2v14.5M120.0,143.5v13.2M120.5,143.3v13.3M121.0,142.3v13.6M121.5,142.4v13.4M122.0,143.0v13.4M122.5,143.1v12.4M123.0,143.3v11.9M123.5,140.8v13.3M124.0,144.7v10.3M124.5,144.7v8.1M125.0,141.0v14.0M125.5,142.1v13.8M126.0,141.2v11.6M126.5,145.1v9.9M127.0,143.4v10.5M127.5,145.0v9.6M128.0,144.9v8.1M128.5,142.0v11.5M129.0,142.5v10.0M129.5,143.8v11.0M130.0,142.5v12.8M130.5,145.8v7.1M131.0,146.3v3.4M131.5,146.7v3.3M132.0,147.1v3.4M132.5,146.5v3.4M133.0,147.0v3.6M133.5,147.3v2.8M134.0,147.1v2.7M134.5,146.9v3.2M135.0,147.0v2.7M135.5,147.2v2.5M136.0,146.5v3.6M136.5,146.5v3.7M137.0,146.8v3.8M137.5,147.1v3.4M138.0,147.4v3.1M138.5,146.5v3.5M139.0,146.9v3.0M139.5,147.2v3.4M140.0,146.9v3.4M140.5,146.5v3.6M141.0,147.0v3.5M141.5,145.1v6.9M142.0,143.7v8.9M142.5,145.2v9.7M143.0,142.3v13.1M143.5,143.8v9.9M144.0,143.9v10.5M144.5,141.9v13.3M145.0,142.0v14.4M145.5,141.6v13.5M146.0,144.9v8.0M146.5,142.8v12.3M147.0,142.4v9.9M147.5,144.5v11.1M148.0,144.4v7.7M148.5,144.9v9.8M149.0,143.1v9.5M149.5,143.4v11.5M150.0,142.3v12.9M150.5,141.1v11.5M151.0,144.9v9.5M151.5,140.7v15.8M152.0,141.5v12.3M152.5,144.7v11.9M153.0,142.8v11.4M153.5,143.1v10.8M154.0,143.5v8.7M154.5,142.6v10.6M155.0,143.0v13.7M155.5,142.7v12.0M156.0,142.4v10.1M156.5,142.2v11.8M157.0,141.6v11.4M157.5,143.5v11.9M158.0,143.4v11.8M158.5,144.8v9.5M159.0,141.0v15.8M159.5,142.8v11.4M160.0,144.6v11.0M160.5,141.7v12.5M161.0,141.7v15.2M161.5,142.8v12.1M162.0,141.1v14.2M162.5,143.5v13.4M163.0,144.2v11.0M163.5,144.9v8.8M164.0,144.1v9.8M164.5,143.3v8.6M165.0,140.0v12.3M165.5,143.5v11.8M166.0,141.9v11.3M166.5,142.6v9.5M167.0,143.7v8.5M167.5,141.4v12.4M168.0,143.1v9.8M168.5,144.4v9.5M169.0,144.0v13.2M169.5,144.5v9.5M170.0,140.9v12.7M170.5,140.0v17.2M171.0,140.8v13.5M171.5,144.4v9.4M172.0,142.2v13.8M172.5,141.4v15.9M173.0,141.9v12.5M173.5,141.1v15.7M174.0,142.4v12.6M174.5,144.6v8.0M175.0,142.5v10.0M175.5,140.7v12.2M176.0,143.5v12.5M176.5,139.6v15.6M177.0,141.1v16.3M177.5,143.8v8.8M178.0,143.4v9.5M178.5,142.0v11.8M179.0,143.6v9.2M179.5,144.2v8.2M180.0,144.8v12.7M180.5,140.6v15.7M181.0,139.9v20.4M181.5,140.2v18.1M182.0,138.6v18.2M182.5,141.9v15.2M183.0,133.9v24.6M183.5,141.0v14.7M184.0,142.3v15.8M184.5,141.8v16.6M185.0,143.6v14.5M185.5,139.1v22.2M186.0,138.4v20.2M186.5,142.3v11.3M187.0,142.9v15.0M187.5,141.2v15.1M188.0,140.6v17.9M188.5,140.4v15.5M189.0,139.2v16.6M189.5,138.1v19.8M190.0,139.5v17.7M190.5,140.1v17.2M191.0,137.5v20.4M191.5,141.7v12.2M192.0,138.5v20.0M192.5,142.8v14.5M193.0,133.7v22.9M193.5,140.8v13.3M194.0,139.2v18.6M194.5,138.1v20.0M195.0,139.3v18.0M195.5,141.7v15.7M196.0,138.1v21.4M196.5,139.2v19.0M197.0,139.3v15.6M197.5,138.6v21.5M198.0,141.1v15.5M198.5,137.3v20.5M199.0,143.3v11.6M199.5,142.7v15.4M200.0,140.7v17.5M200.5,141.5v16.9M201.0,138.6v19.8M201.5,141.4v12.8M202.0,138.0v20.0M202.5,134.3v25.3M203.0,140.2v18.3M203.5,137.6v18.9M204.0,138.8v19.6M204.5,142.8v11.4M205.0,140.4v14.8M205.5,141.9v21.6M206.0,141.3v13.7M206.5,141.3v16.4M207.0,143.0v15.5M207.5,138.0v21.0M208.0,137.8v23.2M208.5,142.2v13.3M209.0,133.4v25.8M209.5,136.4v21.0M210.0,139.8v14.7M210.5,136.8v26.8M211.0,141.9v17.8M211.5,140.6v15.2M212.0,138.6v19.1M212.5,138.1v17.9M213.0,138.6v17.2M213.5,139.4v18.7M214.0,139.1v18.4M214.5,141.1v12.7M215.0,142.3v12.2M215.5,142.3v15.9M216.0,133.3v22.8M216.5,140.8v18.1M217.0,143.8v15.4M217.5,140.8v15.1M218.0,140.5v17.6M218.5,137.1v17.7M219.0,141.1v18.7M219.5,140.4v17.7M220.0,141.7v17.2M220.5,137.4v21.6M221.0,140.9v15.8M221.5,141.8v13.7M222.0,143.8v10.9M222.5,137.4v26.5M223.0,141.6v14.8M223.5,141.1v13.8M224.0,143.6v13.9M224.5,143.2v12.6M225.0,139.9v17.2M225.5,141.1v13.0M226.0,141.2v16.4M226.5,141.4v16.0M227.0,141.2v15.0M227.5,142.7v12.0M228.0,140.4v17.0M228.5,134.5v22.3M229.0,141.3v17.9M229.5,143.0v11.5M230.0,139.5v16.7M230.5,139.1v14.5M231.0,140.8v17.4M231.5,143.5v10.0M232.0,140.2v17.2M232.5,139.6v16.1M233.0,141.8v15.9M233.5,140.2v13.0M234.0,142.5v13.7M234.5,139.6v15.6M235.0,143.2v10.2M235.5,140.4v18.0M236.0,132.9v21.6M236.5,141.1v13.4M237.0,142.8v14.1M237.5,139.7v17.0M238.0,141.4v12.4M238.5,141.5v15.5M239.0,141.2v12.5M239.5,143.2v21.0M240.0,136.2v19.2M240.5,137.2v20.0M241.0,137.2v20.0M241.5,141.4v16.2M242.0,139.1v16.4M242.5,136.7v23.6M243.0,138.6v17.4M243.5,141.3v15.0M244.0,133.3v23.9M244.5,137.5v21.6M245.0,138.2v17.8M245.5,143.3v13.2M246.0,142.3v14.8M246.5,138.3v16.7M247.0,138.0v17.4M247.5,139.5v16.6M248.0,140.9v22.8M248.5,136.8v20.0M249.0,143.1v14.6M249.5,140.4v14.0M250.0,141.1v15.5M250.5,138.7v16.9M251.0,140.7v14.0M251.5,139.3v15.0M252.0,137.1v21.2M252.5,139.9v23.2M253.0,138.3v20.1M253.5,130.6v28.6M254.0,140.6v13.7M254.5,138.9v17.6M255.0,139.5v14.4M255.5,143.1v18.2M256.0,138.6v18.0M256.5,130.6v25.0M257.0,139.8v26.6M257.5,136.8v18.8M258.0,137.4v22.1M258.5,141.9v17.5M259.0,137.2v22.4M259.5,142.8v20.8M260.0,139.1v16.3M260.5,134.5v20.7M261.0,131.9v28.7M261.5,136.1v20.7M262.0,139.6v20.3M262.5,138.2v22.3M263.0,138.4v17.7M263.5,135.8v30.7M264.0,135.1v22.7M264.5,134.9v27.7M265.0,137.7v25.5M265.5,139.1v22.4M266.0,134.0v23.5M266.5,141.5v15.0M267.0,138.9v27.5M267.5,141.1v14.0M268.0,137.7v22.4M268.5,142.1v16.4M269.0,143.4v15.0M269.5,139.9v19.1M270.0,139.1v18.6M270.5,141.7v16.4M271.0,139.8v19.6M271.5,141.4v14.6M272.0,137.5v19.7M272.5,141.5v14.9M273.0,137.0v22.9M273.5,137.0v23.4M274.0,130.6v28.5M274.5,136.2v30.2M275.0,141.8v16.6M275.5,138.1v21.9M276.0,130.6v26.8M276.5,138.2v21.3M277.0,141.3v14.7M277.5,138.5v18.7M278.0,141.4v25.1M278.5,138.6v20.3M279.0,140.7v19.9M279.5,135.5v21.5M280.0,138.0v28.3M280.5,136.4v20.7M281.0,141.0v16.0M281.5,141.8v14.5M282.0,137.6v18.6M282.5,142.8v15.5M283.0,142.6v14.6M283.5,138.4v15.9M284.0,139.5v19.8M284.5,139.0v27.4M285.0,131.6v26.8M285.5,138.5v18.4M286.0,142.0v16.9M286.5,141.5v14.8M287.0,140.7v17.4M287.5,138.6v18.8M288.0,139.0v18.3M288.5,137.3v18.3M289.0,138.6v17.7M289.5,140.6v15.9M290.0,137.6v18.8M290.5,131.6v22.5M291.0,137.6v18.5M291.5,137.8v17.4M292.0,139.2v15.4M292.5,138.6v20.0M293.0,139.3v15.4M293.5,137.1v29.7M294.0,136.9v27.8M294.5,134.6v23.2M295.0,141.3v14.3M295.5,128.3v33.4M296.0,136.4v20.3M296.5,139.5v19.9M297.0,140.1v18.9M297.5,137.4v29.0M298.0,138.0v18.2M298.5,133.5v28.5M299.0,139.4v21.1M299.5,134.6v23.5M300.0,140.0v17.3M300.5,139.2v20.3M301.0,134.8v21.9M301.5,138.3v23.5M302.0,134.7v35.4M302.5,134.4v27.1M303.0,131.0v31.3M303.5,140.1v30.4M304.0,129.2v30.5M304.5,129.1v28.8M305.0,139.1v21.2M305.5,134.6v25.0M306.0,137.8v25.0M306.5,140.1v23.1M307.0,132.6v35.6M307.5,132.6v29.9M308.0,139.5v21.9M308.5,127.0v37.7M309.0,134.7v35.3M309.5,135.7v23.2M310.0,136.2v21.4M310.5,136.4v24.9M311.0,140.5v18.2M311.5,140.1v16.8M312.0,133.8v24.8M312.5,139.2v18.5M313.0,137.5v24.4M313.5,136.8v27.5M314.0,140.8v17.9M314.5,134.4v26.4M315.0,137.1v27.0M315.5,128.6v29.1M316.0,134.8v23.3M316.5,141.0v22.3M317.0,129.7v32.6M317.5,135.9v23.7M318.0,137.1v25.8M318.5,137.6v25.4M319.0,130.4v31.3M319.5,142.2v26.9M320.0,142.7v19.2M320.5,137.6v23.4M321.0,140.0v21.4M321.5,139.8v17.9M322.0,131.5v32.6M322.5,139.4v20.4M323.0,133.1v24.8M323.5,140.1v18.7M324.0,136.5v25.7M324.5,133.6v28.8M325.0,138.2v22.2M325.5,139.8v19.8M326.0,132.2v26.5M326.5,133.9v23.6M327.0,141.0v20.0M327.5,135.5v23.8M328.0,129.0v26.1M328.5,136.8v23.2M329.0,140.4v22.8M329.5,138.3v19.4M330.0,141.5v13.2M330.5,141.7v14.0M331.0,137.8v20.7M331.5,136.1v23.1M332.0,142.4v15.1M332.5,136.9v20.4M333.0,140.3v21.5M333.5,137.9v16.9M334.0,139.7v20.4M334.5,141.2v16.1M335.0,137.7v20.3M335.5,130.7v24.9M336.0,139.4v21.5M336.5,136.1v20.3M337.0,139.3v22.5M337.5,134.0v22.5M338.0,138.5v20.5M338.5,137.4v19.0M339.0,137.7v21.4M339.5,138.2v20.7M340.0,138.3v19.1M340.5,140.6v19.0M341.0,141.9v18.9M341.5,132.0v29.8M342.0,136.7v28.1M342.5,139.0v17.4M343.0,138.5v17.4M343.5,143.3v13.5M344.0,138.4v20.5M344.5,137.9v20.3M345.0,138.4v16.5M345.5,139.4v17.0M346.0,140.4v19.9M346.5,141.1v14.7M347.0,139.1v16.5M347.5,135.7v20.2M348.0,137.5v17.2M348.5,138.2v21.5M349.0,138.5v19.1M349.5,138.6v17.9M350.0,142.7v11.2M350.5,139.9v14.5M351.0,139.1v20.7M351.5,142.8v20.8M352.0,133.4v28.2M352.5,140.0v16.5M353.0,137.4v17.1M353.5,137.1v22.5M354.0,141.5v15.0M354.5,138.3v20.8M355.0,137.8v18.5M355.5,133.7v21.2M356.0,134.6v21.1M356.5,136.7v23.7M357.0,139.1v20.5M357.5,142.1v17.1M358.0,133.9v25.8M358.5,141.8v21.3M359.0,142.1v21.0M359.5,139.1v20.5M360.0,136.7v18.3M360.5,134.1v24.9M361.0,136.8v19.2M361.5,141.5v18.4M362.0,139.2v23.0M362.5,141.8v14.0M363.0,138.9v18.4M363.5,138.0v19.2M364.0,138.7v17.7M364.5,138.5v16.3M365.0,137.7v20.8M365.5,137.9v22.7M366.0,137.3v20.6M366.5,137.8v18.6M367.0,139.7v15.3M367.5,137.6v21.6M368.0,138.1v20.8M368.5,141.9v16.6M369.0,142.3v14.1M369.5,143.0v13.6M370.0,138.1v17.4M370.5,134.9v20.5M371.0,141.1v20.4M371.5,142.2v19.8M372.0,136.3v19.0M372.5,138.2v15.4M373.0,140.7v21.2M373.5,135.2v24.1M374.0,143.1v12.6M374.5,141.6v20.2M375.0,141.5v16.6M375.5,139.4v17.4M376.0,139.8v15.8M376.5,142.2v16.8M377.0,139.4v15.2M377.5,143.8v9.9M378.0,144.3v13.0M378.5,143.2v13.9M379.0,141.7v15.3M379.5,137.2v18.9M380.0,137.7v20.3M380.5,141.2v11.4M381.0,140.8v12.9M381.5,141.4v17.6M382.0,142.6v13.0M382.5,140.1v13.9M383.0,143.4v13.8M383.5,141.4v16.5M384.0,142.1v16.0M384.5,141.7v14.5M385.0,140.6v17.4M385.5,138.7v17.8M386.0,140.9v16.1M386.5,141.3v13.0M387.0,136.3v20.3M387.5,141.1v12.6M388.0,138.9v18.8M388.5,138.6v22.0M389.0,141.7v12.6M389.5,136.5v24.0M390.0,139.2v19.2M390.5,141.7v18.7M391.0,140.5v14.9M391.5,142.4v15.3M392.0,143.0v11.8M392.5,139.1v17.0M393.0,139.4v15.1M393.5,143.6v12.5M394.0,143.3v16.7M394.5,143.0v13.4M395.0,142.3v14.6M395.5,140.7v12.3M396.0,142.8v10.7M396.5,140.6v12.5M397.0,140.3v16.2M397.5,144.7v8.6M398.0,142.2v12.9M398.5,141.0v11.5M399.0,138.8v15.0M399.5,142.8v12.3M400.0,140.1v15.8M400.5,137.4v16.3M401.0,141.9v14.9M401.5,143.5v13.3M402.0,141.6v14.0M402.5,140.1v13.1M403.0,141.3v18.1M403.5,140.3v13.1M404.0,143.4v12.7M404.5,140.6v14.8M405.0,144.8v14.4M405.5,144.6v10.9M406.0,139.8v15.8M406.5,144.9v9.0M407.0,143.6v9.5M407.5,141.7v12.7M408.0,141.1v15.2M408.5,144.3v9.5M409.0,143.5v11.9M409.5,144.9v8.8M410.0,139.8v14.4M410.5,144.5v9.7M411.0,144.0v11.2M411.5,144.1v9.4M412.0,142.7v14.5M412.5,142.3v14.1M413.0,142.4v13.1M413.5,140.1v16.7M414.0,140.7v17.9M414.5,138.5v15.4M415.0,142.0v14.7M415.5,141.1v13.1M416.0,140.2v13.8M416.5,141.4v13.2M417.0,138.6v18.3M417.5,143.2v12.1M418.0,144.3v12.9M418.5,143.3v11.9M419.0,140.4v17.7M419.5,143.5v11.1M420.0,138.7v15.7M420.5,142.3v11.1M421.0,143.2v10.8M421.5,143.0v11.9M422.0,143.2v11.7M422.5,143.2v14.0M423.0,143.3v9.0M423.5,144.3v9.9M424.0,144.9v8.8M424.5,144.1v7.8M425.0,142.4v15.8M425.5,142.2v10.8M426.0,143.4v9.3M426.5,143.1v13.6M427.0,142.3v11.0M427.5,143.6v10.8M428.0,142.2v14.0M428.5,143.1v10.5M429.0,140.5v12.5M429.5,144.8v7.0M430.0,140.0v16.4M430.5,144.5v8.7M431.0,144.1v9.9M431.5,142.6v12.3M432.0,141.7v16.1M432.5,140.4v11.4M433.0,144.6v8.6M433.5,145.5v6.0M434.0,144.5v8.8M434.5,142.6v11.9M435.0,141.3v13.7M435.5,144.2v8.9M436.0,140.3v12.9M436.5,142.6v9.8M437.0,142.8v11.1M437.5,143.6v9.3M438.0,142.8v10.5M438.5,139.4v13.7M439.0,141.4v11.2M439.5,145.3v8.6M440.0,139.4v12.5M440.5,144.5v10.4M441.0,143.2v8.8M441.5,142.6v14.9M442.0,141.9v9.7M442.5,144.6v9.0M443.0,143.0v14.5M443.5,141.5v14.1M444.0,139.1v18.7M444.5,137.2v20.8M445.0,138.7v19.6M445.5,143.4v20.6M446.0,140.7v16.2M446.5,142.9v13.0M447.0,139.4v18.2M447.5,135.2v22.2M448.0,137.8v16.0M448.5,142.7v11.4M449.0,139.4v16.7M449.5,143.6v10.7M450.0,141.2v13.9M450.5,139.2v21.2M451.0,140.1v15.8M451.5,141.8v22.4M452.0,141.2v13.8M452.5,141.8v12.4M453.0,132.8v21.1M453.5,138.5v20.3M454.0,142.6v17.5M454.5,141.3v14.3M455.0,138.8v19.8M455.5,138.5v19.8M456.0,136.4v17.5M456.5,137.4v22.6M457.0,140.9v15.3M457.5,139.6v15.1M458.0,142.8v12.1M458.5,142.1v15.3M459.0,144.5v8.5M459.5,144.7v9.3M460.0,141.1v16.3M460.5,139.7v14.7M461.0,144.8v7.2M461.5,143.2v10.1M462.0,144.8v6.6M462.5,144.0v7.9M463.0,145.3v11.2M463.5,142.7v8.7M464.0,145.0v8.3M464.5,142.6v11.3M465.0,145.2v9.7M465.5,143.0v11.7M466.0,143.9v8.1M466.5,144.1v11.0M467.0,140.5v17.0M467.5,136.5v24.1M468.0,137.4v18.6M468.5,140.2v18.9M469.0,137.9v24.2M469.5,138.4v16.6M470.0,136.0v28.1M470.5,138.3v27.4M471.0,129.1v29.5M471.5,140.6v17.9M472.0,140.6v19.3M472.5,137.6v25.4M473.0,139.7v22.3M473.5,128.3v34.6M474.0,140.1v23.3M474.5,138.5v19.0M475.0,137.7v26.4M475.5,138.9v18.3M476.0,135.3v27.7M476.5,134.7v24.1M477.0,132.3v23.7M477.5,135.2v24.5M478.0,136.8v23.0M478.5,138.0v24.6M479.0,137.0v24.8M479.5,137.0v19.1M480.0,138.0v25.4M480.5,139.9v23.8M481.0,138.5v25.7M481.5,139.1v21.5M482.0,137.6v21.8M482.5,135.0v20.8M483.0,136.6v23.1M483.5,139.7v21.5M484.0,139.2v20.7M484.5,133.8v28.0M485.0,135.8v22.0M485.5,138.0v30.7M486.0,140.0v19.4M486.5,135.3v28.7M487.0,133.7v29.6M487.5,132.7v28.2M488.0,133.8v30.4M488.5,129.2v32.3M489.0,128.6v28.2M489.5,132.4v24.2M490.0,128.3v31.5M490.5,129.5v27.7M491.0,140.1v23.7M491.5,138.0v25.5M492.0,135.1v27.3M492.5,134.2v25.7M493.0,135.1v29.3M493.5,140.1v26.5M494.0,138.1v18.9M494.5,137.1v18.8M495.0,131.4v27.9M495.5,133.5v27.9M496.0,139.5v23.3M496.5,133.1v30.4M497.0,139.6v23.1M497.5,135.1v22.1M498.0,128.3v31.0M498.5,134.3v25.8M499.0,141.0v22.2M499.5,135.9v20.3M500.0,142.0v16.5M500.5,139.5v16.1M501.0,144.3v10.0M501.5,141.5v12.4M502.0,142.2v11.8M502.5,140.6v19.1M503.0,143.4v13.5M503.5,141.0v15.3M504.0,139.5v13.8M504.5,144.8v10.7M505.0,140.7v17.0M505.5,137.3v15.0M506.0,143.7v11.6M506.5,139.9v16.8M507.0,137.3v22.4M507.5,142.1v11.9M508.0,142.5v11.2M508.5,140.6v16.0M509.0,137.3v18.0M509.5,141.6v15.6M510.0,139.5v15.3M510.5,141.5v14.7M511.0,140.4v14.4M511.5,141.7v13.2M512.0,141.8v15.6M512.5,143.1v12.2M513.0,142.0v13.9M513.5,142.5v11.3M514.0,139.1v17.0M514.5,140.3v15.0M515.0,141.0v16.1M515.5,142.2v12.4M516.0,142.0v15.5M516.5,140.8v11.2M517.0,145.3v7.0M517.5,143.4v8.9M518.0,144.8v10.4M518.5,141.5v14.2M519.0,143.4v11.9M519.5,142.4v10.4M520.0,144.7v8.8M520.5,145.1v11.0M521.0,141.7v11.2M521.5,141.3v12.7M522.0,144.9v8.8M522.5,142.8v11.6M523.0,143.1v8.4M523.5,140.0v14.7M524.0,142.6v11.3M524.5,143.0v9.4M525.0,142.6v12.2M525.5,144.9v7.3M526.0,144.4v11.5M526.5,142.7v11.4M527.0,143.7v10.7M527.5,143.3v13.2M528.0,141.6v13.4M528.5,143.4v11.3M529.0,142.5v10.6M529.5,144.4v9.0M530.0,143.9v9.6M530.5,144.8v8.3M531.0,141.4v11.3M531.5,145.0v8.5M532.0,143.4v8.9M532.5,144.2v8.3M533.0,144.8v12.1M533.5,143.4v11.4M534.0,142.4v9.8M534.5,144.5v10.1M535.0,144.1v12.8M535.5,143.6v8.3M536.0,144.4v8.3M536.5,144.1v9.0M537.0,143.8v10.2M537.5,144.1v12.6M538.0,144.4v10.5M538.5,142.5v10.3M539.0,141.6v10.9M539.5,141.7v10.9M540.0,142.3v12.1M540.5,144.4v9.6M541.0,142.6v12.0M541.5,144.8v7.8M542.0,142.2v12.7M542.5,142.5v9.6M543.0,141.4v12.4M543.5,142.0v12.9M544.0,144.1v10.4M544.5,145.0v7.9M545.0,144.2v10.1M545.5,144.4v9.0M546.0,144.6v9.2M546.5,143.2v8.8M547.0,144.0v7.6M547.5,144.8v7.1M548.0,145.1v7.5M548.5,145.2v7.3M549.0,144.7v8.1M549.5,144.7v8.4M550.0,142.3v11.6M550.5,143.7v10.7M551.0,143.3v11.0M551.5,142.3v11.1M552.0,143.5v8.6M552.5,143.2v13.1M553.0,141.9v10.3M553.5,143.0v10.9M554.0,142.4v13.0M554.5,141.0v10.8M555.0,142.5v11.1M555.5,143.5v12.7M556.0,144.3v9.7M556.5,144.8v8.5M557.0,144.7v8.7M557.5,142.9v12.4M558.0,142.0v12.0M558.5,144.2v10.3M559.0,142.3v12.1M559.5,142.8v11.6M560.0,144.0v10.7M560.5,143.6v10.4M561.0,141.0v12.5M561.5,144.8v10.2M562.0,141.0v11.2M562.5,144.8v9.8M563.0,142.0v10.8M563.5,144.8v7.2M564.0,145.0v9.4M564.5,143.5v11.6M565.0,144.3v9.9M565.5,145.0v10.8M566.0,143.6v9.7M566.5,141.2v11.1M567.0,145.2v7.5M567.5,144.9v7.9M568.0,143.8v8.8M568.5,143.8v9.6M569.0,144.6v7.6M569.5,144.4v9.7M570.0,145.6v7.7M570.5,145.6v7.7M571.0,143.1v10.0M571.5,141.3v11.5M572.0,145.3v7.4M572.5,143.2v9.1M573.0,145.1v6.4M573.5,144.4v8.2M574.0,142.8v10.6M574.5,141.6v12.1M575.0,144.3v8.7M575.5,145.5v6.2M576.0,145.5v6.9M576.5,143.8v7.4M577.0,146.1v6.4M577.5,142.5v10.3M578.0,144.5v6.7M578.5,143.8v8.9M579.0,143.5v11.9M579.5,142.8v11.1M580.0,142.6v12.8M580.5,145.3v8.4M581.0,145.6v6.6M581.5,145.4v8.3M582.0,144.7v9.1M582.5,143.6v10.0M583.0,143.6v9.7M583.5,144.5v6.8M584.0,144.7v7.0M584.5,144.0v8.0M585.0,145.9v7.0M585.5,144.3v7.5M586.0,143.1v8.1M586.5,142.7v12.0M587.0,144.7v12.7M587.5,140.9v12.8M588.0,143.2v11.3M588.5,139.8v19.9M589.0,142.2v11.2M589.5,141.6v14.3M590.0,137.3v16.8M590.5,144.0v8.9M591.0,140.0v19.2M591.5,141.4v17.1M592.0,144.4v10.8M592.5,144.9v10.7M593.0,143.5v9.0M593.5,144.6v8.9M594.0,140.8v14.1M594.5,142.2v17.5M595.0,140.6v15.1M595.5,140.0v16.2M596.0,142.8v15.0M596.5,143.4v9.9M597.0,143.5v11.6M597.5,143.1v9.3M598.0,144.2v6.9M598.5,145.0v8.0M599.0,144.4v9.1M599.5,144.4v9.7M600.0,143.2v9.9M600.5,143.9v8.2M601.0,143.9v8.9M601.5,143.8v9.1M602.0,144.3v9.8M602.5,145.4v6.6M603.0,144.2v7.6M603.5,144.6v8.2M604.0,145.0v9.1M604.5,145.2v7.5M605.0,145.6v6.1M605.5,144.3v6.8M606.0,145.6v7.8M606.5,144.9v6.9M607.0,145.7v7.9M607.5,145.5v7.4M608.0,144.7v7.5M608.5,144.6v7.7M609.0,144.7v6.5M609.5,146.1v4.6M610.0,146.3v5.5M610.5,144.9v7.1M611.0,144.2v7.7M611.5,145.6v7.3M612.0,144.9v7.1M612.5,143.5v10.6M613.0,143.3v8.6M613.5,145.7v5.9M614.0,143.4v10.7M614.5,145.5v5.8M615.0,144.9v9.2M615.5,143.5v10.6M616.0,143.8v8.3M616.5,145.3v8.6M617.0,145.3v8.7M617.5,145.9v7.1M618.0,143.2v10.5M618.5,143.2v10.9M619.0,143.6v11.1M619.5,142.9v12.1M620.0,140.1v15.0M620.5,144.1v11.2M621.0,140.0v12.8M621.5,140.9v15.7M622.0,140.7v15.3M622.5,139.5v12.9M623.0,144.1v10.3M623.5,139.5v16.9M624.0,141.1v14.3M624.5,142.2v13.1M625.0,141.7v12.5M625.5,142.9v12.0M626.0,141.9v11.1M626.5,145.2v6.5M627.0,143.7v8.5M627.5,143.7v9.6M628.0,140.8v10.8M628.5,141.7v13.2M629.0,143.6v10.6M629.5,142.4v12.0M630.0,144.7v11.0M630.5,139.5v17.1M631.0,139.5v17.5M631.5,143.6v12.0M632.0,140.7v14.9M632.5,141.8v13.0M633.0,140.8v11.9M633.5,141.9v14.0M634.0,141.7v12.5M634.5,144.0v12.1M635.0,142.0v11.9M635.5,143.1v12.9M636.0,143.3v9.5M636.5,144.6v9.6M637.0,145.1v8.4M637.5,143.9v12.9M638.0,145.0v8.5M638.5,143.7v10.7M639.0,141.8v12.4M639.5,143.2v8.0M640.0,145.9v6.7M640.5,144.0v9.0M641.0,144.8v7.9M641.5,145.5v7.4M642.0,146.2v5.1M642.5,145.1v7.8M643.0,145.3v7.7M643.5,144.0v6.8M644.0,146.0v6.9M644.5,144.0v9.0M645.0,144.0v7.2M645.5,145.7v6.7" fill="none" stroke="#0000ff" stroke-width="0.75"/>
<path d="M46.0,148.5V175.5M153.0,148.5V170.1M163.4,148.5V168.5M176.0,148.5V166.1M188.0,105.5V189.1M199.4,129.5V188.5M195.0,148.5V168.1M211.6,148.5V165.1M225.6,148.5V172.1M235.0,148.5V173.1M237.6,148.5V173.5M248.6,148.5V171.1M264.0,148.5V168.1M238.0,128.5V148.5M258.0,127.5V148.5M276.6,121.5V166.1M290.0,148.5V167.1M296.0,109.5V193.1M297.0,71.5V225.1M313.0,124.5V184.1M319.4,96.5V196.1M327.0,113.5V176.1M339.0,126.5V170.1M357.0,148.5V170.1M372.4,148.5V169.5M401.0,148.5V161.1M415.4,148.5V175.5M420.6,148.5V162.1M428.0,130.5V148.5M440.6,148.5V181.5M447.0,129.5V172.1M450.6,120.5V179.1M452.6,148.5V170.1M471.0,130.5V148.5M474.0,117.5V183.5M481.6,124.5V177.1M488.4,111.7V183.5M494.4,148.5V171.1M504.0,135.5V148.5M636.6,135.5V168.5" fill="none" stroke="#0000ff" stroke-width="0.8" stroke-opacity="0.7"/>
<path d="M645.2,122.5V190.1" fill="none" stroke="#0000ff" stroke-width="1.8" stroke-opacity="0.9"/>
</g>
<rect x="43.5" y="46.5" width="602" height="204" fill="none" stroke="#a2a2a2" stroke-width="1.2"/>
<text class="t" x="39.1" y="50.1" text-anchor="end">1.5</text>
<text class="t" x="39.1" y="84.1" text-anchor="end">1</text>
<text class="t" x="39.1" y="118.1" text-anchor="end">0.5</text>
<text class="t" x="39.1" y="152.1" text-anchor="end">0</text>
<text class="t" x="39.1" y="186.1" text-anchor="end">-0.5</text>
<text class="t" x="39.1" y="220.1" text-anchor="end">-1</text>
<text class="t" x="39.1" y="254.1" text-anchor="end">-1.5</text>
<path d="M118.75,250.5 v-6 M118.75,46.5 v6 M194.00,250.5 v-6 M194.00,46.5 v6 M269.25,250.5 v-6 M269.25,46.5 v6 M344.50,250.5 v-6 M344.50,46.5 v6 M419.75,250.5 v-6 M419.75,46.5 v6 M495.00,250.5 v-6 M495.00,46.5 v6 M570.25,250.5 v-6 M570.25,46.5 v6 M43.5,80.50 h6 M645.5,80.50 h-6 M43.5,114.50 h6 M645.5,114.50 h-6 M43.5,148.50 h6 M645.5,148.50 h-6 M43.5,182.50 h6 M645.5,182.50 h-6 M43.5,216.50 h6 M645.5,216.50 h-6" stroke="#777" stroke-width="0.9" fill="none"/>
<text class="t" x="42.9" y="265.1" text-anchor="middle">00:00</text>
<text class="t" x="118.2" y="265.1" text-anchor="middle">03:00</text>
<text class="t" x="193.6" y="265.1" text-anchor="middle">06:00</text>
<text class="t" x="268.9" y="265.1" text-anchor="middle">09:00</text>
<text class="t" x="344.3" y="265.1" text-anchor="middle">12:00</text>
<text class="t" x="419.6" y="265.1" text-anchor="middle">15:00</text>
<text class="t" x="494.9" y="265.1" text-anchor="middle">18:00</text>
<text class="t" x="570.3" y="265.1" text-anchor="middle">21:00</text>
<text class="t" x="645.6" y="265.1" text-anchor="middle">00:00</text>
<text class="b" transform="translate(9.3,148.5) rotate(-90)" text-anchor="middle">X (nT)</text>
<rect x="836.2" y="46" width="603.8" height="204.7" fill="#00008f"/>
<g clip-path="url(#cr0)">
<rect x="1234" y="45.1" width="1" height="206.0" fill="url(#k85)"/><rect x="874" y="227.5" width="1" height="23.2" fill="url(#a1)"/><rect x="1086" y="75.4" width="1" height="175.6" fill="url(#k55)"/><rect x="1251" y="220.4" width="1" height="30.3" fill="url(#a1)"/><rect x="1230" y="231.8" width="1" height="18.9" fill="url(#a1)"/><rect x="1354" y="217.7" width="1" height="33.0" fill="url(#a1)"/><rect x="1110" y="45.1" width="1" height="206.0" fill="url(#k71)"/><rect x="843" y="98.1" width="1" height="152.9" fill="url(#k8)"/><rect x="1256" y="219.3" width="1" height="31.4" fill="url(#a1)"/><rect x="1276" y="77.9" width="1" height="173.1" fill="url(#k99)"/><rect x="881" y="226.4" width="1" height="24.3" fill="url(#a1)"/><rect x="1426" y="45.1" width="1" height="206.0" fill="url(#k103)"/><rect x="1428" y="45.1" width="1" height="206.0" fill="url(#k105)"/><rect x="1159" y="183.6" width="1" height="67.1" fill="url(#a1)"/><rect x="1418" y="45.1" width="1" height="206.0" fill="url(#k100)"/><rect x="1420" y="45.1" width="1" height="206.0" fill="url(#k102)"/><rect x="1383" y="221.1" width="1" height="29.6" fill="url(#a1)"/><rect x="1228" y="165.4" width="1" height="85.3" fill="url(#a1)"/><rect x="1346" y="223.4" width="1" height="27.3" fill="url(#a1)"/><rect x="1220" y="211.7" width="1" height="39.0" fill="url(#a1)"/><rect x="905" y="223.5" width="1" height="27.2" fill="url(#a1)"/><rect x="1303" y="200.1" width="1" height="50.6" fill="url(#a1)"/><rect x="1005" y="198.9" width="1" height="51.8" fill="url(#a2)"/><rect x="1034" y="205.1" width="1" height="45.6" fill="url(#a2)"/><rect x="913" y="213.0" width="1" height="37.7" fill="url(#a2)"/><rect x="884" y="220.6" width="1" height="30.1" fill="url(#a2)"/><rect x="988" y="45.1" width="1" height="156.7" fill="url(#k41)"/><rect x="990" y="45.1" width="1" height="156.7" fill="url(#k43)"/><rect x="1170" y="212.0" width="1" height="38.7" fill="url(#a2)"/><rect x="1189" y="203.9" width="1" height="46.8" fill="url(#a2)"/><rect x="1242" y="208.7" width="1" height="42.0" fill="url(#a2)"/><rect x="1329" y="212.4" width="1" height="38.3" fill="url(#a2)"/><rect x="834" y="90.5" width="1" height="160.5" fill="url(#k0)"/><rect x="896" y="184.0" width="1" height="67.0" fill="url(#k27)"/><rect x="1176" y="210.1" width="1" height="40.6" fill="url(#a2)"/><rect x="1201" y="197.7" width="1" height="53.0" fill="url(#a2)"/><rect x="1407" y="216.4" width="1" height="34.3" fill="url(#a2)"/><rect x="1216" y="199.6" width="1" height="51.1" fill="url(#a2)"/><rect x="977" y="45.1" width="1" height="206.0" fill="url(#k32)"/><rect x="1017" y="199.4" width="1" height="51.3" fill="url(#a2)"/><rect x="1242" y="215.5" width="1" height="35.2" fill="url(#a2)"/><rect x="858" y="205.8" width="1" height="44.9" fill="url(#a2)"/><rect x="1334" y="222.8" width="1" height="27.9" fill="url(#a2)"/><rect x="1312" y="211.8" width="1" height="38.9" fill="url(#a2)"/><rect x="1144" y="212.7" width="1" height="38.0" fill="url(#a2)"/><rect x="1349" y="213.0" width="1" height="37.7" fill="url(#a2)"/><rect x="1043" y="200.8" width="1" height="49.9" fill="url(#a2)"/><rect x="1021" y="197.1" width="1" height="53.6" fill="url(#a2)"/><rect x="1033" y="203.6" width="1" height="47.1" fill="url(#a2)"/><rect x="1106" y="216.9" width="1" height="33.8" fill="url(#a3)"/><rect x="948" y="211.7" width="1" height="39.0" fill="url(#a3)"/><rect x="1081" y="195.8" width="1" height="54.9" fill="url(#a3)"/><rect x="1357" y="199.2" width="1" height="51.5" fill="url(#a3)"/><rect x="983" y="232.9" width="1" height="17.8" fill="url(#a3)"/><rect x="1285" y="199.1" width="1" height="51.6" fill="url(#a3)"/><rect x="1050" y="197.1" width="1" height="53.6" fill="url(#a3)"/><rect x="1170" y="183.6" width="1" height="67.1" fill="url(#a3)"/><rect x="1035" y="212.0" width="1" height="38.7" fill="url(#a3)"/><rect x="1166" y="182.7" width="1" height="68.0" fill="url(#a3)"/><rect x="857" y="216.0" width="1" height="34.7" fill="url(#a3)"/><rect x="1325" y="201.9" width="1" height="48.8" fill="url(#a3)"/><rect x="1402" y="210.1" width="1" height="40.6" fill="url(#a3)"/><rect x="975" y="151.2" width="1" height="91.0" fill="url(#k35)"/><rect x="1355" y="195.0" width="1" height="55.7" fill="url(#a3)"/><rect x="934" y="212.1" width="1" height="38.6" fill="url(#a3)"/><rect x="1322" y="197.2" width="1" height="53.5" fill="url(#a3)"/><rect x="1219" y="190.3" width="1" height="60.4" fill="url(#a3)"/><rect x="1255" y="85.5" width="1" height="165.5" fill="url(#k87)"/><rect x="867" y="219.0" width="1" height="31.7" fill="url(#a3)"/><rect x="1320" y="196.7" width="1" height="54.0" fill="url(#a3)"/><rect x="1139" y="201.3" width="1" height="49.4" fill="url(#a3)"/><rect x="1191" y="194.5" width="1" height="56.2" fill="url(#a3)"/><rect x="1347" y="208.0" width="1" height="42.7" fill="url(#a3)"/><rect x="1194" y="194.4" width="1" height="56.3" fill="url(#a3)"/><rect x="1306" y="177.2" width="1" height="73.5" fill="url(#a3)"/><rect x="900" y="184.0" width="1" height="67.0" fill="url(#k31)"/><rect x="909" y="209.1" width="1" height="41.6" fill="url(#a3)"/><rect x="919" y="203.9" width="1" height="46.8" fill="url(#a3)"/><rect x="1308" y="205.2" width="1" height="45.5" fill="url(#a3)"/><rect x="1072" y="197.1" width="1" height="53.6" fill="url(#a3)"/><rect x="1104" y="45.1" width="1" height="206.0" fill="url(#k65)"/><rect x="1330" y="217.5" width="1" height="33.2" fill="url(#a3)"/><rect x="1246" y="208.3" width="1" height="42.4" fill="url(#a3)"/><rect x="1061" y="158.1" width="1" height="92.6" fill="url(#a3)"/><rect x="1379" y="202.6" width="1" height="48.1" fill="url(#a3)"/><rect x="1080" y="75.4" width="1" height="175.6" fill="url(#k49)"/><rect x="1225" y="111.3" width="1" height="139.4" fill="url(#a3)"/><rect x="1129" y="205.7" width="1" height="45.0" fill="url(#a3)"/><rect x="1162" y="135.9" width="1" height="114.8" fill="url(#a3)"/><rect x="853" y="212.0" width="1" height="38.7" fill="url(#a4)"/><rect x="892" y="168.9" width="1" height="81.8" fill="url(#a4)"/><rect x="1096" y="148.3" width="1" height="102.4" fill="url(#a4)"/><rect x="849" y="211.2" width="1" height="39.5" fill="url(#a4)"/><rect x="1217" y="185.4" width="1" height="65.3" fill="url(#a4)"/><rect x="1348" y="204.7" width="1" height="46.0" fill="url(#a4)"/><rect x="980" y="151.2" width="1" height="91.0" fill="url(#k40)"/><rect x="1356" y="189.4" width="1" height="61.3" fill="url(#a4)"/><rect x="1047" y="189.9" width="1" height="60.8" fill="url(#a4)"/><rect x="1153" y="179.4" width="1" height="71.3" fill="url(#a4)"/><rect x="1290" y="189.1" width="1" height="61.6" fill="url(#a4)"/><rect x="1261" y="85.5" width="1" height="165.5" fill="url(#k93)"/><rect x="1160" y="130.4" width="1" height="120.3" fill="url(#a4)"/><rect x="1068" y="192.9" width="1" height="57.8" fill="url(#a4)"/><rect x="1030" y="182.0" width="1" height="68.7" fill="url(#a4)"/><rect x="1372" y="205.5" width="1" height="45.2" fill="url(#a4)"/><rect x="1081" y="226.4" width="1" height="24.3" fill="url(#a4)"/><rect x="1227" y="102.4" width="1" height="148.3" fill="url(#a4)"/><rect x="1274" y="210.2" width="1" height="40.5" fill="url(#a4)"/><rect x="1382" y="198.8" width="1" height="51.9" fill="url(#a4)"/><rect x="1236" y="214.4" width="1" height="36.3" fill="url(#a4)"/><rect x="1419" y="45.1" width="1" height="206.0" fill="url(#k101)"/><rect x="1279" y="209.9" width="1" height="40.8" fill="url(#a4)"/><rect x="1135" y="195.5" width="1" height="55.2" fill="url(#a4)"/><rect x="906" y="204.8" width="1" height="45.9" fill="url(#a4)"/><rect x="979" y="45.1" width="1" height="206.0" fill="url(#k34)"/><rect x="1304" y="169.1" width="1" height="81.6" fill="url(#a4)"/><rect x="1218" y="182.0" width="1" height="68.7" fill="url(#a4)"/><rect x="890" y="163.0" width="1" height="87.7" fill="url(#a4)"/><rect x="970" y="186.9" width="1" height="63.8" fill="url(#a4)"/><rect x="1321" y="189.1" width="1" height="61.6" fill="url(#a4)"/><rect x="1092" y="141.3" width="1" height="109.4" fill="url(#a4)"/><rect x="1376" y="203.8" width="1" height="46.9" fill="url(#a4)"/><rect x="966" y="186.1" width="1" height="64.6" fill="url(#a4)"/><rect x="1328" y="192.3" width="1" height="58.4" fill="url(#a4)"/><rect x="938" y="204.9" width="1" height="45.8" fill="url(#a4)"/><rect x="897" y="184.0" width="1" height="67.0" fill="url(#k28)"/><rect x="888" y="202.8" width="1" height="47.9" fill="url(#a4)"/><rect x="1100" y="62.7" width="1" height="188.3" fill="url(#k56)"/><rect x="1037" y="148.8" width="1" height="101.9" fill="url(#a4)"/><rect x="1077" y="179.2" width="1" height="71.5" fill="url(#a5)"/><rect x="1029" y="188.1" width="1" height="62.6" fill="url(#a5)"/><rect x="1110" y="45.1" width="1" height="206.0" fill="url(#k72)"/><rect x="1018" y="178.9" width="1" height="71.8" fill="url(#a5)"/><rect x="1171" y="197.9" width="1" height="52.8" fill="url(#a5)"/><rect x="1192" y="183.3" width="1" height="67.4" fill="url(#a5)"/><rect x="1148" y="199.0" width="1" height="51.7" fill="url(#a5)"/><rect x="1193" y="183.3" width="1" height="67.4" fill="url(#a5)"/><rect x="1020" y="177.9" width="1" height="72.8" fill="url(#a5)"/><rect x="1089" y="224.9" width="1" height="25.8" fill="url(#a5)"/><rect x="1066" y="141.5" width="1" height="109.2" fill="url(#a5)"/><rect x="1175" y="197.1" width="1" height="53.6" fill="url(#a5)"/><rect x="1252" y="186.4" width="1" height="64.3" fill="url(#a5)"/><rect x="1033" y="174.5" width="1" height="76.2" fill="url(#a5)"/><rect x="1305" y="161.9" width="1" height="88.8" fill="url(#a5)"/><rect x="1184" y="174.3" width="1" height="76.4" fill="url(#a5)"/><rect x="1157" y="170.7" width="1" height="80.0" fill="url(#a5)"/><rect x="1255" y="186.1" width="1" height="64.6" fill="url(#a5)"/><rect x="871" y="211.6" width="1" height="39.1" fill="url(#a5)"/><rect x="1226" y="86.0" width="1" height="164.7" fill="url(#a5)"/><rect x="1107" y="62.7" width="1" height="188.3" fill="url(#k63)"/><rect x="1161" y="116.1" width="1" height="134.6" fill="url(#a5)"/><rect x="1144" y="188.5" width="1" height="62.2" fill="url(#a5)"/><rect x="1326" y="187.9" width="1" height="62.8" fill="url(#a5)"/><rect x="875" y="211.4" width="1" height="39.3" fill="url(#a5)"/><rect x="880" y="211.1" width="1" height="39.6" fill="url(#a5)"/><rect x="853" y="205.1" width="1" height="45.6" fill="url(#a5)"/><rect x="1039" y="199.4" width="1" height="51.3" fill="url(#a5)"/><rect x="1264" y="167.9" width="1" height="82.8" fill="url(#a5)"/><rect x="908" y="199.0" width="1" height="51.7" fill="url(#a5)"/><rect x="1238" y="180.4" width="1" height="70.3" fill="url(#a5)"/><rect x="1129" y="80.4" width="1" height="101.1" fill="url(#k79)"/><rect x="899" y="184.0" width="1" height="67.0" fill="url(#k30)"/><rect x="1140" y="186.7" width="1" height="64.0" fill="url(#a5)"/><rect x="1380" y="191.5" width="1" height="59.2" fill="url(#a5)"/><rect x="1243" y="198.4" width="1" height="52.3" fill="url(#a5)"/><rect x="1333" y="209.5" width="1" height="41.2" fill="url(#a5)"/><rect x="885" y="198.6" width="1" height="52.1" fill="url(#a5)"/><rect x="1311" y="193.7" width="1" height="57.0" fill="url(#a5)"/><rect x="1271" y="77.9" width="1" height="173.1" fill="url(#k94)"/><rect x="1042" y="142.7" width="1" height="108.0" fill="url(#a5)"/><rect x="1406" y="197.2" width="1" height="53.5" fill="url(#a5)"/><rect x="1381" y="190.1" width="1" height="60.6" fill="url(#a6)"/><rect x="907" y="197.4" width="1" height="53.3" fill="url(#a6)"/><rect x="1169" y="157.8" width="1" height="92.9" fill="url(#a6)"/><rect x="1327" y="184.4" width="1" height="66.3" fill="url(#a6)"/><rect x="1167" y="157.5" width="1" height="93.2" fill="url(#a6)"/><rect x="952" y="194.3" width="1" height="56.4" fill="url(#a6)"/><rect x="891" y="148.9" width="1" height="101.8" fill="url(#a6)"/><rect x="1011" y="173.9" width="1" height="76.8" fill="url(#a6)"/><rect x="1019" y="171.4" width="1" height="79.3" fill="url(#a6)"/><rect x="898" y="184.0" width="1" height="67.0" fill="url(#k29)"/><rect x="914" y="194.9" width="1" height="55.8" fill="url(#a6)"/><rect x="1205" y="165.2" width="1" height="85.5" fill="url(#a6)"/><rect x="1044" y="176.2" width="1" height="74.5" fill="url(#a6)"/><rect x="1100" y="206.9" width="1" height="43.8" fill="url(#a6)"/><rect x="1309" y="190.9" width="1" height="59.8" fill="url(#a6)"/><rect x="989" y="45.1" width="1" height="156.7" fill="url(#k42)"/><rect x="1331" y="207.3" width="1" height="43.4" fill="url(#a6)"/><rect x="1245" y="195.5" width="1" height="55.2" fill="url(#a6)"/><rect x="1241" y="175.7" width="1" height="75.0" fill="url(#a6)"/><rect x="1403" y="194.5" width="1" height="56.2" fill="url(#a6)"/><rect x="1055" y="173.1" width="1" height="77.6" fill="url(#a6)"/><rect x="1131" y="80.4" width="1" height="101.1" fill="url(#k81)"/><rect x="841" y="90.5" width="1" height="160.5" fill="url(#k7)"/><rect x="1031" y="165.2" width="1" height="85.5" fill="url(#a6)"/><rect x="866" y="189.1" width="1" height="61.6" fill="url(#a6)"/><rect x="976" y="151.2" width="1" height="91.0" fill="url(#k36)"/><rect x="1006" y="171.3" width="1" height="79.4" fill="url(#a6)"/><rect x="1145" y="190.7" width="1" height="60.0" fill="url(#a7)"/><rect x="1373" y="193.7" width="1" height="57.0" fill="url(#a7)"/><rect x="1188" y="163.8" width="1" height="86.9" fill="url(#a7)"/><rect x="1032" y="177.3" width="1" height="73.4" fill="url(#a7)"/><rect x="1080" y="166.0" width="1" height="84.7" fill="url(#a7)"/><rect x="1231" y="45.1" width="1" height="206.0" fill="url(#k82)"/><rect x="1046" y="171.7" width="1" height="79.0" fill="url(#a7)"/><rect x="1375" y="192.9" width="1" height="57.8" fill="url(#a7)"/><rect x="1172" y="191.6" width="1" height="59.1" fill="url(#a7)"/><rect x="1032" y="162.4" width="1" height="88.3" fill="url(#a7)"/><rect x="1124" y="189.7" width="1" height="61.0" fill="url(#a7)"/><rect x="979" y="151.2" width="1" height="91.0" fill="url(#k39)"/><rect x="1174" y="191.2" width="1" height="59.5" fill="url(#a7)"/><rect x="1244" y="191.8" width="1" height="58.9" fill="url(#a7)"/><rect x="1332" y="204.4" width="1" height="46.3" fill="url(#a7)"/><rect x="1310" y="186.8" width="1" height="63.9" fill="url(#a7)"/><rect x="1202" y="158.3" width="1" height="92.4" fill="url(#a7)"/><rect x="1168" y="148.7" width="1" height="102.0" fill="url(#a7)"/><rect x="1138" y="179.6" width="1" height="71.1" fill="url(#a7)"/><rect x="1286" y="169.9" width="1" height="80.8" fill="url(#a7)"/><rect x="918" y="191.6" width="1" height="59.1" fill="url(#a7)"/><rect x="887" y="191.6" width="1" height="59.1" fill="url(#a7)"/><rect x="1071" y="174.7" width="1" height="76.0" fill="url(#a7)"/><rect x="980" y="222.3" width="1" height="28.4" fill="url(#a7)"/><rect x="935" y="193.8" width="1" height="56.9" fill="url(#a7)"/><rect x="852" y="197.0" width="1" height="53.7" fill="url(#a7)"/><rect x="1253" y="173.5" width="1" height="77.2" fill="url(#a7)"/><rect x="1109" y="45.1" width="1" height="206.0" fill="url(#k70)"/><rect x="1254" y="173.4" width="1" height="77.3" fill="url(#a7)"/><rect x="850" y="196.6" width="1" height="54.1" fill="url(#a7)"/><rect x="1036" y="190.4" width="1" height="60.3" fill="url(#a8)"/><rect x="1069" y="172.9" width="1" height="77.8" fill="url(#a8)"/><rect x="856" y="197.0" width="1" height="53.7" fill="url(#a8)"/><rect x="886" y="190.0" width="1" height="60.7" fill="url(#a8)"/><rect x="949" y="187.0" width="1" height="63.7" fill="url(#a8)"/><rect x="1027" y="57.7" width="1" height="193.3" fill="url(#k45)"/><rect x="1136" y="177.2" width="1" height="73.5" fill="url(#a8)"/><rect x="1268" y="152.8" width="1" height="97.9" fill="url(#a8)"/><rect x="1405" y="188.5" width="1" height="62.2" fill="url(#a8)"/><rect x="868" y="203.1" width="1" height="47.6" fill="url(#a8)"/><rect x="1045" y="166.7" width="1" height="84.0" fill="url(#a8)"/><rect x="1374" y="189.1" width="1" height="61.6" fill="url(#a8)"/><rect x="1173" y="189.1" width="1" height="61.6" fill="url(#a8)"/><rect x="1095" y="106.1" width="1" height="144.6" fill="url(#a8)"/><rect x="1078" y="159.2" width="1" height="91.5" fill="url(#a8)"/><rect x="1289" y="165.6" width="1" height="85.1" fill="url(#a8)"/><rect x="1030" y="170.9" width="1" height="79.8" fill="url(#a8)"/><rect x="859" y="184.9" width="1" height="65.8" fill="url(#a8)"/><rect x="1404" y="187.4" width="1" height="63.3" fill="url(#a8)"/><rect x="1147" y="185.1" width="1" height="65.6" fill="url(#a8)"/><rect x="1035" y="50.1" width="1" height="200.9" fill="url(#k46)"/><rect x="1075" y="46.3" width="1" height="204.7" fill="url(#k48)"/><rect x="1236" y="45.1" width="1" height="126.4" fill="url(#k86)"/><rect x="937" y="190.8" width="1" height="59.9" fill="url(#a8)"/><rect x="1082" y="220.5" width="1" height="30.2" fill="url(#a8)"/><rect x="1093" y="103.2" width="1" height="147.5" fill="url(#a8)"/><rect x="835" y="90.5" width="1" height="160.5" fill="url(#k1)"/><rect x="1143" y="172.6" width="1" height="78.1" fill="url(#a8)"/><rect x="876" y="205.2" width="1" height="45.5" fill="url(#a8)"/><rect x="1239" y="164.6" width="1" height="86.1" fill="url(#a8)"/><rect x="1231" y="200.0" width="1" height="50.7" fill="url(#a8)"/><rect x="1275" y="77.9" width="1" height="173.1" fill="url(#k98)"/><rect x="879" y="205.1" width="1" height="45.6" fill="url(#a8)"/><rect x="1038" y="127.8" width="1" height="122.9" fill="url(#a8)"/><rect x="1130" y="80.4" width="1" height="101.1" fill="url(#k80)"/><rect x="982" y="220.2" width="1" height="30.5" fill="url(#a8)"/><rect x="1141" y="171.7" width="1" height="79.0" fill="url(#a8)"/><rect x="977" y="151.2" width="1" height="91.0" fill="url(#k37)"/><rect x="969" y="162.4" width="1" height="88.3" fill="url(#a9)"/><rect x="1154" y="148.0" width="1" height="102.7" fill="url(#a9)"/><rect x="1116" y="45.1" width="1" height="206.0" fill="url(#k78)"/><rect x="1240" y="162.8" width="1" height="87.9" fill="url(#a9)"/><rect x="967" y="162.1" width="1" height="88.6" fill="url(#a9)"/><rect x="978" y="151.2" width="1" height="91.0" fill="url(#k38)"/><rect x="1146" y="182.1" width="1" height="68.6" fill="url(#a9)"/><rect x="1088" y="219.7" width="1" height="31.0" fill="url(#a9)"/><rect x="870" y="200.0" width="1" height="50.7" fill="url(#a9)"/><rect x="1031" y="167.0" width="1" height="83.7" fill="url(#a9)"/><rect x="1185" y="151.3" width="1" height="99.4" fill="url(#a9)"/><rect x="1079" y="154.3" width="1" height="96.4" fill="url(#a9)"/><rect x="1085" y="75.4" width="1" height="175.6" fill="url(#k54)"/><rect x="915" y="187.4" width="1" height="63.3" fill="url(#a9)"/><rect x="1062" y="106.5" width="1" height="144.2" fill="url(#a9)"/><rect x="1137" y="171.5" width="1" height="79.2" fill="url(#a9)"/><rect x="1070" y="166.4" width="1" height="84.3" fill="url(#a9)"/><rect x="854" y="192.5" width="1" height="58.2" fill="url(#a9)"/><rect x="851" y="191.6" width="1" height="59.1" fill="url(#a9)"/><rect x="1038" y="185.3" width="1" height="65.4" fill="url(#a9)"/><rect x="1041" y="124.9" width="1" height="125.8" fill="url(#a9)"/><rect x="1256" y="85.5" width="1" height="165.5" fill="url(#k88)"/><rect x="846" y="98.1" width="1" height="152.9" fill="url(#k11)"/><rect x="1051" y="158.1" width="1" height="92.6" fill="url(#a9)"/><rect x="1233" y="45.1" width="1" height="206.0" fill="url(#k84)"/><rect x="1275" y="191.5" width="1" height="59.2" fill="url(#a9)"/><rect x="1278" y="191.4" width="1" height="59.3" fill="url(#a9)"/><rect x="1156" y="144.4" width="1" height="106.3" fill="url(#a9)"/><rect x="936" y="186.8" width="1" height="63.9" fill="url(#a9)"/><rect x="1204" y="145.4" width="1" height="105.3" fill="url(#a9)"/><rect x="951" y="179.9" width="1" height="70.8" fill="url(#a10)"/><rect x="1010" y="161.2" width="1" height="89.5" fill="url(#a10)"/><rect x="917" y="185.8" width="1" height="64.9" fill="url(#a10)"/><rect x="1094" y="90.6" width="1" height="160.1" fill="url(#a10)"/><rect x="1105" y="45.1" width="1" height="206.0" fill="url(#k66)"/><rect x="1142" y="166.4" width="1" height="84.3" fill="url(#a10)"/><rect x="1106" y="62.7" width="1" height="188.3" fill="url(#k62)"/><rect x="1203" y="142.8" width="1" height="107.9" fill="url(#a10)"/><rect x="1187" y="146.3" width="1" height="104.4" fill="url(#a10)"/><rect x="1287" y="156.6" width="1" height="94.1" fill="url(#a10)"/><rect x="1065" y="99.2" width="1" height="151.5" fill="url(#a10)"/><rect x="1037" y="182.0" width="1" height="68.7" fill="url(#a10)"/><rect x="855" y="189.5" width="1" height="61.2" fill="url(#a10)"/><rect x="1105" y="199.5" width="1" height="51.2" fill="url(#a10)"/><rect x="869" y="196.9" width="1" height="53.8" fill="url(#a10)"/><rect x="1007" y="159.9" width="1" height="90.8" fill="url(#a10)"/><rect x="877" y="202.3" width="1" height="48.4" fill="url(#a10)"/><rect x="878" y="202.2" width="1" height="48.5" fill="url(#a10)"/><rect x="1111" y="45.1" width="1" height="206.0" fill="url(#k73)"/><rect x="844" y="98.1" width="1" height="152.9" fill="url(#k9)"/><rect x="1288" y="154.9" width="1" height="95.8" fill="url(#a10)"/><rect x="950" y="177.3" width="1" height="73.4" fill="url(#a10)"/><rect x="981" y="217.0" width="1" height="33.7" fill="url(#a11)"/><rect x="916" y="184.2" width="1" height="66.5" fill="url(#a11)"/><rect x="968" y="153.7" width="1" height="97.0" fill="url(#a11)"/><rect x="1235" y="194.1" width="1" height="56.6" fill="url(#a11)"/><rect x="1081" y="75.4" width="1" height="175.6" fill="url(#k50)"/><rect x="1039" y="117.9" width="1" height="132.8" fill="url(#a11)"/><rect x="1128" y="175.7" width="1" height="75.0" fill="url(#a11)"/><rect x="1186" y="141.5" width="1" height="109.2" fill="url(#a11)"/><rect x="1155" y="136.2" width="1" height="114.5" fill="url(#a11)"/><rect x="1101" y="62.7" width="1" height="188.3" fill="url(#k57)"/><rect x="1040" y="116.8" width="1" height="133.9" fill="url(#a11)"/><rect x="865" y="177.5" width="1" height="73.2" fill="url(#a11)"/><rect x="1083" y="217.2" width="1" height="33.5" fill="url(#a11)"/><rect x="1054" y="147.8" width="1" height="102.9" fill="url(#a11)"/><rect x="1232" y="45.1" width="1" height="206.0" fill="url(#k83)"/><rect x="1087" y="216.7" width="1" height="34.0" fill="url(#a12)"/><rect x="1009" y="155.0" width="1" height="95.7" fill="url(#a12)"/><rect x="1260" y="85.5" width="1" height="165.5" fill="url(#k92)"/><rect x="1272" y="77.9" width="1" height="173.1" fill="url(#k95)"/><rect x="1008" y="154.5" width="1" height="96.2" fill="url(#a12)"/><rect x="840" y="90.5" width="1" height="160.5" fill="url(#k6)"/><rect x="1276" y="183.0" width="1" height="67.7" fill="url(#a12)"/><rect x="1277" y="182.9" width="1" height="67.8" fill="url(#a12)"/><rect x="1265" y="128.7" width="1" height="122.0" fill="url(#a12)"/><rect x="1063" y="83.0" width="1" height="167.7" fill="url(#a13)"/><rect x="860" y="175.2" width="1" height="75.5" fill="url(#a13)"/><rect x="1101" y="195.8" width="1" height="54.9" fill="url(#a13)"/><rect x="1064" y="80.2" width="1" height="170.5" fill="url(#a13)"/><rect x="1427" y="45.1" width="1" height="206.0" fill="url(#k104)"/><rect x="836" y="90.5" width="1" height="160.5" fill="url(#k2)"/><rect x="1125" y="168.8" width="1" height="81.9" fill="url(#a13)"/><rect x="1052" y="140.8" width="1" height="109.9" fill="url(#a13)"/><rect x="1105" y="62.7" width="1" height="188.3" fill="url(#k61)"/><rect x="1232" y="187.3" width="1" height="63.4" fill="url(#a14)"/><rect x="978" y="45.1" width="1" height="206.0" fill="url(#k33)"/><rect x="1115" y="45.1" width="1" height="206.0" fill="url(#k77)"/><rect x="1084" y="215.3" width="1" height="35.4" fill="url(#a14)"/><rect x="1112" y="45.1" width="1" height="206.0" fill="url(#k74)"/><rect x="1108" y="45.1" width="1" height="206.0" fill="url(#k69)"/><rect x="1267" y="122.4" width="1" height="128.3" fill="url(#a14)"/><rect x="845" y="98.1" width="1" height="152.9" fill="url(#k10)"/><rect x="1086" y="215.0" width="1" height="35.7" fill="url(#a14)"/><rect x="1053" y="136.7" width="1" height="114.0" fill="url(#a14)"/><rect x="1274" y="77.9" width="1" height="173.1" fill="url(#k97)"/><rect x="1102" y="62.7" width="1" height="188.3" fill="url(#k58)"/><rect x="1085" y="214.4" width="1" height="36.3" fill="url(#a15)"/><rect x="1234" y="184.5" width="1" height="66.2" fill="url(#a15)"/><rect x="864" y="170.9" width="1" height="79.8" fill="url(#a15)"/><rect x="1104" y="192.3" width="1" height="58.4" fill="url(#a16)"/><rect x="1127" y="162.2" width="1" height="88.5" fill="url(#a16)"/><rect x="1104" y="62.7" width="1" height="188.3" fill="url(#k60)"/><rect x="1103" y="62.7" width="1" height="188.3" fill="url(#k59)"/><rect x="1257" y="85.5" width="1" height="165.5" fill="url(#k89)"/><rect x="861" y="169.5" width="1" height="81.2" fill="url(#a16)"/><rect x="1266" y="113.7" width="1" height="137.0" fill="url(#a16)"/><rect x="1233" y="181.8" width="1" height="68.9" fill="url(#a16)"/><rect x="839" y="90.5" width="1" height="160.5" fill="url(#k5)"/><rect x="1126" y="159.5" width="1" height="91.2" fill="url(#a17)"/><rect x="837" y="90.5" width="1" height="160.5" fill="url(#k3)"/><rect x="1106" y="45.1" width="1" height="206.0" fill="url(#k67)"/><rect x="1102" y="190.6" width="1" height="60.1" fill="url(#a17)"/><rect x="1084" y="75.4" width="1" height="175.6" fill="url(#k53)"/><rect x="863" y="167.2" width="1" height="83.5" fill="url(#a18)"/><rect x="862" y="166.7" width="1" height="84.0" fill="url(#a18)"/><rect x="1259" y="85.5" width="1" height="165.5" fill="url(#k91)"/><rect x="1082" y="75.4" width="1" height="175.6" fill="url(#k51)"/><rect x="1103" y="189.3" width="1" height="61.4" fill="url(#a18)"/><rect x="1113" y="45.1" width="1" height="206.0" fill="url(#k75)"/><rect x="1114" y="45.1" width="1" height="206.0" fill="url(#k76)"/><rect x="1273" y="77.9" width="1" height="173.1" fill="url(#k96)"/><rect x="838" y="90.5" width="1" height="160.5" fill="url(#k4)"/><rect x="1107" y="45.1" width="1" height="206.0" fill="url(#k68)"/><rect x="1258" y="85.5" width="1" height="165.5" fill="url(#k90)"/><rect x="1083" y="75.4" width="1" height="175.6" fill="url(#k52)"/>
</g>
<text class="t" x="832.0" y="52.0" text-anchor="end">22</text>
<text class="t" x="832.0" y="68.6" text-anchor="end">20</text>
<text class="t" x="832.0" y="87.0" text-anchor="end">18</text>
<text class="t" x="832.0" y="107.6" text-anchor="end">16</text>
<text class="t" x="832.0" y="130.9" text-anchor="end">14</text>
<text class="t" x="832.0" y="157.8" text-anchor="end">12</text>
<text class="t" x="832.0" y="189.6" text-anchor="end">10</text>
<text class="t" x="832.0" y="208.0" text-anchor="end">9</text>
<text class="t" x="832.0" y="228.6" text-anchor="end">8</text>
<text class="t" x="832.0" y="251.9" text-anchor="end">7</text>
<path d="M836.7,48.40 h6 M1440,48.40 h-6 M836.7,65.04 h6 M1440,65.04 h-6 M836.7,83.43 h6 M1440,83.43 h-6 M836.7,103.99 h6 M1440,103.99 h-6 M836.7,127.30 h6 M1440,127.30 h-6 M836.7,154.21 h6 M1440,154.21 h-6 M836.7,186.04 h6 M1440,186.04 h-6 M836.7,204.43 h6 M1440,204.43 h-6 M836.7,224.99 h6 M1440,224.99 h-6 M836.7,248.30 h6 M1440,248.30 h-6 M911.94,250.5 v-6 M911.94,46 v6 M987.38,250.5 v-6 M987.38,46 v6 M1062.81,250.5 v-6 M1062.81,46 v6 M1138.25,250.5 v-6 M1138.25,46 v6 M1213.69,250.5 v-6 M1213.69,46 v6 M1289.12,250.5 v-6 M1289.12,46 v6 M1364.56,250.5 v-6 M1364.56,46 v6" stroke="#000" stroke-opacity="0.4" stroke-width="0.8" fill="none"/>
<path d="M836.7,46 V250.7" stroke="#000" stroke-opacity="0.25" stroke-width="1" fill="none"/>
<text class="t" x="836.3" y="265.1" text-anchor="middle">00:00</text>
<text class="t" x="911.7" y="265.1" text-anchor="middle">03:00</text>
<text class="t" x="987.0" y="265.1" text-anchor="middle">06:00</text>
<text class="t" x="1062.4" y="265.1" text-anchor="middle">09:00</text>
<text class="t" x="1137.7" y="265.1" text-anchor="middle">12:00</text>
<text class="t" x="1213.1" y="265.1" text-anchor="middle">15:00</text>
<text class="t" x="1288.5" y="265.1" text-anchor="middle">18:00</text>
<text class="t" x="1363.8" y="265.1" text-anchor="middle">21:00</text>
<text class="t" x="1439.2" y="265.1" text-anchor="middle">00:00</text>
<text class="b" transform="translate(809.8,148.5) rotate(-90)" text-anchor="middle">freq (mHz)</text>
<rect x="1458" y="46" width="25.6" height="204.7" fill="url(#cb)"/>
<rect x="1458.5" y="46.5" width="24.6" height="204" fill="none" stroke="#000" stroke-opacity="0.25" stroke-width="1"/>
<text class="t" x="1486.7" y="50.5">4</text>
<text class="t" x="1486.7" y="84.6">3</text>
<text class="t" x="1486.7" y="118.7">2</text>
<text class="t" x="1486.7" y="152.8">1</text>
<text class="t" x="1486.7" y="186.9">0</text>
<text class="t" x="1486.7" y="221.0">-1</text>
<text class="t" x="1486.7" y="255.1">-2</text>
<path d="M1458,80.50 h2.5 M1483.6,80.50 h-2.5 M1458,114.50 h2.5 M1483.6,114.50 h-2.5 M1458,148.50 h2.5 M1483.6,148.50 h-2.5 M1458,182.50 h2.5 M1483.6,182.50 h-2.5 M1458,216.50 h2.5 M1483.6,216.50 h-2.5" stroke="#000" stroke-opacity="0.35" stroke-width="0.8" fill="none"/>
<text class="b" transform="translate(1518.4,148.8) rotate(-90)" text-anchor="middle">log<tspan dy="6.3" font-size="10">2</tspan><tspan dy="-6.3">(nT</tspan><tspan dy="-6.3" font-size="10">2</tspan><tspan dy="6.3">/Hz)</tspan></text>
<g clip-path="url(#cl1)">
<path d="M43.5,443.7 45.0,445.9 46.5,447.1 48.0,445.9 49.5,444.0 51.0,445.7 52.5,446.7 54.0,449.0 55.5,450.5 57.0,450.2 58.5,450.7 60.0,450.4 61.5,450.3 63.0,450.9 64.5,449.0 66.0,447.5 67.5,446.8 69.0,447.5 70.5,447.2 72.0,446.9 73.5,447.9 75.0,447.7 76.5,449.1 78.0,450.3 79.5,449.7 81.0,449.4 82.5,449.2 84.0,449.5 85.5,450.1 87.0,450.5 88.5,451.3 90.0,451.2 91.5,451.1 93.0,451.0 94.5,450.6 96.0,450.5 97.5,451.3 99.0,451.4 100.5,450.7 102.0,450.7 103.5,450.6 105.0,450.9 106.5,450.9 108.0,451.3 109.5,451.3 111.0,451.3 112.5,451.5 114.0,451.9 115.5,451.9 117.0,451.8 118.5,451.7 120.0,451.6 121.5,451.8 123.0,451.6 124.5,451.7 126.0,451.7 127.5,451.5 129.0,451.4 130.5,451.9 132.0,451.6 133.5,451.9 135.0,452.0 136.5,451.7 138.0,452.1 139.5,451.7 141.0,450.2 142.5,451.1 144.0,450.4 145.5,450.7 147.0,451.2 148.5,450.2 150.0,450.5 151.5,450.6 153.0,450.9 154.5,450.5 156.0,450.8 157.5,451.6 159.0,450.8 160.5,451.4 162.0,451.3 163.5,450.9 165.0,450.8 166.5,450.9 168.0,450.3 169.5,450.8 171.0,450.8 172.5,450.4 174.0,449.8 175.5,450.4 177.0,449.7 178.5,450.6 180.0,450.7 181.5,450.4 183.0,451.1 184.5,450.6 186.0,451.0 187.5,450.4 189.0,450.7 190.5,450.9 192.0,450.6 193.5,450.3 195.0,451.0 196.5,450.9 198.0,450.7 199.5,449.8 201.0,449.5 202.5,450.0 204.0,450.3 205.5,449.6 207.0,451.4 208.5,450.8 210.0,451.0 211.5,451.2 213.0,451.0 214.5,450.8 216.0,451.2 217.5,451.5 219.0,451.2 220.5,450.9 222.0,451.3 223.5,451.3 225.0,451.7 226.5,451.5 228.0,451.1 229.5,451.7 231.0,451.4 232.5,451.7 234.0,451.4 235.5,451.2 237.0,451.2 238.5,451.2 240.0,451.2 241.5,451.4 243.0,450.9 244.5,451.3 246.0,451.1 247.5,451.2 249.0,451.0 250.5,451.4 252.0,451.3 253.5,451.0 255.0,451.6 256.5,450.9 258.0,451.3 259.5,451.2 261.0,451.0 262.5,451.1 264.0,450.6 265.5,450.6 267.0,451.6 268.5,451.6 270.0,451.2 271.5,451.2 273.0,451.6 274.5,451.5 276.0,451.8 277.5,451.4 279.0,451.3 280.5,451.6 282.0,451.2 283.5,451.8 285.0,451.6 286.5,451.7 288.0,451.4 289.5,451.3 291.0,451.1 292.5,451.0 294.0,451.4 295.5,451.2 297.0,450.7 298.5,450.8 300.0,451.0 301.5,451.0 303.0,451.1 304.5,451.2 306.0,451.3 307.5,451.0 309.0,450.9 310.5,450.2 312.0,450.9 313.5,450.6 315.0,449.6 316.5,449.1 318.0,450.2 319.5,449.7 321.0,449.3 322.5,449.5 324.0,450.2 325.5,450.6 327.0,449.9 328.5,449.9 330.0,450.6 331.5,451.3 333.0,450.9 334.5,451.0 336.0,451.1 337.5,450.7 339.0,450.3 340.5,451.4 342.0,450.5 343.5,451.4 345.0,450.9 346.5,451.0 348.0,450.8 349.5,451.2 351.0,451.1 352.5,451.5 354.0,451.0 355.5,451.7 357.0,451.1 358.5,451.4 360.0,451.4 361.5,451.3 363.0,451.5 364.5,450.9 366.0,451.6 367.5,451.2 369.0,450.9 370.5,451.3 372.0,451.3 373.5,451.3 375.0,451.6 376.5,451.1 378.0,451.3 379.5,451.1 381.0,451.6 382.5,451.3 384.0,451.1 385.5,451.2 387.0,451.3 388.5,451.7 390.0,451.7 391.5,451.0 393.0,451.0 394.5,451.2 396.0,451.1 397.5,450.8 399.0,450.9 400.5,451.0 402.0,450.6 403.5,450.6 405.0,450.6 406.5,451.2 408.0,451.0 409.5,450.6 411.0,450.8 412.5,450.7 414.0,450.9 415.5,450.8 417.0,451.5 418.5,451.6 420.0,451.6 421.5,451.7 423.0,451.8 424.5,451.2 426.0,451.7 427.5,451.7 429.0,451.4 430.5,451.6 432.0,451.4 433.5,451.6 435.0,451.3 436.5,451.3 438.0,451.1 439.5,451.3 441.0,451.4 442.5,451.7 444.0,451.2 445.5,451.3 447.0,451.4 448.5,451.3 450.0,451.2 451.5,451.8 453.0,451.7 454.5,451.4 456.0,451.4 457.5,451.6 459.0,451.3 460.5,451.5 462.0,451.2 463.5,451.3 465.0,451.1 466.5,451.4 468.0,451.0 469.5,450.3 471.0,450.3 472.5,450.8 474.0,450.5 475.5,450.7 477.0,451.0 478.5,449.3 480.0,449.7 481.5,450.3 483.0,449.2 484.5,450.0 486.0,450.1 487.5,450.1 489.0,449.5 490.5,450.1 492.0,450.7 493.5,450.3 495.0,449.9 496.5,450.0 498.0,451.2 499.5,450.7 501.0,451.4 502.5,450.9 504.0,451.5 505.5,450.5 507.0,451.6 508.5,451.4 510.0,451.4 511.5,451.3 513.0,451.5 514.5,451.5 516.0,451.8 517.5,451.4 519.0,451.0 520.5,450.9 522.0,451.2 523.5,451.5 525.0,451.7 526.5,451.1 528.0,451.3 529.5,451.4 531.0,451.7 532.5,451.5 534.0,451.6 535.5,451.4 537.0,451.7 538.5,451.5 540.0,451.4 541.5,451.3 543.0,450.9 544.5,451.6 546.0,451.5 547.5,451.5 549.0,451.0 550.5,451.4 552.0,451.6 553.5,451.6 555.0,451.4 556.5,451.4 558.0,451.3 559.5,451.5 561.0,451.1 562.5,451.7 564.0,451.5 565.5,451.8 567.0,451.8 568.5,451.4 570.0,451.5 571.5,451.3 573.0,451.5 574.5,451.8 576.0,451.3 577.5,451.3 579.0,451.4 580.5,451.6 582.0,451.6 583.5,451.9 585.0,451.6 586.5,451.7 588.0,451.6 589.5,451.6 591.0,451.6 592.5,451.9 594.0,451.7 595.5,451.9 597.0,451.4 598.5,451.4 600.0,451.5 601.5,451.7 603.0,451.4 604.5,451.5 606.0,451.6 607.5,451.4 609.0,451.7 610.5,451.5 612.0,451.6 613.5,451.7 615.0,451.4 616.5,451.8 618.0,451.8 619.5,451.8 621.0,452.0 622.5,451.9 624.0,451.8 625.5,452.1 627.0,451.6 628.5,451.5 630.0,451.6 631.5,451.4 633.0,451.9 634.5,452.0 636.0,451.6 637.5,451.7 639.0,451.5 640.5,451.9 642.0,452.2 643.5,451.9 645.0,451.9 645.0,454.0 643.5,454.0 642.0,453.9 640.5,454.0 639.0,454.0 637.5,454.5 636.0,454.3 634.5,453.8 633.0,454.1 631.5,453.9 630.0,454.4 628.5,453.8 627.0,454.1 625.5,454.2 624.0,454.0 622.5,453.8 621.0,454.1 619.5,454.3 618.0,453.9 616.5,453.9 615.0,454.3 613.5,454.6 612.0,454.0 610.5,454.3 609.0,454.0 607.5,454.1 606.0,454.5 604.5,454.1 603.0,454.0 601.5,454.5 600.0,454.0 598.5,454.3 597.0,453.9 595.5,453.8 594.0,453.8 592.5,453.9 591.0,454.2 589.5,454.3 588.0,454.3 586.5,454.2 585.0,454.3 583.5,454.3 582.0,454.4 580.5,454.1 579.0,454.5 577.5,454.1 576.0,454.1 574.5,454.1 573.0,454.3 571.5,454.2 570.0,454.0 568.5,454.5 567.0,454.2 565.5,454.4 564.0,454.0 562.5,454.1 561.0,454.4 559.5,454.2 558.0,454.3 556.5,454.5 555.0,454.3 553.5,454.4 552.0,454.7 550.5,454.7 549.0,454.2 547.5,453.9 546.0,454.3 544.5,454.6 543.0,454.5 541.5,454.6 540.0,454.0 538.5,454.4 537.0,454.5 535.5,454.1 534.0,453.9 532.5,454.4 531.0,454.1 529.5,454.6 528.0,454.5 526.5,454.6 525.0,454.5 523.5,454.5 522.0,454.6 520.5,454.5 519.0,454.8 517.5,453.9 516.0,453.9 514.5,454.2 513.0,454.7 511.5,454.5 510.0,454.9 508.5,455.0 507.0,454.3 505.5,455.2 504.0,454.4 502.5,454.9 501.0,454.7 499.5,454.7 498.0,454.7 496.5,455.4 495.0,455.3 493.5,455.9 492.0,455.8 490.5,454.9 489.0,455.2 487.5,456.5 486.0,456.4 484.5,455.2 483.0,455.8 481.5,456.2 480.0,455.5 478.5,455.5 477.0,455.7 475.5,454.7 474.0,456.2 472.5,455.0 471.0,455.1 469.5,455.3 468.0,455.0 466.5,454.5 465.0,454.6 463.5,454.3 462.0,454.7 460.5,454.5 459.0,454.4 457.5,454.1 456.0,454.6 454.5,454.3 453.0,454.3 451.5,454.3 450.0,454.1 448.5,454.1 447.0,454.3 445.5,454.4 444.0,454.3 442.5,454.5 441.0,454.1 439.5,454.5 438.0,454.2 436.5,454.2 435.0,454.2 433.5,454.3 432.0,454.4 430.5,454.2 429.0,454.8 427.5,454.4 426.0,454.5 424.5,454.2 423.0,454.1 421.5,454.6 420.0,454.1 418.5,454.6 417.0,454.2 415.5,454.4 414.0,454.4 412.5,455.1 411.0,454.9 409.5,454.5 408.0,454.8 406.5,454.7 405.0,454.8 403.5,454.6 402.0,454.9 400.5,454.4 399.0,455.0 397.5,454.7 396.0,454.9 394.5,454.7 393.0,454.7 391.5,454.3 390.0,454.3 388.5,454.0 387.0,454.1 385.5,454.7 384.0,454.1 382.5,454.0 381.0,454.1 379.5,454.5 378.0,454.6 376.5,454.3 375.0,454.4 373.5,454.3 372.0,454.5 370.5,454.3 369.0,454.7 367.5,454.6 366.0,454.7 364.5,454.5 363.0,454.7 361.5,454.7 360.0,454.4 358.5,454.5 357.0,454.6 355.5,454.6 354.0,454.8 352.5,454.4 351.0,454.8 349.5,455.2 348.0,455.2 346.5,454.5 345.0,455.1 343.5,455.1 342.0,455.4 340.5,454.4 339.0,454.5 337.5,454.6 336.0,454.9 334.5,454.9 333.0,454.3 331.5,454.8 330.0,455.3 328.5,455.8 327.0,456.0 325.5,455.8 324.0,455.6 322.5,456.7 321.0,455.7 319.5,457.2 318.0,456.7 316.5,455.8 315.0,456.3 313.5,456.1 312.0,455.0 310.5,455.3 309.0,454.9 307.5,454.5 306.0,454.8 304.5,454.8 303.0,454.4 301.5,454.3 300.0,454.8 298.5,454.8 297.0,454.5 295.5,454.9 294.0,455.1 292.5,454.4 291.0,454.9 289.5,455.0 288.0,454.4 286.5,454.2 285.0,454.6 283.5,454.0 282.0,454.6 280.5,454.6 279.0,454.5 277.5,454.2 276.0,454.1 274.5,454.6 273.0,454.6 271.5,454.2 270.0,454.0 268.5,454.5 267.0,454.4 265.5,454.5 264.0,455.0 262.5,454.9 261.0,454.6 259.5,454.3 258.0,454.7 256.5,454.6 255.0,454.6 253.5,455.1 252.0,454.8 250.5,454.3 249.0,454.9 247.5,454.2 246.0,454.8 244.5,454.8 243.0,455.1 241.5,454.4 240.0,454.4 238.5,454.6 237.0,454.4 235.5,454.1 234.0,454.2 232.5,454.4 231.0,454.4 229.5,454.6 228.0,454.6 226.5,454.3 225.0,454.8 223.5,454.4 222.0,454.3 220.5,454.7 219.0,454.8 217.5,454.8 216.0,454.6 214.5,455.2 213.0,454.5 211.5,454.4 210.0,454.4 208.5,454.9 207.0,454.5 205.5,456.1 204.0,456.1 202.5,456.1 201.0,456.1 199.5,456.1 198.0,454.9 196.5,454.7 195.0,454.6 193.5,454.7 192.0,455.0 190.5,455.1 189.0,454.9 187.5,454.9 186.0,454.8 184.5,455.5 183.0,454.7 181.5,455.6 180.0,454.8 178.5,455.1 177.0,455.4 175.5,455.5 174.0,455.3 172.5,455.9 171.0,455.9 169.5,455.9 168.0,455.5 166.5,454.4 165.0,454.9 163.5,454.4 162.0,454.9 160.5,454.9 159.0,454.5 157.5,454.8 156.0,454.9 154.5,455.0 153.0,455.1 151.5,454.6 150.0,455.4 148.5,455.5 147.0,455.2 145.5,454.5 144.0,454.8 142.5,455.1 141.0,456.0 139.5,454.2 138.0,453.9 136.5,453.9 135.0,453.8 133.5,454.0 132.0,453.8 130.5,454.1 129.0,454.1 127.5,454.1 126.0,454.2 124.5,453.9 123.0,454.4 121.5,454.3 120.0,454.3 118.5,454.1 117.0,454.2 115.5,453.8 114.0,454.1 112.5,454.0 111.0,454.6 109.5,454.1 108.0,454.2 106.5,455.0 105.0,454.6 103.5,454.7 102.0,454.9 100.5,454.9 99.0,454.9 97.5,455.1 96.0,454.8 94.5,455.4 93.0,455.0 91.5,454.7 90.0,454.3 88.5,455.0 87.0,455.6 85.5,456.2 84.0,455.9 82.5,456.6 81.0,456.4 79.5,455.7 78.0,455.9 76.5,457.0 75.0,458.5 73.5,458.6 72.0,459.2 70.5,459.5 69.0,458.9 67.5,457.9 66.0,458.7 64.5,456.9 63.0,455.3 61.5,454.8 60.0,454.9 58.5,455.7 57.0,456.0 55.5,455.3 54.0,456.8 52.5,462.5 51.0,461.5 49.5,461.8 48.0,458.4 46.5,460.3 45.0,461.3 43.5,462.4Z" fill="#0000ff"/>
<path d="M43.5,412.5v72.9M44.0,433.5v57.6M44.5,404.8v91.2M45.0,426.3v54.6M45.5,423.8v50.0M46.0,423.0v51.4M46.5,427.7v48.9M47.0,409.8v66.2M47.5,435.0v56.3M48.0,434.9v42.9M48.5,422.9v68.8M49.0,426.4v44.7M49.5,425.5v63.3M50.0,419.0v68.9M50.5,435.9v40.0M51.0,432.7v48.4M51.5,420.2v65.5M52.0,433.9v53.6M52.5,407.0v72.7M53.0,407.7v75.2M53.5,431.8v47.2M54.0,436.3v37.4M54.5,442.2v20.0M55.0,441.4v17.8M55.5,445.6v18.3M56.0,443.2v20.6M56.5,442.4v22.3M57.0,440.9v26.8M57.5,443.6v22.7M58.0,445.7v14.6M58.5,437.2v27.9M59.0,446.4v14.4M59.5,440.8v20.3M60.0,438.1v22.3M60.5,445.5v13.6M61.0,442.2v20.9M61.5,446.7v17.0M62.0,446.9v15.1M62.5,443.6v19.5M63.0,447.9v12.0M63.5,445.9v18.6M64.0,437.3v36.5M64.5,436.2v30.6M65.0,414.6v60.9M65.5,437.6v30.7M66.0,434.4v31.2M66.5,435.4v39.5M67.0,436.6v37.1M67.5,433.8v36.8M68.0,432.7v38.6M68.5,439.1v26.3M69.0,437.3v32.4M69.5,412.6v61.0M70.0,439.5v41.1M70.5,437.8v28.0M71.0,430.5v41.1M71.5,430.9v44.7M72.0,412.6v67.6M72.5,437.4v36.3M73.0,433.5v31.1M73.5,440.9v28.5M74.0,440.8v24.6M74.5,426.7v43.4M75.0,440.6v26.8M75.5,433.0v45.7M76.0,435.8v31.6M76.5,435.3v38.3M77.0,439.2v42.0M77.5,438.6v26.2M78.0,443.4v20.5M78.5,443.5v22.5M79.0,439.2v21.2M79.5,441.8v25.2M80.0,441.3v19.1M80.5,430.7v29.0M81.0,442.8v34.7M81.5,438.8v27.6M82.0,433.3v31.8M82.5,443.2v16.6M83.0,445.5v19.3M83.5,441.9v31.1M84.0,438.8v26.6M84.5,443.5v23.3M85.0,437.2v26.0M85.5,443.8v20.2M86.0,442.9v19.6M86.5,445.0v19.8M87.0,445.2v14.4M87.5,444.7v17.2M88.0,445.0v18.4M88.5,447.5v10.7M89.0,448.0v12.4M89.5,445.8v14.3M90.0,446.5v13.3M90.5,445.9v14.0M91.0,444.1v15.5M91.5,442.6v16.9M92.0,444.3v16.1M92.5,445.1v13.6M93.0,440.6v24.3M93.5,443.0v22.2M94.0,445.7v13.4M94.5,443.8v17.5M95.0,440.6v18.3M95.5,448.1v12.1M96.0,445.7v16.1M96.5,444.5v13.0M97.0,446.3v12.1M97.5,447.4v10.1M98.0,444.2v18.6M98.5,446.4v14.5M99.0,446.9v11.5M99.5,448.4v12.2M100.0,446.3v13.0M100.5,445.2v15.7M101.0,443.4v17.7M101.5,443.6v14.3M102.0,446.4v12.0M102.5,445.1v15.9M103.0,444.7v16.2M103.5,446.2v13.2M104.0,444.9v16.2M104.5,441.8v19.2M105.0,444.3v20.9M105.5,443.9v14.5M106.0,447.7v10.4M106.5,444.8v16.1M107.0,447.7v14.6M107.5,445.4v13.8M108.0,447.1v13.7M108.5,446.8v13.9M109.0,447.7v12.5M109.5,449.1v7.3M110.0,445.2v11.6M110.5,447.5v10.9M111.0,447.5v11.7M111.5,446.7v13.6M112.0,449.2v7.9M112.5,450.1v7.6M113.0,448.4v9.0M113.5,448.7v7.6M114.0,448.7v7.6M114.5,449.5v6.7M115.0,449.6v6.7M115.5,448.5v8.7M116.0,447.6v11.1M116.5,449.8v5.8M117.0,446.8v10.2M117.5,448.5v9.8M118.0,449.7v8.5M118.5,447.5v12.0M119.0,449.6v10.2M119.5,449.6v9.3M120.0,446.2v10.5M120.5,447.0v11.5M121.0,447.6v10.9M121.5,449.6v6.5M122.0,450.3v6.9M122.5,449.6v9.8M123.0,449.6v7.8M123.5,448.2v11.1M124.0,446.7v9.0M124.5,450.2v6.5M125.0,447.9v10.7M125.5,446.6v12.5M126.0,446.8v9.0M126.5,448.3v7.7M127.0,446.8v9.8M127.5,449.7v7.9M128.0,448.1v8.5M128.5,447.5v8.2M129.0,447.1v9.9M129.5,447.0v11.0M130.0,449.4v8.3M130.5,448.0v7.7M131.0,447.1v8.9M131.5,447.5v9.4M132.0,447.8v10.7M132.5,447.3v9.2M133.0,450.6v5.9M133.5,450.4v5.3M134.0,450.4v6.5M134.5,449.5v6.7M135.0,449.2v7.0M135.5,449.3v7.6M136.0,448.8v7.2M136.5,448.5v7.2M137.0,450.8v5.2M137.5,451.0v5.3M138.0,449.1v6.0M138.5,451.0v5.6M139.0,448.2v9.8M139.5,445.5v13.2M140.0,446.0v14.0M140.5,443.9v18.0M141.0,445.6v14.8M141.5,445.3v16.2M142.0,445.3v13.5M142.5,447.1v11.4M143.0,438.3v20.0M143.5,443.8v15.6M144.0,439.4v22.2M144.5,442.2v18.6M145.0,446.5v11.8M145.5,446.0v16.2M146.0,446.2v17.8M146.5,447.1v11.2M147.0,447.9v14.4M147.5,447.1v15.3M148.0,440.1v20.1M148.5,440.7v18.8M149.0,443.0v18.0M149.5,440.8v21.4M150.0,445.8v18.8M150.5,447.5v12.4M151.0,447.7v9.8M151.5,443.4v17.1M152.0,444.7v16.3M152.5,444.3v17.2M153.0,446.5v12.0M153.5,445.4v13.2M154.0,445.0v15.1M154.5,444.6v15.9M155.0,446.2v14.8M155.5,441.0v16.6M156.0,447.6v13.6M156.5,446.2v14.1M157.0,445.4v13.4M157.5,442.7v15.4M158.0,448.6v11.6M158.5,446.3v11.8M159.0,441.7v15.8M159.5,444.8v19.3M160.0,447.2v13.6M160.5,448.9v11.4M161.0,445.5v14.2M161.5,449.1v11.3M162.0,447.9v11.2M162.5,445.4v19.8M163.0,442.1v14.9M163.5,442.1v18.1M164.0,445.6v13.7M164.5,447.1v18.1M165.0,446.8v11.3M165.5,447.9v9.6M166.0,445.3v11.5M166.5,444.6v17.1M167.0,446.3v15.7M167.5,443.3v19.1M168.0,445.7v14.5M168.5,438.0v25.6M169.0,443.1v21.5M169.5,442.9v17.5M170.0,444.9v14.2M170.5,436.1v27.4M171.0,443.4v21.4M171.5,441.2v23.1M172.0,447.5v15.7M172.5,438.1v26.4M173.0,440.3v25.8M173.5,441.9v26.7M174.0,443.1v24.9M174.5,443.0v19.5M175.0,441.9v18.2M175.5,439.6v22.2M176.0,443.6v22.4M176.5,440.5v29.2M177.0,442.0v19.3M177.5,443.2v21.1M178.0,441.0v21.7M178.5,439.8v20.6M179.0,446.7v13.8M179.5,444.5v14.7M180.0,442.5v20.1M180.5,444.9v18.8M181.0,444.0v14.4M181.5,447.3v11.7M182.0,442.4v20.6M182.5,447.0v10.7M183.0,445.2v14.1M183.5,447.9v13.7M184.0,444.5v19.1M184.5,447.4v15.3M185.0,445.7v14.9M185.5,447.7v14.9M186.0,443.3v17.9M186.5,436.1v27.7M187.0,440.4v20.8M187.5,443.1v19.6M188.0,445.1v15.5M188.5,444.6v16.5M189.0,445.6v13.8M189.5,445.2v21.8M190.0,443.3v19.5M190.5,444.5v18.0M191.0,445.5v17.3M191.5,446.5v14.4M192.0,444.1v16.6M192.5,447.5v12.5M193.0,447.5v12.2M193.5,447.2v15.0M194.0,445.2v16.0M194.5,443.2v19.7M195.0,446.3v12.8M195.5,443.6v19.1M196.0,443.4v16.9M196.5,443.9v13.8M197.0,443.2v18.7M197.5,443.6v16.7M198.0,445.5v14.9M198.5,441.7v22.6M199.0,447.0v19.1M199.5,442.2v17.4M200.0,436.1v27.9M200.5,446.2v17.8M201.0,443.0v21.3M201.5,440.7v25.9M202.0,442.6v19.3M202.5,436.6v28.7M203.0,441.3v25.3M203.5,444.8v19.9M204.0,436.1v28.8M204.5,445.2v19.3M205.0,445.4v18.8M205.5,444.6v17.8M206.0,441.7v21.2M206.5,446.2v11.9M207.0,444.1v18.6M207.5,445.0v16.5M208.0,444.3v17.2M208.5,444.2v18.0M209.0,445.6v15.0M209.5,445.2v17.8M210.0,448.5v14.5M210.5,444.5v14.1M211.0,448.7v10.1M211.5,446.5v10.9M212.0,447.8v12.7M212.5,445.7v14.5M213.0,447.4v10.8M213.5,447.4v11.8M214.0,448.6v11.3M214.5,447.1v14.5M215.0,445.5v17.4M215.5,448.5v10.9M216.0,446.8v12.8M216.5,442.8v18.3M217.0,444.2v17.0M217.5,445.0v14.3M218.0,443.3v17.1M218.5,447.9v9.2M219.0,448.5v12.0M219.5,446.6v13.1M220.0,449.5v11.5M220.5,448.2v8.7M221.0,445.4v11.7M221.5,446.5v10.5M222.0,447.3v9.2M222.5,447.6v9.8M223.0,445.7v14.6M223.5,448.5v8.8M224.0,446.8v13.9M224.5,447.0v9.9M225.0,443.5v14.3M225.5,448.0v10.3M226.0,449.2v7.4M226.5,445.8v10.4M227.0,447.0v12.2M227.5,446.2v13.5M228.0,446.4v12.7M228.5,447.1v10.4M229.0,448.7v8.3M229.5,448.8v10.3M230.0,449.7v9.6M230.5,447.0v12.9M231.0,449.5v7.8M231.5,448.0v8.6M232.0,448.3v12.8M232.5,448.4v11.2M233.0,449.4v9.5M233.5,447.7v11.4M234.0,449.1v8.6M234.5,447.0v12.2M235.0,447.9v9.4M235.5,448.7v8.0M236.0,447.5v13.1M236.5,444.8v13.4M237.0,449.3v8.3M237.5,444.9v11.7M238.0,447.3v9.8M238.5,446.8v12.9M239.0,447.0v10.4M239.5,447.1v11.3M240.0,448.4v10.5M240.5,447.4v11.2M241.0,449.6v9.9M241.5,442.8v14.9M242.0,447.9v13.2M242.5,448.5v13.3M243.0,447.4v13.3M243.5,445.6v17.1M244.0,449.1v8.2M244.5,449.0v10.5M245.0,445.4v17.0M245.5,448.0v12.0M246.0,446.3v11.9M246.5,442.8v17.2M247.0,442.8v17.4M247.5,442.8v17.4M248.0,445.6v13.0M248.5,447.5v13.4M249.0,443.3v15.5M249.5,444.0v13.2M250.0,445.7v12.7M250.5,442.8v18.2M251.0,447.3v13.0M251.5,446.3v15.7M252.0,447.0v12.4M252.5,448.3v9.7M253.0,446.3v14.8M253.5,447.5v12.4M254.0,445.2v12.1M254.5,447.1v11.3M255.0,445.2v12.4M255.5,449.2v9.5M256.0,447.4v12.9M256.5,446.0v16.0M257.0,444.7v13.9M257.5,444.7v18.3M258.0,444.5v13.5M258.5,442.8v14.5M259.0,449.0v7.8M259.5,445.6v13.5M260.0,445.2v16.8M260.5,445.3v16.1M261.0,445.7v16.3M261.5,448.3v11.7M262.0,447.7v9.7M262.5,444.2v13.1M263.0,444.4v15.3M263.5,444.8v15.7M264.0,446.2v15.2M264.5,444.7v13.6M265.0,444.4v18.6M265.5,448.0v11.7M266.0,446.5v11.6M266.5,447.5v15.5M267.0,449.4v7.6M267.5,442.8v15.4M268.0,448.1v13.0M268.5,445.0v16.6M269.0,448.2v10.2M269.5,447.2v11.7M270.0,448.0v10.9M270.5,446.3v13.1M271.0,448.1v11.1M271.5,446.4v16.6M272.0,447.4v12.1M272.5,447.1v10.3M273.0,447.3v11.8M273.5,447.2v10.5M274.0,446.6v10.7M274.5,447.6v8.7M275.0,443.7v12.6M275.5,447.7v8.3M276.0,448.6v11.9M276.5,446.0v12.0M277.0,442.8v14.1M277.5,449.4v8.6M278.0,445.9v10.7M278.5,445.7v11.7M279.0,443.4v19.6M279.5,449.4v10.0M280.0,447.5v11.8M280.5,449.3v11.1M281.0,448.0v8.9M281.5,447.3v9.9M282.0,446.7v12.5M282.5,447.4v9.9M283.0,447.6v10.9M283.5,448.6v7.7M284.0,442.8v16.8M284.5,447.2v10.8M285.0,446.3v10.7M285.5,446.8v11.9M286.0,448.3v9.4M286.5,446.5v10.0M287.0,449.0v9.8M287.5,446.6v12.4M288.0,446.2v16.8M288.5,447.4v10.4M289.0,447.2v9.9M289.5,445.7v12.9M290.0,444.9v14.8M290.5,444.9v16.1M291.0,445.4v12.4M291.5,447.3v12.8M292.0,444.6v15.9M292.5,446.7v10.9M293.0,447.4v13.1M293.5,446.4v15.5M294.0,447.8v9.6M294.5,445.6v14.0M295.0,447.4v14.1M295.5,447.3v13.6M296.0,447.0v18.2M296.5,444.0v16.6M297.0,445.9v11.9M297.5,443.6v21.7M298.0,442.9v19.3M298.5,441.0v17.4M299.0,448.1v13.3M299.5,445.6v11.7M300.0,444.8v13.7M300.5,445.1v12.5M301.0,448.2v10.4M301.5,448.4v10.4M302.0,440.6v16.8M302.5,445.9v15.9M303.0,445.4v16.6M303.5,446.0v13.9M304.0,448.3v11.4M304.5,449.1v9.8M305.0,443.7v16.6M305.5,443.8v13.4M306.0,446.5v11.2M306.5,446.7v12.2M307.0,448.7v9.6M307.5,446.9v17.3M308.0,448.2v8.8M308.5,447.4v9.9M309.0,446.6v18.6M309.5,448.8v12.4M310.0,444.4v15.8M310.5,446.7v18.0M311.0,444.5v19.9M311.5,445.7v13.9M312.0,446.3v12.9M312.5,440.4v20.3M313.0,431.4v33.7M313.5,446.3v15.6M314.0,444.6v18.0M314.5,439.1v27.2M315.0,440.2v25.4M315.5,438.8v32.8M316.0,432.8v34.8M316.5,439.1v25.9M317.0,441.2v24.3M317.5,440.4v26.6M318.0,426.0v39.5M318.5,441.1v21.7M319.0,443.9v32.3M319.5,437.0v27.3M320.0,437.9v27.0M320.5,440.7v23.1M321.0,436.4v33.0M321.5,434.9v30.1M322.0,438.1v30.4M322.5,444.2v21.9M323.0,437.9v28.1M323.5,443.3v20.5M324.0,440.0v23.5M324.5,429.2v38.8M325.0,435.6v29.7M325.5,441.1v19.6M326.0,439.6v22.8M326.5,441.7v17.7M327.0,442.9v23.9M327.5,443.2v16.2M328.0,446.7v12.1M328.5,443.4v18.3M329.0,435.6v29.0M329.5,445.7v14.4M330.0,447.2v12.3M330.5,446.6v12.5M331.0,445.2v15.3M331.5,448.6v12.5M332.0,449.4v10.3M332.5,445.9v14.1M333.0,447.7v10.0M333.5,447.2v10.9M334.0,447.4v11.2M334.5,447.4v14.0M335.0,446.7v12.4M335.5,445.1v16.2M336.0,445.4v14.9M336.5,446.2v13.9M337.0,443.6v16.1M337.5,446.2v15.1M338.0,447.6v16.2M338.5,447.7v15.1M339.0,444.6v15.4M339.5,445.5v14.9M340.0,447.9v12.8M340.5,445.6v16.0M341.0,444.9v16.3M341.5,448.0v11.5M342.0,445.2v15.8M342.5,442.2v20.4M343.0,447.9v15.7M343.5,442.2v16.4M344.0,446.3v13.8M344.5,446.9v14.5M345.0,447.7v12.4M345.5,444.4v19.0M346.0,443.2v15.6M346.5,446.0v15.7M347.0,442.8v19.0M347.5,448.1v9.2M348.0,444.9v15.4M348.5,444.9v16.0M349.0,445.8v15.1M349.5,444.3v18.7M350.0,447.3v12.9M350.5,444.4v17.3M351.0,446.4v11.0M351.5,446.4v15.8M352.0,442.8v16.1M352.5,446.0v13.3M353.0,442.8v14.1M353.5,447.2v12.7M354.0,442.8v17.5M354.5,447.5v12.0M355.0,444.9v11.5M355.5,448.4v11.1M356.0,442.8v17.1M356.5,448.7v10.5M357.0,449.1v12.8M357.5,449.0v8.5M358.0,448.7v10.0M358.5,448.2v11.9M359.0,449.7v7.9M359.5,443.7v14.3M360.0,448.4v10.2M360.5,446.2v13.1M361.0,448.6v8.9M361.5,447.3v15.7M362.0,448.5v11.1M362.5,445.2v14.2M363.0,445.7v12.7M363.5,447.7v11.2M364.0,446.7v13.7M364.5,445.3v14.7M365.0,447.3v9.6M365.5,446.5v10.9M366.0,448.9v8.6M366.5,447.5v13.9M367.0,448.8v10.9M367.5,445.8v16.6M368.0,445.6v11.7M368.5,449.0v12.4M369.0,447.6v10.3M369.5,444.2v12.7M370.0,446.3v11.5M370.5,446.8v9.4M371.0,447.6v12.0M371.5,446.3v13.3M372.0,445.6v11.7M372.5,449.0v8.1M373.0,448.2v7.9M373.5,447.8v11.6M374.0,448.4v8.3M374.5,444.0v12.2M375.0,448.4v8.2M375.5,447.4v12.1M376.0,446.9v12.8M376.5,446.3v13.0M377.0,449.3v8.4M377.5,447.2v14.0M378.0,448.2v9.8M378.5,445.0v13.8M379.0,449.6v10.0M379.5,448.2v11.3M380.0,447.0v12.1M380.5,446.5v12.7M381.0,446.5v10.0M381.5,445.2v12.5M382.0,447.5v10.8M382.5,446.5v12.9M383.0,447.4v10.1M383.5,446.2v13.5M384.0,444.5v12.2M384.5,447.0v10.8M385.0,445.4v14.1M385.5,445.4v13.8M386.0,445.8v14.8M386.5,446.9v10.8M387.0,449.7v7.4M387.5,448.0v13.5M388.0,448.2v11.0M388.5,442.8v14.7M389.0,447.7v11.8M389.5,449.5v8.0M390.0,447.2v11.7M390.5,446.4v12.3M391.0,447.3v15.5M391.5,449.0v8.8M392.0,447.8v10.9M392.5,444.8v15.7M393.0,446.3v11.1M393.5,446.5v12.5M394.0,445.4v16.2M394.5,446.9v10.1M395.0,448.2v11.6M395.5,445.7v11.5M396.0,445.6v13.6M396.5,445.4v12.5M397.0,445.5v11.8M397.5,445.9v17.0M398.0,447.7v9.1M398.5,448.8v10.8M399.0,448.9v10.8M399.5,445.1v16.5M400.0,446.5v11.2M400.5,442.8v17.5M401.0,448.6v10.5M401.5,447.1v13.8M402.0,444.3v17.0M402.5,448.0v12.8M403.0,443.1v19.9M403.5,446.8v12.9M404.0,448.5v11.1M404.5,447.6v14.4M405.0,445.3v16.4M405.5,442.9v15.4M406.0,442.8v20.2M406.5,444.5v14.6M407.0,444.2v16.1M407.5,447.6v9.9M408.0,447.5v12.1M408.5,442.8v17.8M409.0,443.1v16.7M409.5,447.5v14.2M410.0,442.8v20.2M410.5,448.4v9.9M411.0,445.8v17.2M411.5,446.7v16.3M412.0,446.4v12.1M412.5,444.5v16.9M413.0,447.3v11.4M413.5,447.6v13.9M414.0,447.2v13.1M414.5,445.5v12.7M415.0,446.5v11.3M415.5,446.0v11.5M416.0,448.5v13.4M416.5,449.2v9.5M417.0,446.2v13.0M417.5,448.8v7.9M418.0,447.4v10.1M418.5,449.7v9.7M419.0,449.0v11.5M419.5,448.9v8.0M420.0,445.8v13.3M420.5,446.8v9.9M421.0,447.1v9.3M421.5,442.8v14.7M422.0,445.1v15.0M422.5,446.1v13.0M423.0,449.6v10.4M423.5,447.9v10.0M424.0,447.1v11.9M424.5,446.3v12.3M425.0,446.8v9.8M425.5,447.5v9.6M426.0,448.2v8.6M426.5,449.2v8.0M427.0,447.9v11.3M427.5,448.1v9.5M428.0,448.6v9.9M428.5,449.0v8.5M429.0,448.1v10.3M429.5,447.5v9.5M430.0,444.5v12.7M430.5,448.5v9.7M431.0,445.2v14.2M431.5,448.4v8.2M432.0,446.5v9.9M432.5,448.7v10.3M433.0,447.9v9.1M433.5,449.0v8.5M434.0,446.4v13.0M434.5,447.3v11.2M435.0,448.3v11.0M435.5,447.5v8.8M436.0,445.9v13.3M436.5,449.1v7.4M437.0,447.8v11.0M437.5,446.3v13.0M438.0,449.4v6.8M438.5,447.5v11.3M439.0,449.0v9.4M439.5,445.7v12.3M440.0,447.0v12.6M440.5,447.5v15.5M441.0,445.5v14.2M441.5,446.7v10.6M442.0,449.2v8.2M442.5,448.5v7.9M443.0,445.1v14.4M443.5,447.7v9.2M444.0,449.3v9.9M444.5,444.2v13.0M445.0,445.8v10.9M445.5,447.2v14.9M446.0,448.4v14.4M446.5,448.1v10.9M447.0,449.3v8.3M447.5,448.9v14.1M448.0,446.5v9.6M448.5,449.0v8.1M449.0,449.4v9.8M449.5,445.1v13.7M450.0,447.0v10.3M450.5,442.8v15.0M451.0,449.2v8.4M451.5,442.8v13.5M452.0,444.6v11.5M452.5,448.5v9.2M453.0,448.7v8.6M453.5,447.6v10.1M454.0,446.6v9.6M454.5,446.7v11.2M455.0,446.6v9.5M455.5,444.4v16.6M456.0,448.5v7.6M456.5,446.6v12.5M457.0,447.8v8.8M457.5,448.0v15.0M458.0,446.5v10.9M458.5,448.7v8.0M459.0,449.0v9.1M459.5,449.3v8.1M460.0,447.1v9.8M460.5,449.0v9.2M461.0,446.9v10.7M461.5,447.2v9.3M462.0,446.4v12.8M462.5,447.4v9.0M463.0,448.1v9.3M463.5,449.2v8.5M464.0,447.3v10.3M464.5,447.8v8.6M465.0,443.4v14.9M465.5,447.1v10.0M466.0,446.8v9.5M466.5,447.7v11.2M467.0,445.1v13.2M467.5,443.6v16.1M468.0,441.9v20.6M468.5,445.5v15.9M469.0,446.0v15.5M469.5,440.0v22.5M470.0,446.6v12.6M470.5,446.2v15.0M471.0,441.5v18.8M471.5,445.1v13.2M472.0,443.1v18.8M472.5,446.3v13.3M473.0,444.9v14.5M473.5,436.2v25.0M474.0,442.9v18.8M474.5,444.4v21.3M475.0,445.2v17.5M475.5,442.4v16.3M476.0,440.7v20.6M476.5,444.5v20.3M477.0,445.7v15.7M477.5,439.7v24.8M478.0,445.3v16.4M478.5,440.2v21.7M479.0,441.4v29.4M479.5,442.2v20.6M480.0,443.8v27.0M480.5,435.0v31.1M481.0,439.9v20.5M481.5,442.8v25.4M482.0,443.5v20.9M482.5,438.3v31.0M483.0,440.3v26.3M483.5,445.8v25.0M484.0,440.3v24.3M484.5,435.0v32.2M485.0,446.1v18.1M485.5,443.0v17.2M486.0,443.6v20.6M486.5,445.5v21.3M487.0,443.6v20.8M487.5,445.6v16.5M488.0,443.8v16.1M488.5,445.1v25.7M489.0,443.6v24.6M489.5,445.4v14.7M490.0,447.7v15.1M490.5,446.5v16.3M491.0,441.1v28.5M491.5,447.4v10.7M492.0,443.7v16.0M492.5,442.6v16.7M493.0,443.0v17.7M493.5,444.4v19.7M494.0,442.5v21.2M494.5,446.0v22.3M495.0,443.5v18.1M495.5,435.0v33.7M496.0,445.9v18.6M496.5,445.8v16.3M497.0,439.1v21.9M497.5,443.5v19.1M498.0,447.8v14.1M498.5,448.6v15.5M499.0,443.7v18.9M499.5,444.8v14.5M500.0,448.0v16.1M500.5,445.2v16.8M501.0,444.2v15.5M501.5,443.9v13.7M502.0,447.5v15.6M502.5,446.2v13.8M503.0,441.7v19.8M503.5,444.4v19.7M504.0,447.6v11.9M504.5,445.4v12.3M505.0,446.4v15.3M505.5,447.4v12.6M506.0,445.2v13.2M506.5,442.2v18.0M507.0,445.8v11.1M507.5,446.1v16.0M508.0,445.5v13.2M508.5,442.2v14.7M509.0,445.5v15.1M509.5,445.8v13.8M510.0,447.2v10.4M510.5,447.0v11.2M511.0,448.0v9.1M511.5,445.1v18.2M512.0,447.4v9.5M512.5,447.3v10.0M513.0,446.7v10.7M513.5,449.5v9.0M514.0,447.4v11.1M514.5,448.7v8.1M515.0,448.7v8.6M515.5,446.6v10.6M516.0,447.3v14.0M516.5,448.8v7.6M517.0,448.1v8.9M517.5,447.5v10.8M518.0,446.2v10.5M518.5,446.8v12.4M519.0,448.8v9.6M519.5,446.1v14.0M520.0,447.5v13.1M520.5,444.5v16.8M521.0,445.4v14.7M521.5,444.5v16.4M522.0,449.1v9.4M522.5,447.6v13.4M523.0,446.3v12.3M523.5,448.5v12.8M524.0,446.6v10.1M524.5,448.1v10.9M525.0,446.8v14.2M525.5,444.5v12.2M526.0,447.0v11.4M526.5,447.6v12.5M527.0,446.8v9.3M527.5,448.9v9.5M528.0,446.4v12.1M528.5,448.3v9.7M529.0,447.1v10.6M529.5,449.5v8.8M530.0,449.5v7.5M530.5,446.9v11.8M531.0,445.0v11.1M531.5,449.5v9.0M532.0,447.1v9.0M532.5,447.8v8.6M533.0,449.9v8.7M533.5,448.1v9.9M534.0,449.6v8.2M534.5,447.1v12.2M535.0,446.8v9.2M535.5,448.3v9.7M536.0,449.4v9.1M536.5,449.6v9.8M537.0,447.6v8.7M537.5,447.5v9.3M538.0,449.1v8.4M538.5,448.6v7.5M539.0,446.4v11.9M539.5,446.1v10.0M540.0,444.5v11.7M540.5,445.1v15.1M541.0,445.2v16.1M541.5,447.8v12.9M542.0,449.0v12.3M542.5,446.7v14.0M543.0,446.9v10.3M543.5,447.0v13.4M544.0,448.5v12.8M544.5,444.5v14.6M545.0,444.7v14.9M545.5,448.6v11.1M546.0,446.2v11.8M546.5,448.9v12.4M547.0,448.0v10.0M547.5,447.9v9.5M548.0,446.6v13.3M548.5,447.1v11.0M549.0,448.5v11.3M549.5,448.6v10.9M550.0,447.8v13.5M550.5,448.8v12.5M551.0,449.0v10.0M551.5,448.6v10.1M552.0,448.6v9.7M552.5,448.1v11.9M553.0,444.5v15.4M553.5,448.1v12.4M554.0,448.8v10.1M554.5,447.9v12.2M555.0,448.5v8.4M555.5,447.3v12.0M556.0,447.2v12.1M556.5,445.5v13.8M557.0,446.5v12.9M557.5,446.4v10.4M558.0,448.5v12.8M558.5,446.6v13.3M559.0,444.5v14.6M559.5,447.9v13.4M560.0,446.7v11.8M560.5,448.4v8.0M561.0,446.0v12.1M561.5,447.2v10.1M562.0,445.5v11.4M562.5,444.9v12.5M563.0,449.1v7.3M563.5,447.9v9.8M564.0,448.3v9.7M564.5,449.4v8.5M565.0,446.8v11.5M565.5,447.2v12.5M566.0,448.6v9.9M566.5,448.8v10.5M567.0,448.5v7.4M567.5,447.5v11.3M568.0,448.0v9.8M568.5,447.8v9.8M569.0,446.6v12.2M569.5,448.4v11.2M570.0,446.8v12.5M570.5,447.0v12.7M571.0,446.3v11.5M571.5,449.6v8.0M572.0,447.4v9.2M572.5,446.2v12.0M573.0,446.2v12.8M573.5,449.2v10.4M574.0,446.5v12.4M574.5,446.5v13.1M575.0,446.2v10.7M575.5,446.2v10.3M576.0,446.8v10.9M576.5,449.3v9.7M577.0,446.2v10.3M577.5,446.2v10.4M578.0,446.9v9.7M578.5,448.4v8.8M579.0,447.1v10.6M579.5,448.6v10.3M580.0,449.7v6.1M580.5,447.3v11.4M581.0,449.3v10.3M581.5,449.6v9.9M582.0,447.9v11.8M582.5,449.0v8.9M583.0,448.1v9.7M583.5,450.1v8.0M584.0,446.2v13.1M584.5,447.4v10.6M585.0,447.2v10.0M585.5,446.2v11.2M586.0,447.1v12.1M586.5,449.9v6.4M587.0,449.3v10.3M587.5,447.0v11.0M588.0,446.2v10.0M588.5,447.3v11.2M589.0,447.4v9.6M589.5,447.2v8.8M590.0,447.4v12.3M590.5,448.4v10.6M591.0,449.9v9.1M591.5,450.1v5.3M592.0,449.6v7.2M592.5,446.2v12.1M593.0,449.6v7.8M593.5,448.9v7.7M594.0,446.2v10.1M594.5,450.2v6.9M595.0,449.2v6.7M595.5,449.7v7.5M596.0,448.2v10.6M596.5,446.2v11.4M597.0,448.1v11.5M597.5,447.1v10.7M598.0,448.1v10.3M598.5,448.1v8.5M599.0,446.2v13.3M599.5,446.2v10.6M600.0,448.3v10.2M600.5,447.2v9.3M601.0,448.7v7.2M601.5,448.2v8.5M602.0,447.5v11.7M602.5,447.6v11.4M603.0,447.8v10.2M603.5,448.5v11.1M604.0,449.4v9.5M604.5,449.7v9.0M605.0,448.5v10.0M605.5,447.9v8.2M606.0,447.1v11.7M606.5,448.7v8.6M607.0,447.8v10.1M607.5,449.5v8.0M608.0,449.7v6.9M608.5,447.1v9.5M609.0,449.5v9.2M609.5,447.9v8.8M610.0,448.2v7.8M610.5,448.6v9.1M611.0,449.4v7.6M611.5,449.1v7.3M612.0,447.8v11.6M612.5,449.0v9.5M613.0,447.3v12.3M613.5,449.0v10.1M614.0,446.6v12.8M614.5,449.1v9.9M615.0,447.9v11.7M615.5,448.5v7.8M616.0,449.3v9.0M616.5,450.1v8.0M617.0,448.7v10.6M617.5,447.3v12.3M618.0,449.6v7.9M618.5,450.3v7.6M619.0,448.7v8.2M619.5,449.4v8.3M620.0,448.0v9.7M620.5,449.8v8.0M621.0,447.9v8.5M621.5,448.4v8.2M622.0,446.2v11.4M622.5,446.8v8.8M623.0,448.9v8.1M623.5,450.0v6.7M624.0,448.4v8.7M624.5,448.6v7.0M625.0,448.5v7.4M625.5,448.8v6.6M626.0,448.5v6.9M626.5,448.1v7.9M627.0,448.8v8.3M627.5,449.7v9.7M628.0,447.0v8.9M628.5,448.2v9.2M629.0,448.8v7.1M629.5,450.0v5.8M630.0,449.8v8.5M630.5,447.8v9.4M631.0,447.7v10.7M631.5,446.2v9.9M632.0,447.1v11.5M632.5,449.2v8.7M633.0,449.6v6.1M633.5,446.5v8.9M634.0,448.8v7.8M634.5,448.7v8.3M635.0,446.8v9.1M635.5,449.9v8.3M636.0,446.7v10.2M636.5,444.0v16.4M637.0,447.0v11.3M637.5,447.3v11.4M638.0,448.8v10.6M638.5,449.0v7.4M639.0,448.9v11.5M639.5,450.3v6.5M640.0,449.2v9.3M640.5,449.4v6.7M641.0,450.4v5.0M641.5,447.5v7.4M642.0,450.7v4.8M642.5,449.2v7.2M643.0,450.4v6.4M643.5,450.3v4.9M644.0,450.8v5.7M644.5,448.2v8.0M645.0,449.1v8.6M645.5,448.9v8.1" fill="none" stroke="#0000ff" stroke-width="0.75"/>
<path d="M44.5,409.9V490.9M48.0,414.9V509.9M51.0,427.9V490.9M138.0,427.9V452.9M143.4,420.9V466.9M153.4,425.9V452.9M163.4,420.9V452.9M170.4,429.9V471.9M176.6,422.9V452.9M179.4,434.9V452.9M187.6,388.9V476.9M195.0,427.9V470.9M199.4,393.9V472.9M214.6,428.9V452.9M223.0,417.9V452.9M225.6,422.9V470.9M234.4,429.9V473.9M237.4,423.9V471.9M248.0,429.9V465.9M256.4,428.9V452.9M276.6,419.9V465.9M289.6,424.9V452.9M296.6,359.9V527.9M297.0,374.9V452.9M319.0,414.9V506.9M326.6,427.9V472.9M335.6,433.9V452.9M342.0,435.9V470.9M357.0,422.9V470.9M372.0,425.9V467.9M379.0,437.9V452.9M391.0,436.9V475.9M408.4,425.9V462.9M415.4,421.9V469.9M420.6,432.9V452.9M440.6,413.9V473.9M449.6,422.9V468.9M452.4,430.9V452.9M474.0,428.9V486.9M481.0,423.9V477.9M485.6,416.9V467.9M488.4,423.9V487.9M494.4,423.9V462.9M512.6,433.9V452.9M522.4,452.9V465.9M555.0,452.9V461.9" fill="none" stroke="#0000ff" stroke-width="0.8" stroke-opacity="0.7"/>
<path d="M645.2,391.9V515.9" fill="none" stroke="#0000ff" stroke-width="1.8" stroke-opacity="0.9"/>
</g>
<rect x="43.5" y="330.5" width="602" height="204" fill="none" stroke="#a2a2a2" stroke-width="1.2"/>
<text class="t" x="39.1" y="334.1" text-anchor="end">1.5</text>
<text class="t" x="39.1" y="374.9" text-anchor="end">1</text>
<text class="t" x="39.1" y="415.7" text-anchor="end">0.5</text>
<text class="t" x="39.1" y="456.5" text-anchor="end">0</text>
<text class="t" x="39.1" y="497.3" text-anchor="end">-0.5</text>
<text class="t" x="39.1" y="538.1" text-anchor="end">-1</text>
<path d="M118.75,534.5 v-6 M118.75,330.5 v6 M194.00,534.5 v-6 M194.00,330.5 v6 M269.25,534.5 v-6 M269.25,330.5 v6 M344.50,534.5 v-6 M344.50,330.5 v6 M419.75,534.5 v-6 M419.75,330.5 v6 M495.00,534.5 v-6 M495.00,330.5 v6 M570.25,534.5 v-6 M570.25,330.5 v6 M43.5,371.30 h6 M645.5,371.30 h-6 M43.5,412.10 h6 M645.5,412.10 h-6 M43.5,452.90 h6 M645.5,452.90 h-6 M43.5,493.70 h6 M645.5,493.70 h-6" stroke="#777" stroke-width="0.9" fill="none"/>
<text class="t" x="42.9" y="549.1" text-anchor="middle">00:00</text>
<text class="t" x="118.2" y="549.1" text-anchor="middle">03:00</text>
<text class="t" x="193.6" y="549.1" text-anchor="middle">06:00</text>
<text class="t" x="268.9" y="549.1" text-anchor="middle">09:00</text>
<text class="t" x="344.3" y="549.1" text-anchor="middle">12:00</text>
<text class="t" x="419.6" y="549.1" text-anchor="middle">15:00</text>
<text class="t" x="494.9" y="549.1" text-anchor="middle">18:00</text>
<text class="t" x="570.3" y="549.1" text-anchor="middle">21:00</text>
<text class="t" x="645.6" y="549.1" text-anchor="middle">00:00</text>
<text class="b" transform="translate(9.3,432.5) rotate(-90)" text-anchor="middle">Y (nT)</text>
<rect x="836.2" y="330" width="603.8" height="204.7" fill="#00008f"/>
<g clip-path="url(#cr1)">
<rect x="1024" y="503.2" width="1" height="31.5" fill="url(#a1)"/><rect x="871" y="504.0" width="1" height="30.7" fill="url(#a1)"/><rect x="911" y="514.9" width="1" height="19.8" fill="url(#a1)"/><rect x="1303" y="488.5" width="1" height="46.2" fill="url(#a1)"/><rect x="971" y="505.2" width="1" height="29.5" fill="url(#a1)"/><rect x="939" y="506.1" width="1" height="28.6" fill="url(#a1)"/><rect x="966" y="504.5" width="1" height="30.2" fill="url(#a1)"/><rect x="832" y="346.7" width="1" height="188.3" fill="url(#k106)"/><rect x="1335" y="503.7" width="1" height="31.0" fill="url(#a1)"/><rect x="1000" y="513.5" width="1" height="21.2" fill="url(#a1)"/><rect x="1002" y="474.6" width="1" height="60.1" fill="url(#a1)"/><rect x="934" y="476.6" width="1" height="58.1" fill="url(#a1)"/><rect x="1335" y="523.8" width="1" height="10.9" fill="url(#a1)"/><rect x="1189" y="510.6" width="1" height="24.1" fill="url(#a1)"/><rect x="915" y="518.1" width="1" height="16.6" fill="url(#a1)"/><rect x="1035" y="488.0" width="1" height="46.7" fill="url(#a2)"/><rect x="1179" y="512.8" width="1" height="21.9" fill="url(#a2)"/><rect x="1025" y="329.1" width="1" height="206.0" fill="url(#k132)"/><rect x="1194" y="329.1" width="1" height="206.0" fill="url(#k144)"/><rect x="1143" y="503.9" width="1" height="30.8" fill="url(#a2)"/><rect x="1113" y="359.4" width="1" height="175.6" fill="url(#k139)"/><rect x="1270" y="379.6" width="1" height="155.4" fill="url(#k156)"/><rect x="1039" y="483.4" width="1" height="51.3" fill="url(#a2)"/><rect x="1127" y="444.8" width="1" height="89.9" fill="url(#a2)"/><rect x="844" y="346.7" width="1" height="188.3" fill="url(#k118)"/><rect x="1097" y="483.8" width="1" height="50.9" fill="url(#a2)"/><rect x="1226" y="329.1" width="1" height="206.0" fill="url(#k146)"/><rect x="953" y="508.0" width="1" height="26.7" fill="url(#a2)"/><rect x="891" y="480.9" width="1" height="53.8" fill="url(#a2)"/><rect x="1262" y="392.2" width="1" height="142.8" fill="url(#k155)"/><rect x="847" y="436.4" width="1" height="98.3" fill="url(#a2)"/><rect x="918" y="514.1" width="1" height="20.6" fill="url(#a2)"/><rect x="1087" y="479.1" width="1" height="55.6" fill="url(#a2)"/><rect x="1066" y="404.1" width="1" height="130.6" fill="url(#a2)"/><rect x="1307" y="466.3" width="1" height="68.4" fill="url(#a2)"/><rect x="1285" y="495.4" width="1" height="39.3" fill="url(#a2)"/><rect x="849" y="497.3" width="1" height="37.4" fill="url(#a2)"/><rect x="1176" y="508.5" width="1" height="26.2" fill="url(#a2)"/><rect x="847" y="516.7" width="1" height="18.0" fill="url(#a2)"/><rect x="858" y="497.0" width="1" height="37.7" fill="url(#a2)"/><rect x="937" y="455.9" width="1" height="78.8" fill="url(#a3)"/><rect x="1105" y="330.3" width="1" height="204.7" fill="url(#k134)"/><rect x="1220" y="475.4" width="1" height="59.3" fill="url(#a3)"/><rect x="1064" y="391.3" width="1" height="143.4" fill="url(#a3)"/><rect x="908" y="501.8" width="1" height="32.9" fill="url(#a3)"/><rect x="1222" y="473.4" width="1" height="61.3" fill="url(#a3)"/><rect x="1264" y="468.7" width="1" height="66.0" fill="url(#a3)"/><rect x="1304" y="458.3" width="1" height="76.4" fill="url(#a3)"/><rect x="1020" y="477.5" width="1" height="57.2" fill="url(#a3)"/><rect x="889" y="498.0" width="1" height="36.7" fill="url(#a3)"/><rect x="864" y="419.3" width="1" height="115.4" fill="url(#a3)"/><rect x="1185" y="499.2" width="1" height="35.5" fill="url(#a3)"/><rect x="1289" y="489.5" width="1" height="45.2" fill="url(#a3)"/><rect x="981" y="487.9" width="1" height="46.8" fill="url(#a3)"/><rect x="916" y="510.2" width="1" height="24.5" fill="url(#a3)"/><rect x="910" y="499.9" width="1" height="34.8" fill="url(#a3)"/><rect x="1023" y="475.3" width="1" height="59.4" fill="url(#a3)"/><rect x="1117" y="359.4" width="1" height="175.6" fill="url(#k143)"/><rect x="1036" y="468.0" width="1" height="66.7" fill="url(#a3)"/><rect x="894" y="468.7" width="1" height="66.0" fill="url(#a3)"/><rect x="880" y="488.0" width="1" height="46.7" fill="url(#a3)"/><rect x="1005" y="438.3" width="1" height="96.4" fill="url(#a3)"/><rect x="1338" y="482.4" width="1" height="52.3" fill="url(#a3)"/><rect x="1038" y="466.1" width="1" height="68.6" fill="url(#a4)"/><rect x="872" y="487.3" width="1" height="47.4" fill="url(#a4)"/><rect x="868" y="496.2" width="1" height="38.5" fill="url(#a4)"/><rect x="1178" y="502.9" width="1" height="31.8" fill="url(#a4)"/><rect x="917" y="508.9" width="1" height="25.8" fill="url(#a4)"/><rect x="1065" y="370.2" width="1" height="164.5" fill="url(#a4)"/><rect x="1221" y="465.6" width="1" height="69.1" fill="url(#a4)"/><rect x="1306" y="449.3" width="1" height="85.4" fill="url(#a4)"/><rect x="1139" y="489.7" width="1" height="45.0" fill="url(#a4)"/><rect x="1275" y="470.9" width="1" height="63.8" fill="url(#a4)"/><rect x="1336" y="479.6" width="1" height="55.1" fill="url(#a4)"/><rect x="963" y="478.6" width="1" height="56.1" fill="url(#a4)"/><rect x="948" y="499.0" width="1" height="35.7" fill="url(#a4)"/><rect x="1003" y="431.5" width="1" height="103.2" fill="url(#a4)"/><rect x="1279" y="470.1" width="1" height="64.6" fill="url(#a4)"/><rect x="1332" y="516.8" width="1" height="17.9" fill="url(#a4)"/><rect x="884" y="495.2" width="1" height="39.5" fill="url(#a4)"/><rect x="862" y="405.8" width="1" height="128.9" fill="url(#a4)"/><rect x="1177" y="501.5" width="1" height="33.2" fill="url(#a4)"/><rect x="1305" y="446.4" width="1" height="88.3" fill="url(#a4)"/><rect x="1188" y="495.0" width="1" height="39.7" fill="url(#a4)"/><rect x="909" y="495.9" width="1" height="38.8" fill="url(#a4)"/><rect x="1037" y="460.6" width="1" height="74.1" fill="url(#a4)"/><rect x="1268" y="456.6" width="1" height="78.1" fill="url(#a4)"/><rect x="996" y="495.6" width="1" height="39.1" fill="url(#a4)"/><rect x="1081" y="467.0" width="1" height="67.7" fill="url(#a4)"/><rect x="1111" y="496.3" width="1" height="38.4" fill="url(#a4)"/><rect x="1276" y="379.6" width="1" height="155.4" fill="url(#k162)"/><rect x="990" y="483.0" width="1" height="51.7" fill="url(#a5)"/><rect x="1334" y="515.7" width="1" height="19.0" fill="url(#a5)"/><rect x="1130" y="402.6" width="1" height="132.1" fill="url(#a5)"/><rect x="1256" y="392.2" width="1" height="142.8" fill="url(#k149)"/><rect x="999" y="494.2" width="1" height="40.5" fill="url(#a5)"/><rect x="1109" y="330.3" width="1" height="204.7" fill="url(#k138)"/><rect x="868" y="481.9" width="1" height="52.8" fill="url(#a5)"/><rect x="1146" y="435.0" width="1" height="99.7" fill="url(#a5)"/><rect x="1102" y="460.3" width="1" height="74.4" fill="url(#a5)"/><rect x="1021" y="465.3" width="1" height="69.4" fill="url(#a5)"/><rect x="1143" y="433.5" width="1" height="101.2" fill="url(#a5)"/><rect x="1022" y="464.5" width="1" height="70.2" fill="url(#a5)"/><rect x="959" y="472.7" width="1" height="62.0" fill="url(#a5)"/><rect x="935" y="428.6" width="1" height="106.1" fill="url(#a5)"/><rect x="1004" y="420.4" width="1" height="114.3" fill="url(#a5)"/><rect x="1142" y="484.1" width="1" height="50.6" fill="url(#a5)"/><rect x="1337" y="473.2" width="1" height="61.5" fill="url(#a5)"/><rect x="892" y="455.7" width="1" height="79.0" fill="url(#a5)"/><rect x="970" y="472.4" width="1" height="62.3" fill="url(#a5)"/><rect x="967" y="472.2" width="1" height="62.5" fill="url(#a5)"/><rect x="1186" y="490.4" width="1" height="44.3" fill="url(#a5)"/><rect x="863" y="388.0" width="1" height="146.7" fill="url(#a5)"/><rect x="858" y="491.4" width="1" height="43.3" fill="url(#a5)"/><rect x="844" y="387.3" width="1" height="147.4" fill="url(#a5)"/><rect x="1286" y="477.5" width="1" height="57.2" fill="url(#a5)"/><rect x="936" y="423.1" width="1" height="111.6" fill="url(#a5)"/><rect x="933" y="486.7" width="1" height="48.0" fill="url(#a6)"/><rect x="893" y="451.8" width="1" height="82.9" fill="url(#a6)"/><rect x="1187" y="488.8" width="1" height="45.9" fill="url(#a6)"/><rect x="1128" y="388.7" width="1" height="146.0" fill="url(#a6)"/><rect x="1333" y="513.6" width="1" height="21.1" fill="url(#a6)"/><rect x="872" y="479.8" width="1" height="54.9" fill="url(#a6)"/><rect x="833" y="346.7" width="1" height="188.3" fill="url(#k107)"/><rect x="850" y="485.6" width="1" height="49.1" fill="url(#a6)"/><rect x="888" y="490.2" width="1" height="44.5" fill="url(#a6)"/><rect x="1288" y="475.1" width="1" height="59.6" fill="url(#a6)"/><rect x="857" y="485.4" width="1" height="49.3" fill="url(#a6)"/><rect x="1235" y="329.1" width="1" height="206.0" fill="url(#k147)"/><rect x="1235" y="329.1" width="1" height="197.1" fill="url(#k148)"/><rect x="952" y="490.5" width="1" height="44.2" fill="url(#a6)"/><rect x="1140" y="478.4" width="1" height="56.3" fill="url(#a6)"/><rect x="1104" y="491.6" width="1" height="43.1" fill="url(#a6)"/><rect x="997" y="487.3" width="1" height="47.4" fill="url(#a7)"/><rect x="885" y="488.9" width="1" height="45.8" fill="url(#a7)"/><rect x="1428" y="329.1" width="1" height="206.0" fill="url(#k165)"/><rect x="846" y="373.1" width="1" height="161.6" fill="url(#a7)"/><rect x="982" y="476.6" width="1" height="58.1" fill="url(#a7)"/><rect x="843" y="346.7" width="1" height="188.3" fill="url(#k117)"/><rect x="998" y="486.8" width="1" height="47.9" fill="url(#a7)"/><rect x="1202" y="329.1" width="1" height="206.0" fill="url(#k145)"/><rect x="1098" y="446.3" width="1" height="88.4" fill="url(#a7)"/><rect x="1141" y="476.3" width="1" height="58.4" fill="url(#a7)"/><rect x="1129" y="375.6" width="1" height="159.1" fill="url(#a7)"/><rect x="1265" y="437.4" width="1" height="97.3" fill="url(#a7)"/><rect x="1287" y="470.7" width="1" height="64.0" fill="url(#a7)"/><rect x="938" y="483.0" width="1" height="51.7" fill="url(#a7)"/><rect x="1011" y="460.5" width="1" height="74.6" fill="url(#k131)"/><rect x="1116" y="359.4" width="1" height="175.6" fill="url(#k142)"/><rect x="1114" y="359.4" width="1" height="175.6" fill="url(#k140)"/><rect x="949" y="486.6" width="1" height="48.1" fill="url(#a8)"/><rect x="989" y="473.9" width="1" height="60.8" fill="url(#a8)"/><rect x="1267" y="432.4" width="1" height="102.3" fill="url(#a8)"/><rect x="969" y="460.0" width="1" height="74.7" fill="url(#a8)"/><rect x="968" y="459.9" width="1" height="74.8" fill="url(#a8)"/><rect x="887" y="486.6" width="1" height="48.1" fill="url(#a8)"/><rect x="839" y="407.4" width="1" height="127.6" fill="url(#k119)"/><rect x="1271" y="379.6" width="1" height="155.4" fill="url(#k157)"/><rect x="1086" y="453.3" width="1" height="81.4" fill="url(#a8)"/><rect x="879" y="474.3" width="1" height="60.4" fill="url(#a8)"/><rect x="1276" y="446.4" width="1" height="88.3" fill="url(#a8)"/><rect x="1278" y="446.1" width="1" height="88.6" fill="url(#a8)"/><rect x="843" y="407.4" width="1" height="127.6" fill="url(#k123)"/><rect x="886" y="486.1" width="1" height="48.6" fill="url(#a8)"/><rect x="845" y="357.9" width="1" height="176.8" fill="url(#a8)"/><rect x="1261" y="392.2" width="1" height="142.8" fill="url(#k154)"/><rect x="962" y="454.4" width="1" height="80.3" fill="url(#a9)"/><rect x="1101" y="436.2" width="1" height="98.5" fill="url(#a9)"/><rect x="851" y="479.3" width="1" height="55.4" fill="url(#a9)"/><rect x="856" y="479.3" width="1" height="55.4" fill="url(#a9)"/><rect x="1266" y="425.4" width="1" height="109.3" fill="url(#a9)"/><rect x="1145" y="400.2" width="1" height="134.5" fill="url(#a9)"/><rect x="951" y="482.7" width="1" height="52.0" fill="url(#a9)"/><rect x="1144" y="399.7" width="1" height="135.0" fill="url(#a9)"/><rect x="978" y="329.1" width="1" height="206.0" fill="url(#k129)"/><rect x="1085" y="329.1" width="1" height="206.0" fill="url(#k133)"/><rect x="960" y="452.0" width="1" height="82.7" fill="url(#a9)"/><rect x="1115" y="359.4" width="1" height="175.6" fill="url(#k141)"/><rect x="983" y="470.1" width="1" height="64.6" fill="url(#a9)"/><rect x="1082" y="448.8" width="1" height="85.9" fill="url(#a9)"/><rect x="867" y="483.4" width="1" height="51.3" fill="url(#a9)"/><rect x="950" y="481.1" width="1" height="53.6" fill="url(#a10)"/><rect x="1277" y="437.7" width="1" height="97.0" fill="url(#a10)"/><rect x="873" y="470.2" width="1" height="64.5" fill="url(#a10)"/><rect x="871" y="459.9" width="1" height="74.8" fill="url(#a10)"/><rect x="834" y="346.7" width="1" height="188.3" fill="url(#k108)"/><rect x="1099" y="429.7" width="1" height="105.0" fill="url(#a10)"/><rect x="1110" y="485.1" width="1" height="49.6" fill="url(#a10)"/><rect x="988" y="468.4" width="1" height="66.3" fill="url(#a10)"/><rect x="1275" y="379.6" width="1" height="155.4" fill="url(#k161)"/><rect x="869" y="457.9" width="1" height="76.8" fill="url(#a11)"/><rect x="1426" y="329.1" width="1" height="206.0" fill="url(#k163)"/><rect x="934" y="476.5" width="1" height="58.2" fill="url(#a11)"/><rect x="842" y="346.7" width="1" height="188.3" fill="url(#k116)"/><rect x="1100" y="425.7" width="1" height="109.0" fill="url(#a11)"/><rect x="859" y="481.1" width="1" height="53.6" fill="url(#a11)"/><rect x="961" y="445.4" width="1" height="89.3" fill="url(#a11)"/><rect x="852" y="475.5" width="1" height="59.2" fill="url(#a11)"/><rect x="855" y="475.5" width="1" height="59.2" fill="url(#a11)"/><rect x="843" y="498.9" width="1" height="35.8" fill="url(#a11)"/><rect x="1257" y="392.2" width="1" height="142.8" fill="url(#k150)"/><rect x="878" y="467.1" width="1" height="67.6" fill="url(#a12)"/><rect x="984" y="466.0" width="1" height="68.7" fill="url(#a12)"/><rect x="937" y="474.7" width="1" height="60.0" fill="url(#a12)"/><rect x="1105" y="482.9" width="1" height="51.8" fill="url(#a12)"/><rect x="1085" y="442.5" width="1" height="92.2" fill="url(#a12)"/><rect x="987" y="465.0" width="1" height="69.7" fill="url(#a12)"/><rect x="853" y="473.5" width="1" height="61.2" fill="url(#a12)"/><rect x="854" y="473.5" width="1" height="61.2" fill="url(#a12)"/><rect x="1106" y="330.3" width="1" height="204.7" fill="url(#k135)"/><rect x="1083" y="440.3" width="1" height="94.4" fill="url(#a13)"/><rect x="870" y="450.4" width="1" height="84.3" fill="url(#a13)"/><rect x="985" y="463.6" width="1" height="71.1" fill="url(#a13)"/><rect x="874" y="464.6" width="1" height="70.1" fill="url(#a13)"/><rect x="986" y="463.2" width="1" height="71.5" fill="url(#a13)"/><rect x="835" y="346.7" width="1" height="188.3" fill="url(#k109)"/><rect x="1108" y="330.3" width="1" height="204.7" fill="url(#k137)"/><rect x="935" y="471.7" width="1" height="63.0" fill="url(#a14)"/><rect x="841" y="346.7" width="1" height="188.3" fill="url(#k115)"/><rect x="1084" y="437.9" width="1" height="96.8" fill="url(#a14)"/><rect x="989" y="329.1" width="1" height="206.0" fill="url(#k130)"/><rect x="877" y="462.7" width="1" height="72.0" fill="url(#a14)"/><rect x="936" y="471.0" width="1" height="63.7" fill="url(#a14)"/><rect x="1272" y="379.6" width="1" height="155.4" fill="url(#k158)"/><rect x="866" y="476.5" width="1" height="58.2" fill="url(#a14)"/><rect x="1260" y="392.2" width="1" height="142.8" fill="url(#k153)"/><rect x="846" y="494.2" width="1" height="40.5" fill="url(#a15)"/><rect x="1109" y="479.4" width="1" height="55.3" fill="url(#a15)"/><rect x="875" y="461.4" width="1" height="73.3" fill="url(#a15)"/><rect x="860" y="475.1" width="1" height="59.6" fill="url(#a16)"/><rect x="876" y="460.6" width="1" height="74.1" fill="url(#a16)"/><rect x="1106" y="478.2" width="1" height="56.5" fill="url(#a16)"/><rect x="1274" y="379.6" width="1" height="155.4" fill="url(#k160)"/><rect x="836" y="346.7" width="1" height="188.3" fill="url(#k110)"/><rect x="1258" y="392.2" width="1" height="142.8" fill="url(#k151)"/><rect x="840" y="346.7" width="1" height="188.3" fill="url(#k114)"/><rect x="1107" y="330.3" width="1" height="204.7" fill="url(#k136)"/><rect x="1108" y="476.4" width="1" height="58.3" fill="url(#a17)"/><rect x="1427" y="329.1" width="1" height="206.0" fill="url(#k164)"/><rect x="1107" y="475.9" width="1" height="58.8" fill="url(#a18)"/><rect x="1273" y="379.6" width="1" height="155.4" fill="url(#k159)"/><rect x="1259" y="392.2" width="1" height="142.8" fill="url(#k152)"/><rect x="837" y="346.7" width="1" height="188.3" fill="url(#k111)"/><rect x="865" y="472.1" width="1" height="62.6" fill="url(#a18)"/><rect x="839" y="346.7" width="1" height="188.3" fill="url(#k113)"/><rect x="838" y="346.7" width="1" height="188.3" fill="url(#k112)"/><rect x="861" y="471.2" width="1" height="63.5" fill="url(#a19)"/><rect x="844" y="488.1" width="1" height="46.6" fill="url(#a20)"/><rect x="842" y="407.4" width="1" height="127.6" fill="url(#k122)"/><rect x="840" y="407.4" width="1" height="127.6" fill="url(#k120)"/><rect x="864" y="469.4" width="1" height="65.3" fill="url(#a21)"/><rect x="841" y="407.4" width="1" height="127.6" fill="url(#k121)"/><rect x="845" y="486.5" width="1" height="48.2" fill="url(#a21)"/><rect x="862" y="468.9" width="1" height="65.8" fill="url(#a22)"/><rect x="863" y="468.1" width="1" height="66.6" fill="url(#a23)"/>
</g>
<text class="t" x="832.0" y="336.0" text-anchor="end">22</text>
<text class="t" x="832.0" y="352.6" text-anchor="end">20</text>
<text class="t" x="832.0" y="371.0" text-anchor="end">18</text>
<text class="t" x="832.0" y="391.6" text-anchor="end">16</text>
<text class="t" x="832.0" y="414.9" text-anchor="end">14</text>
<text class="t" x="832.0" y="441.8" text-anchor="end">12</text>
<text class="t" x="832.0" y="473.6" text-anchor="end">10</text>
<text class="t" x="832.0" y="492.0" text-anchor="end">9</text>
<text class="t" x="832.0" y="512.6" text-anchor="end">8</text>
<text class="t" x="832.0" y="535.9" text-anchor="end">7</text>
<path d="M836.7,332.40 h6 M1440,332.40 h-6 M836.7,349.04 h6 M1440,349.04 h-6 M836.7,367.43 h6 M1440,367.43 h-6 M836.7,387.99 h6 M1440,387.99 h-6 M836.7,411.30 h6 M1440,411.30 h-6 M836.7,438.21 h6 M1440,438.21 h-6 M836.7,470.04 h6 M1440,470.04 h-6 M836.7,488.43 h6 M1440,488.43 h-6 M836.7,508.99 h6 M1440,508.99 h-6 M836.7,532.30 h6 M1440,532.30 h-6 M911.94,534.5 v-6 M911.94,330 v6 M987.38,534.5 v-6 M987.38,330 v6 M1062.81,534.5 v-6 M1062.81,330 v6 M1138.25,534.5 v-6 M1138.25,330 v6 M1213.69,534.5 v-6 M1213.69,330 v6 M1289.12,534.5 v-6 M1289.12,330 v6 M1364.56,534.5 v-6 M1364.56,330 v6" stroke="#000" stroke-opacity="0.4" stroke-width="0.8" fill="none"/>
<path d="M836.7,330 V534.7" stroke="#000" stroke-opacity="0.25" stroke-width="1" fill="none"/>
<text class="t" x="836.3" y="549.1" text-anchor="middle">00:00</text>
<text class="t" x="911.7" y="549.1" text-anchor="middle">03:00</text>
<text class="t" x="987.0" y="549.1" text-anchor="middle">06:00</text>
<text class="t" x="1062.4" y="549.1" text-anchor="middle">09:00</text>
<text class="t" x="1137.7" y="549.1" text-anchor="middle">12:00</text>
<text class="t" x="1213.1" y="549.1" text-anchor="middle">15:00</text>
<text class="t" x="1288.5" y="549.1" text-anchor="middle">18:00</text>
<text class="t" x="1363.8" y="549.1" text-anchor="middle">21:00</text>
<text class="t" x="1439.2" y="549.1" text-anchor="middle">00:00</text>
<text class="b" transform="translate(809.8,432.5) rotate(-90)" text-anchor="middle">freq (mHz)</text>
<rect x="1458" y="330" width="25.6" height="204.7" fill="url(#cb)"/>
<rect x="1458.5" y="330.5" width="24.6" height="204" fill="none" stroke="#000" stroke-opacity="0.25" stroke-width="1"/>
<text class="t" x="1486.7" y="334.5">4</text>
<text class="t" x="1486.7" y="368.6">3</text>
<text class="t" x="1486.7" y="402.7">2</text>
<text class="t" x="1486.7" y="436.8">1</text>
<text class="t" x="1486.7" y="470.9">0</text>
<text class="t" x="1486.7" y="505.0">-1</text>
<text class="t" x="1486.7" y="539.1">-2</text>
<path d="M1458,364.50 h2.5 M1483.6,364.50 h-2.5 M1458,398.50 h2.5 M1483.6,398.50 h-2.5 M1458,432.50 h2.5 M1483.6,432.50 h-2.5 M1458,466.50 h2.5 M1483.6,466.50 h-2.5 M1458,500.50 h2.5 M1483.6,500.50 h-2.5" stroke="#000" stroke-opacity="0.35" stroke-width="0.8" fill="none"/>
<text class="b" transform="translate(1518.4,432.8) rotate(-90)" text-anchor="middle">log<tspan dy="6.3" font-size="10">2</tspan><tspan dy="-6.3">(nT</tspan><tspan dy="-6.3" font-size="10">2</tspan><tspan dy="6.3">/Hz)</tspan></text>
<g clip-path="url(#cl2)">
<path d="M43.5,695.9 45.0,697.1 46.5,697.6 48.0,697.3 49.5,697.1 51.0,695.5 52.5,697.4 54.0,698.3 55.5,700.0 57.0,700.2 58.5,699.7 60.0,699.5 61.5,699.8 63.0,699.7 64.5,700.0 66.0,698.7 67.5,697.9 69.0,698.0 70.5,698.5 72.0,697.3 73.5,696.5 75.0,698.8 76.5,698.9 78.0,698.8 79.5,698.3 81.0,698.7 82.5,698.9 84.0,699.2 85.5,699.1 87.0,698.8 88.5,700.0 90.0,700.6 91.5,700.6 93.0,700.2 94.5,700.3 96.0,699.9 97.5,700.2 99.0,700.4 100.5,700.5 102.0,700.3 103.5,700.4 105.0,700.2 106.5,700.3 108.0,700.2 109.5,700.4 111.0,700.1 112.5,700.3 114.0,700.5 115.5,700.1 117.0,700.6 118.5,700.2 120.0,700.3 121.5,700.3 123.0,700.0 124.5,700.4 126.0,700.3 127.5,700.1 129.0,700.5 130.5,700.2 132.0,700.5 133.5,700.3 135.0,700.4 136.5,699.9 138.0,699.5 139.5,699.9 141.0,700.2 142.5,699.8 144.0,699.8 145.5,699.6 147.0,699.7 148.5,699.5 150.0,699.5 151.5,699.4 153.0,699.6 154.5,699.4 156.0,699.5 157.5,698.9 159.0,699.0 160.5,699.4 162.0,699.8 163.5,699.3 165.0,699.3 166.5,699.9 168.0,699.9 169.5,699.7 171.0,700.0 172.5,700.1 174.0,699.7 175.5,700.0 177.0,699.7 178.5,700.0 180.0,699.6 181.5,698.8 183.0,699.7 184.5,698.7 186.0,699.2 187.5,699.8 189.0,699.5 190.5,698.6 192.0,699.3 193.5,699.4 195.0,698.3 196.5,698.8 198.0,699.0 199.5,699.5 201.0,698.9 202.5,698.9 204.0,699.4 205.5,699.4 207.0,699.3 208.5,698.9 210.0,698.0 211.5,699.3 213.0,698.5 214.5,699.3 216.0,699.2 217.5,699.2 219.0,698.8 220.5,698.2 222.0,697.9 223.5,698.2 225.0,698.1 226.5,698.3 228.0,697.5 229.5,697.2 231.0,697.7 232.5,698.1 234.0,697.0 235.5,698.2 237.0,698.3 238.5,698.7 240.0,698.1 241.5,698.1 243.0,696.8 244.5,696.0 246.0,695.7 247.5,696.3 249.0,696.9 250.5,695.7 252.0,695.2 253.5,696.1 255.0,696.2 256.5,696.3 258.0,697.5 259.5,697.3 261.0,695.7 262.5,696.4 264.0,695.3 265.5,695.8 267.0,695.1 268.5,697.6 270.0,697.0 271.5,696.4 273.0,695.0 274.5,697.0 276.0,695.7 277.5,695.0 279.0,696.6 280.5,696.9 282.0,697.7 283.5,697.4 285.0,696.9 286.5,696.5 288.0,697.1 289.5,695.5 291.0,697.2 292.5,697.0 294.0,697.1 295.5,695.1 297.0,695.7 298.5,695.5 300.0,696.4 301.5,694.1 303.0,695.5 304.5,693.7 306.0,694.8 307.5,694.5 309.0,694.7 310.5,695.3 312.0,695.1 313.5,696.4 315.0,696.4 316.5,694.4 318.0,696.9 319.5,694.1 321.0,694.0 322.5,694.3 324.0,696.3 325.5,697.3 327.0,698.5 328.5,698.6 330.0,697.4 331.5,698.1 333.0,698.5 334.5,697.8 336.0,698.0 337.5,698.5 339.0,698.6 340.5,697.5 342.0,698.8 343.5,698.1 345.0,698.6 346.5,698.0 348.0,697.9 349.5,697.9 351.0,697.9 352.5,697.8 354.0,698.5 355.5,698.5 357.0,697.5 358.5,698.0 360.0,698.5 361.5,698.7 363.0,699.2 364.5,699.5 366.0,699.3 367.5,699.4 369.0,698.8 370.5,697.5 372.0,698.4 373.5,698.0 375.0,699.2 376.5,698.4 378.0,697.5 379.5,697.8 381.0,698.5 382.5,697.4 384.0,698.4 385.5,698.6 387.0,697.9 388.5,698.7 390.0,697.9 391.5,697.8 393.0,698.2 394.5,698.4 396.0,698.7 397.5,698.6 399.0,699.3 400.5,699.1 402.0,699.4 403.5,699.5 405.0,698.7 406.5,699.4 408.0,699.0 409.5,698.4 411.0,698.4 412.5,699.0 414.0,697.6 415.5,699.3 417.0,699.0 418.5,698.7 420.0,698.7 421.5,698.6 423.0,698.7 424.5,697.8 426.0,698.2 427.5,698.9 429.0,699.1 430.5,698.5 432.0,698.5 433.5,698.7 435.0,698.7 436.5,699.0 438.0,698.0 439.5,698.6 441.0,698.1 442.5,699.1 444.0,698.1 445.5,699.0 447.0,699.2 448.5,698.7 450.0,698.4 451.5,698.3 453.0,697.9 454.5,698.3 456.0,698.7 457.5,698.8 459.0,699.0 460.5,699.3 462.0,698.5 463.5,699.5 465.0,699.7 466.5,699.1 468.0,698.1 469.5,698.9 471.0,699.1 472.5,699.1 474.0,698.7 475.5,699.0 477.0,698.7 478.5,698.4 480.0,699.1 481.5,699.2 483.0,698.4 484.5,699.3 486.0,699.1 487.5,698.4 489.0,698.7 490.5,698.5 492.0,699.6 493.5,699.5 495.0,699.5 496.5,698.7 498.0,698.8 499.5,698.7 501.0,698.9 502.5,699.6 504.0,699.5 505.5,700.1 507.0,699.5 508.5,699.9 510.0,699.3 511.5,699.6 513.0,699.5 514.5,699.8 516.0,699.6 517.5,699.6 519.0,700.2 520.5,700.1 522.0,700.0 523.5,699.9 525.0,700.3 526.5,699.9 528.0,700.5 529.5,700.2 531.0,700.1 532.5,700.5 534.0,700.3 535.5,700.6 537.0,700.3 538.5,700.4 540.0,700.6 541.5,700.1 543.0,700.1 544.5,700.2 546.0,700.3 547.5,700.1 549.0,700.4 550.5,700.2 552.0,700.2 553.5,700.1 555.0,699.9 556.5,700.2 558.0,700.2 559.5,700.1 561.0,700.1 562.5,700.2 564.0,700.0 565.5,700.3 567.0,699.9 568.5,700.2 570.0,700.5 571.5,700.0 573.0,700.2 574.5,700.0 576.0,700.2 577.5,699.9 579.0,700.4 580.5,700.0 582.0,700.2 583.5,700.4 585.0,700.3 586.5,700.3 588.0,700.4 589.5,700.3 591.0,699.9 592.5,700.1 594.0,700.4 595.5,700.3 597.0,700.5 598.5,700.4 600.0,700.1 601.5,700.5 603.0,700.3 604.5,700.1 606.0,700.4 607.5,700.5 609.0,700.5 610.5,699.9 612.0,700.4 613.5,700.4 615.0,700.5 616.5,700.4 618.0,700.4 619.5,700.5 621.0,700.5 622.5,700.2 624.0,700.6 625.5,700.6 627.0,700.6 628.5,700.6 630.0,700.1 631.5,700.7 633.0,700.4 634.5,700.3 636.0,700.6 637.5,700.3 639.0,700.5 640.5,700.4 642.0,700.2 643.5,700.4 645.0,700.5 645.0,702.4 643.5,702.5 642.0,702.5 640.5,702.4 639.0,702.4 637.5,702.8 636.0,702.6 634.5,702.3 633.0,702.4 631.5,702.4 630.0,702.7 628.5,702.5 627.0,702.6 625.5,702.3 624.0,702.6 622.5,702.6 621.0,702.2 619.5,702.2 618.0,702.5 616.5,702.5 615.0,702.7 613.5,702.4 612.0,702.8 610.5,702.6 609.0,702.3 607.5,702.4 606.0,702.7 604.5,702.8 603.0,702.4 601.5,702.4 600.0,702.8 598.5,702.7 597.0,702.7 595.5,702.5 594.0,702.6 592.5,702.4 591.0,702.9 589.5,702.5 588.0,702.6 586.5,702.5 585.0,702.9 583.5,702.8 582.0,702.8 580.5,702.7 579.0,702.5 577.5,702.7 576.0,702.5 574.5,702.8 573.0,702.9 571.5,702.9 570.0,702.6 568.5,702.6 567.0,702.7 565.5,702.8 564.0,703.0 562.5,702.7 561.0,702.9 559.5,702.8 558.0,703.1 556.5,702.8 555.0,702.8 553.5,702.5 552.0,702.5 550.5,702.4 549.0,702.7 547.5,702.5 546.0,702.5 544.5,702.7 543.0,702.5 541.5,702.8 540.0,702.4 538.5,702.4 537.0,702.4 535.5,702.8 534.0,702.4 532.5,702.8 531.0,702.5 529.5,703.1 528.0,702.5 526.5,702.9 525.0,702.9 523.5,702.5 522.0,702.6 520.5,703.1 519.0,703.1 517.5,702.7 516.0,703.4 514.5,703.5 513.0,703.5 511.5,703.0 510.0,703.1 508.5,703.3 507.0,703.5 505.5,703.2 504.0,703.0 502.5,704.3 501.0,704.3 499.5,703.7 498.0,704.2 496.5,703.3 495.0,703.8 493.5,704.0 492.0,703.4 490.5,704.1 489.0,703.8 487.5,705.2 486.0,704.3 484.5,704.5 483.0,704.8 481.5,704.2 480.0,704.7 478.5,704.5 477.0,703.8 475.5,705.1 474.0,704.1 472.5,703.6 471.0,704.2 469.5,703.7 468.0,704.0 466.5,703.4 465.0,704.0 463.5,703.5 462.0,703.7 460.5,704.0 459.0,704.0 457.5,704.1 456.0,705.2 454.5,705.8 453.0,704.6 451.5,705.0 450.0,704.6 448.5,704.2 447.0,704.9 445.5,705.3 444.0,704.4 442.5,704.8 441.0,703.9 439.5,703.9 438.0,703.7 436.5,703.5 435.0,703.9 433.5,704.2 432.0,704.0 430.5,704.2 429.0,704.2 427.5,704.5 426.0,704.4 424.5,704.2 423.0,704.5 421.5,704.1 420.0,703.3 418.5,703.6 417.0,704.3 415.5,704.7 414.0,704.8 412.5,704.8 411.0,705.0 409.5,704.6 408.0,703.6 406.5,704.0 405.0,703.8 403.5,703.6 402.0,704.0 400.5,703.8 399.0,704.0 397.5,705.2 396.0,704.2 394.5,703.9 393.0,704.7 391.5,704.0 390.0,704.4 388.5,703.7 387.0,704.8 385.5,704.5 384.0,704.8 382.5,704.1 381.0,704.0 379.5,704.0 378.0,705.4 376.5,704.8 375.0,704.0 373.5,705.0 372.0,704.1 370.5,704.9 369.0,704.4 367.5,703.8 366.0,704.2 364.5,703.4 363.0,703.6 361.5,704.1 360.0,704.6 358.5,704.7 357.0,704.7 355.5,705.4 354.0,704.2 352.5,704.8 351.0,704.3 349.5,704.2 348.0,704.4 346.5,705.3 345.0,704.8 343.5,704.1 342.0,704.1 340.5,704.8 339.0,705.6 337.5,705.4 336.0,705.8 334.5,704.5 333.0,704.8 331.5,705.5 330.0,705.1 328.5,704.6 327.0,704.3 325.5,705.8 324.0,707.1 322.5,707.7 321.0,708.4 319.5,709.2 318.0,707.1 316.5,708.5 315.0,706.0 313.5,705.8 312.0,705.5 310.5,708.9 309.0,707.2 307.5,707.6 306.0,707.8 304.5,709.8 303.0,710.1 301.5,707.7 300.0,707.6 298.5,706.9 297.0,706.4 295.5,706.8 294.0,707.3 292.5,706.7 291.0,708.0 289.5,706.3 288.0,707.1 286.5,705.9 285.0,705.4 283.5,705.1 282.0,705.2 280.5,706.7 279.0,705.2 277.5,708.1 276.0,705.6 274.5,706.9 273.0,708.1 271.5,705.6 270.0,706.0 268.5,705.4 267.0,706.4 265.5,707.9 264.0,706.0 262.5,706.2 261.0,707.2 259.5,705.9 258.0,705.1 256.5,705.9 255.0,705.8 253.5,706.7 252.0,706.9 250.5,706.1 249.0,706.1 247.5,705.9 246.0,706.4 244.5,705.4 243.0,705.8 241.5,704.8 240.0,705.7 238.5,705.2 237.0,704.9 235.5,704.5 234.0,706.0 232.5,706.3 231.0,705.7 229.5,706.0 228.0,704.4 226.5,704.1 225.0,704.4 223.5,705.2 222.0,704.8 220.5,704.0 219.0,703.2 217.5,703.7 216.0,703.6 214.5,703.5 213.0,704.4 211.5,703.3 210.0,703.9 208.5,704.3 207.0,703.5 205.5,703.4 204.0,703.1 202.5,703.7 201.0,703.1 199.5,703.8 198.0,703.8 196.5,703.9 195.0,704.5 193.5,703.5 192.0,703.5 190.5,704.2 189.0,703.9 187.5,703.5 186.0,703.8 184.5,703.8 183.0,703.8 181.5,703.9 180.0,703.4 178.5,702.9 177.0,703.4 175.5,702.9 174.0,702.8 172.5,702.8 171.0,703.0 169.5,703.4 168.0,703.2 166.5,703.4 165.0,703.7 163.5,703.2 162.0,703.9 160.5,703.7 159.0,703.8 157.5,703.9 156.0,703.7 154.5,702.9 153.0,703.7 151.5,703.6 150.0,703.5 148.5,703.6 147.0,702.9 145.5,703.3 144.0,703.2 142.5,702.9 141.0,703.4 139.5,703.2 138.0,703.5 136.5,703.2 135.0,702.8 133.5,702.8 132.0,702.6 130.5,702.4 129.0,702.7 127.5,702.9 126.0,702.7 124.5,702.7 123.0,702.6 121.5,702.5 120.0,702.9 118.5,702.4 117.0,702.4 115.5,702.8 114.0,702.6 112.5,702.6 111.0,702.8 109.5,702.7 108.0,702.8 106.5,702.5 105.0,703.1 103.5,702.4 102.0,702.7 100.5,702.3 99.0,702.6 97.5,702.9 96.0,702.5 94.5,702.6 93.0,702.6 91.5,702.6 90.0,702.4 88.5,703.1 87.0,704.6 85.5,704.1 84.0,703.4 82.5,703.2 81.0,703.8 79.5,703.9 78.0,703.8 76.5,704.2 75.0,703.7 73.5,706.3 72.0,704.5 70.5,704.1 69.0,704.2 67.5,704.8 66.0,704.0 64.5,703.2 63.0,702.9 61.5,702.9 60.0,703.3 58.5,702.7 57.0,703.2 55.5,703.2 54.0,703.7 52.5,705.0 51.0,704.9 49.5,706.1 48.0,705.6 46.5,704.9 45.0,705.6 43.5,706.2Z" fill="#0000ff"/>
<path d="M43.5,667.9v44.8M44.0,679.1v29.8M44.5,685.4v34.7M45.0,692.3v18.1M45.5,689.4v21.8M46.0,684.4v30.8M46.5,690.6v20.4M47.0,679.4v30.3M47.5,683.4v25.3M48.0,679.7v40.0M48.5,688.3v22.6M49.0,692.1v19.9M49.5,688.9v21.9M50.0,689.1v20.7M50.5,692.4v22.2M51.0,685.7v28.9M51.5,691.1v27.3M52.0,687.6v21.6M52.5,688.8v21.6M53.0,687.8v25.4M53.5,692.1v16.2M54.0,695.2v15.6M54.5,692.6v15.6M55.0,698.6v8.4M55.5,696.9v8.2M56.0,696.5v9.5M56.5,695.9v10.6M57.0,696.5v10.2M57.5,697.6v9.9M58.0,693.6v11.7M58.5,697.5v8.4M59.0,696.7v7.9M59.5,695.5v9.6M60.0,695.4v9.9M60.5,698.9v5.7M61.0,697.9v8.8M61.5,696.2v12.9M62.0,696.0v10.1M62.5,696.3v10.3M63.0,698.0v8.4M63.5,698.5v6.1M64.0,696.3v12.5M64.5,696.2v8.0M65.0,697.6v9.1M65.5,694.3v16.5M66.0,693.6v18.3M66.5,693.8v23.8M67.0,684.0v32.0M67.5,690.9v24.2M68.0,690.4v17.7M68.5,691.1v16.8M69.0,686.8v29.6M69.5,687.1v27.3M70.0,692.9v19.3M70.5,694.1v19.4M71.0,687.4v25.7M71.5,686.7v27.8M72.0,689.9v24.8M72.5,684.3v26.2M73.0,688.1v23.2M73.5,679.7v37.8M74.0,689.2v23.3M74.5,689.5v21.2M75.0,694.6v14.8M75.5,693.0v19.3M76.0,697.0v15.6M76.5,693.4v14.2M77.0,694.9v12.6M77.5,693.5v12.9M78.0,696.0v10.9M78.5,690.3v15.4M79.0,693.0v13.3M79.5,692.9v19.8M80.0,691.9v18.7M80.5,693.5v13.8M81.0,692.8v14.1M81.5,694.7v11.2M82.0,696.6v11.7M82.5,696.0v12.1M83.0,693.8v15.2M83.5,695.1v16.2M84.0,690.3v16.3M84.5,695.1v13.5M85.0,693.5v13.1M85.5,694.0v14.7M86.0,696.1v12.6M86.5,693.7v16.0M87.0,691.8v16.4M87.5,696.1v10.8M88.0,694.9v11.9M88.5,698.3v6.4M89.0,697.9v5.4M89.5,698.0v5.9M90.0,699.2v6.4M90.5,697.8v6.6M91.0,699.3v7.2M91.5,697.7v5.6M92.0,699.2v6.1M92.5,698.3v6.1M93.0,698.3v5.6M93.5,697.7v7.5M94.0,698.3v5.8M94.5,696.8v7.7M95.0,699.0v5.3M95.5,697.3v8.2M96.0,696.6v8.9M96.5,698.3v8.1M97.0,697.1v7.6M97.5,699.2v6.5M98.0,699.7v5.4M98.5,698.0v6.4M99.0,698.2v5.7M99.5,697.0v7.1M100.0,698.9v6.3M100.5,697.8v7.4M101.0,698.8v4.7M101.5,698.9v4.6M102.0,699.0v7.4M102.5,697.4v7.8M103.0,696.5v9.5M103.5,699.1v5.9M104.0,698.2v7.6M104.5,697.2v9.3M105.0,697.0v8.5M105.5,697.3v8.5M106.0,698.4v7.3M106.5,697.2v8.2M107.0,697.6v8.9M107.5,696.4v8.7M108.0,698.2v7.9M108.5,698.0v6.0M109.0,698.5v5.7M109.5,697.6v7.2M110.0,697.7v7.5M110.5,698.5v6.1M111.0,698.6v6.8M111.5,698.8v5.7M112.0,699.2v6.6M112.5,696.5v8.9M113.0,696.7v6.9M113.5,697.7v7.8M114.0,697.9v6.9M114.5,699.6v5.2M115.0,697.8v5.6M115.5,697.5v6.4M116.0,698.7v4.9M116.5,697.9v6.1M117.0,699.3v5.9M117.5,697.1v7.5M118.0,698.1v6.4M118.5,697.8v5.7M119.0,699.2v4.5M119.5,697.8v8.7M120.0,696.9v7.1M120.5,697.0v8.7M121.0,698.3v7.9M121.5,697.7v8.8M122.0,698.7v7.1M122.5,698.4v7.7M123.0,696.4v9.6M123.5,698.0v6.8M124.0,698.9v7.1M124.5,698.6v6.2M125.0,698.5v6.9M125.5,697.0v9.5M126.0,698.1v8.4M126.5,697.9v8.6M127.0,699.3v5.6M127.5,696.4v8.6M128.0,698.4v6.8M128.5,698.2v7.2M129.0,697.1v7.5M129.5,697.7v7.2M130.0,697.2v8.2M130.5,696.4v9.3M131.0,697.2v6.4M131.5,698.2v6.7M132.0,697.9v6.5M132.5,696.5v10.0M133.0,697.5v7.4M133.5,697.6v6.3M134.0,696.4v8.6M134.5,698.6v7.9M135.0,699.1v6.8M135.5,699.2v4.5M136.0,697.2v8.6M136.5,696.3v12.8M137.0,696.2v8.3M137.5,694.4v13.9M138.0,697.6v9.5M138.5,697.4v9.4M139.0,697.5v9.4M139.5,692.5v14.1M140.0,696.5v13.9M140.5,698.0v8.8M141.0,697.6v9.6M141.5,694.4v13.5M142.0,692.5v17.6M142.5,696.5v8.6M143.0,694.5v12.8M143.5,696.2v8.6M144.0,697.5v11.4M144.5,698.4v7.8M145.0,695.8v11.4M145.5,696.1v9.4M146.0,697.0v10.2M146.5,696.9v12.8M147.0,698.4v7.3M147.5,696.9v12.1M148.0,693.3v14.4M148.5,692.5v14.8M149.0,695.7v12.6M149.5,692.5v14.0M150.0,693.6v14.2M150.5,697.2v10.1M151.0,695.6v10.6M151.5,695.7v11.5M152.0,697.6v10.6M152.5,696.3v12.4M153.0,695.7v14.8M153.5,696.7v11.1M154.0,696.0v12.8M154.5,696.8v8.4M155.0,695.7v10.8M155.5,694.2v11.5M156.0,694.1v15.4M156.5,692.5v15.9M157.0,696.3v14.1M157.5,694.2v13.9M158.0,694.5v15.1M158.5,693.6v15.6M159.0,695.5v15.0M159.5,696.5v13.9M160.0,695.9v14.6M160.5,694.5v12.7M161.0,697.5v8.4M161.5,694.6v15.9M162.0,696.0v14.4M162.5,695.3v10.6M163.0,694.2v11.6M163.5,695.3v9.8M164.0,694.2v15.2M164.5,692.5v17.3M165.0,697.2v11.4M165.5,693.7v13.3M166.0,692.5v13.4M166.5,695.4v11.0M167.0,696.2v11.5M167.5,695.1v10.2M168.0,695.1v9.8M168.5,695.3v14.1M169.0,694.1v13.4M169.5,697.4v10.1M170.0,696.2v9.5M170.5,697.3v10.0M171.0,695.0v11.2M171.5,696.3v10.9M172.0,694.4v12.6M172.5,697.8v12.6M173.0,696.0v9.9M173.5,693.9v10.9M174.0,697.9v6.7M174.5,696.1v11.2M175.0,697.1v8.2M175.5,696.2v11.0M176.0,698.1v8.9M176.5,692.5v15.3M177.0,697.7v9.7M177.5,696.2v10.2M178.0,698.2v8.8M178.5,696.2v12.9M179.0,698.6v5.9M179.5,697.3v8.2M180.0,695.6v9.1M180.5,696.8v11.8M181.0,694.5v15.2M181.5,693.8v13.6M182.0,694.6v14.0M182.5,691.6v14.7M183.0,695.0v11.5M183.5,696.3v9.2M184.0,695.3v11.0M184.5,694.0v17.4M185.0,692.6v15.5M185.5,693.8v15.8M186.0,694.6v15.8M186.5,696.1v11.3M187.0,694.5v14.6M187.5,694.5v14.2M188.0,696.7v12.8M188.5,693.1v17.0M189.0,689.1v18.6M189.5,695.7v10.9M190.0,692.2v17.1M190.5,692.2v15.4M191.0,692.3v16.2M191.5,692.1v19.2M192.0,693.0v16.9M192.5,691.8v20.8M193.0,693.9v14.2M193.5,694.5v17.6M194.0,691.3v16.4M194.5,692.0v19.4M195.0,695.6v11.7M195.5,693.4v20.4M196.0,689.1v20.6M196.5,695.0v13.4M197.0,691.9v17.5M197.5,691.0v19.2M198.0,692.4v19.1M198.5,694.4v15.4M199.0,696.2v14.3M199.5,693.4v16.4M200.0,694.1v19.1M200.5,695.5v10.8M201.0,694.0v15.2M201.5,694.1v14.2M202.0,695.4v11.6M202.5,697.7v8.0M203.0,697.0v10.0M203.5,695.8v9.4M204.0,692.5v15.3M204.5,693.2v13.7M205.0,696.1v12.3M205.5,694.0v16.3M206.0,695.9v11.2M206.5,695.5v18.3M207.0,689.1v18.6M207.5,692.5v15.8M208.0,692.7v17.0M208.5,689.4v22.1M209.0,689.1v24.6M209.5,693.7v17.5M210.0,691.3v19.9M210.5,690.4v23.3M211.0,695.5v14.8M211.5,691.1v17.6M212.0,697.3v8.9M212.5,694.0v17.2M213.0,693.4v17.0M213.5,694.3v16.5M214.0,693.3v12.3M214.5,693.8v12.8M215.0,690.2v17.5M215.5,691.7v19.9M216.0,696.0v11.6M216.5,693.0v16.2M217.0,695.0v12.0M217.5,696.6v10.3M218.0,693.9v15.1M218.5,690.5v19.8M219.0,691.1v16.4M219.5,693.6v13.5M220.0,693.2v15.7M220.5,693.9v15.5M221.0,684.7v22.7M221.5,694.4v13.4M222.0,688.9v25.0M222.5,694.6v19.4M223.0,689.9v22.3M223.5,692.7v20.0M224.0,690.9v21.1M224.5,695.2v16.0M225.0,694.4v16.3M225.5,692.8v16.8M226.0,691.8v19.3M226.5,694.5v13.9M227.0,694.9v13.6M227.5,689.0v22.1M228.0,693.4v23.5M228.5,691.4v20.8M229.0,693.3v17.4M229.5,689.5v21.1M230.0,690.6v19.7M230.5,691.6v17.8M231.0,692.1v16.9M231.5,693.3v28.6M232.0,691.7v23.7M232.5,685.8v36.9M233.0,687.7v27.1M233.5,693.8v16.4M234.0,689.0v24.7M234.5,691.0v23.6M235.0,692.1v21.5M235.5,685.6v27.4M236.0,687.0v28.3M236.5,687.6v28.3M237.0,695.0v19.7M237.5,689.7v19.8M238.0,693.6v20.8M238.5,690.4v23.3M239.0,690.9v20.0M239.5,689.0v24.5M240.0,693.7v22.7M240.5,684.6v30.6M241.0,692.3v17.8M241.5,694.3v22.0M242.0,691.1v25.5M242.5,692.0v18.3M243.0,684.3v31.8M243.5,678.5v46.4M244.0,685.5v32.3M244.5,682.9v42.2M245.0,687.8v28.2M245.5,677.7v39.1M246.0,684.7v35.1M246.5,684.6v34.4M247.0,686.2v28.1M247.5,686.8v25.9M248.0,690.7v20.7M248.5,692.4v23.1M249.0,688.3v25.8M249.5,679.6v39.6M250.0,683.8v35.2M250.5,683.8v36.5M251.0,676.8v36.1M251.5,682.1v36.2M252.0,684.1v28.6M252.5,691.3v27.9M253.0,691.8v21.8M253.5,691.5v27.1M254.0,691.6v22.8M254.5,686.0v27.8M255.0,687.1v23.2M255.5,685.8v30.2M256.0,690.2v26.6M256.5,686.4v27.0M257.0,685.1v25.0M257.5,683.6v32.4M258.0,689.6v24.7M258.5,681.8v32.6M259.0,690.7v30.2M259.5,690.4v32.5M260.0,691.7v21.8M260.5,676.6v34.7M261.0,690.7v23.3M261.5,685.8v32.5M262.0,682.0v34.9M262.5,684.0v31.3M263.0,684.8v29.8M263.5,683.8v32.1M264.0,685.9v35.3M264.5,676.1v44.8M265.0,686.7v35.6M265.5,690.7v24.3M266.0,679.6v39.3M266.5,676.0v43.3M267.0,691.8v35.2M267.5,688.3v24.8M268.0,683.7v33.1M268.5,691.7v18.4M269.0,686.0v30.3M269.5,685.2v26.4M270.0,684.1v26.9M270.5,681.3v33.1M271.0,682.9v39.1M271.5,682.8v35.4M272.0,688.7v32.2M272.5,678.4v34.3M273.0,688.2v39.1M273.5,681.7v30.5M274.0,682.1v31.6M274.5,686.9v33.6M275.0,691.3v23.3M275.5,691.5v29.4M276.0,689.1v38.3M276.5,676.5v36.3M277.0,685.4v33.4M277.5,686.2v30.6M278.0,687.8v28.0M278.5,690.7v36.9M279.0,685.8v27.2M279.5,682.3v32.6M280.0,684.5v31.0M280.5,684.6v29.5M281.0,686.0v29.7M281.5,689.9v29.7M282.0,687.0v32.2M282.5,693.9v21.8M283.0,691.5v28.0M283.5,680.2v39.7M284.0,675.0v35.5M284.5,686.4v41.5M285.0,688.9v24.4M285.5,691.1v25.2M286.0,688.2v27.3M286.5,684.5v36.5M287.0,682.8v35.6M287.5,684.0v31.5M288.0,687.7v32.7M288.5,685.9v36.3M289.0,684.1v29.3M289.5,680.9v38.9M290.0,691.0v31.0M290.5,683.0v38.7M291.0,691.2v23.3M291.5,683.0v32.8M292.0,682.9v32.3M292.5,684.5v29.2M293.0,683.5v28.1M293.5,672.9v52.0M294.0,683.9v33.7M294.5,679.3v35.2M295.0,680.2v44.4M295.5,689.3v25.7M296.0,682.7v35.8M296.5,691.7v43.3M297.0,690.7v23.9M297.5,688.8v32.7M298.0,673.7v41.2M298.5,688.4v23.5M299.0,692.1v31.0M299.5,691.1v24.7M300.0,667.9v51.5M300.5,684.6v34.3M301.0,688.5v35.2M301.5,667.9v48.0M302.0,689.3v27.5M302.5,667.9v46.1M303.0,682.1v37.3M303.5,675.9v41.5M304.0,680.5v35.7M304.5,686.9v31.4M305.0,687.0v37.2M305.5,685.2v35.2M306.0,689.1v25.7M306.5,683.7v42.0M307.0,677.8v44.5M307.5,674.6v54.2M308.0,678.1v43.3M308.5,676.5v49.5M309.0,676.2v51.0M309.5,669.8v50.7M310.0,678.6v43.2M310.5,679.7v42.4M311.0,684.2v29.7M311.5,686.1v25.3M312.0,683.5v28.1M312.5,691.2v26.3M313.0,682.5v35.7M313.5,688.9v31.4M314.0,685.3v29.1M314.5,682.9v29.8M315.0,672.4v45.9M315.5,677.8v57.3M316.0,690.3v36.4M316.5,688.4v30.1M317.0,682.1v44.8M317.5,684.1v38.4M318.0,667.9v45.5M318.5,681.4v38.2M319.0,674.4v45.0M319.5,681.0v49.5M320.0,681.6v44.1M320.5,675.8v46.1M321.0,683.1v32.5M321.5,677.7v57.4M322.0,667.9v59.0M322.5,676.9v41.5M323.0,679.2v46.4M323.5,678.2v43.7M324.0,677.1v40.2M324.5,690.2v27.2M325.0,686.4v23.9M325.5,692.2v28.1M326.0,689.0v20.7M326.5,694.1v29.6M327.0,690.4v21.5M327.5,679.6v31.3M328.0,689.4v24.6M328.5,688.2v28.7M329.0,688.5v26.5M329.5,687.0v22.4M330.0,687.9v24.6M330.5,687.7v24.7M331.0,689.3v20.8M331.5,691.4v16.8M332.0,689.8v27.9M332.5,693.3v19.5M333.0,689.7v21.7M333.5,690.0v19.2M334.0,694.4v25.2M334.5,690.4v27.1M335.0,684.3v31.5M335.5,693.1v17.8M336.0,694.6v20.3M336.5,694.2v19.5M337.0,695.3v12.7M337.5,689.9v23.8M338.0,685.0v30.3M338.5,687.1v27.4M339.0,689.2v22.1M339.5,687.5v22.8M340.0,684.0v32.3M340.5,690.8v21.2M341.0,694.6v15.5M341.5,690.7v21.5M342.0,695.5v16.2M342.5,693.9v13.9M343.0,687.0v24.0M343.5,693.5v19.4M344.0,692.7v19.4M344.5,690.2v27.1M345.0,694.3v17.3M345.5,691.3v15.8M346.0,690.6v21.0M346.5,692.1v19.8M347.0,685.8v22.7M347.5,690.2v22.9M348.0,695.2v12.2M348.5,689.7v21.8M349.0,694.3v18.7M349.5,693.3v16.6M350.0,695.4v16.2M350.5,690.3v20.4M351.0,695.2v14.3M351.5,693.7v13.6M352.0,693.7v14.6M352.5,694.2v15.0M353.0,687.8v23.6M353.5,686.0v25.4M354.0,687.9v25.1M354.5,690.1v21.8M355.0,693.0v14.4M355.5,692.3v20.6M356.0,694.8v12.6M356.5,694.0v15.5M357.0,686.1v30.8M357.5,692.0v15.1M358.0,691.8v18.3M358.5,691.7v20.8M359.0,690.9v20.4M359.5,691.8v25.0M360.0,693.0v18.6M360.5,690.4v17.9M361.0,692.0v24.8M361.5,692.5v17.4M362.0,695.9v13.0M362.5,695.0v11.7M363.0,690.5v19.2M363.5,693.4v14.1M364.0,693.8v14.2M364.5,696.7v12.3M365.0,693.4v16.6M365.5,695.7v14.7M366.0,695.9v12.7M366.5,693.3v16.7M367.0,692.2v16.2M367.5,693.3v17.3M368.0,690.5v25.4M368.5,693.8v22.5M369.0,695.0v15.7M369.5,689.3v20.3M370.0,689.4v21.9M370.5,688.4v26.5M371.0,694.3v22.2M371.5,690.0v23.2M372.0,694.0v14.5M372.5,695.3v14.8M373.0,691.8v24.4M373.5,694.2v22.3M374.0,689.4v19.0M374.5,692.1v20.3M375.0,690.3v18.1M375.5,692.9v23.5M376.0,694.9v17.2M376.5,695.3v21.1M377.0,686.5v23.2M377.5,693.0v14.9M378.0,692.1v24.3M378.5,691.3v21.2M379.0,691.7v16.6M379.5,692.9v17.4M380.0,694.5v17.7M380.5,691.9v18.6M381.0,687.1v20.4M381.5,687.8v26.9M382.0,690.1v19.3M382.5,689.8v20.3M383.0,695.0v13.1M383.5,695.1v11.5M384.0,690.0v19.0M384.5,688.4v22.7M385.0,693.8v14.5M385.5,692.4v18.5M386.0,691.4v15.4M386.5,692.1v14.2M387.0,692.9v16.5M387.5,693.2v17.4M388.0,696.7v13.3M388.5,693.0v15.5M389.0,692.6v16.1M389.5,694.5v13.4M390.0,691.8v19.1M390.5,695.6v16.5M391.0,695.2v13.8M391.5,692.4v20.3M392.0,691.3v18.3M392.5,691.9v19.0M393.0,689.8v22.5M393.5,695.0v16.2M394.0,692.4v19.6M394.5,695.3v13.9M395.0,691.4v20.8M395.5,696.2v19.7M396.0,692.4v17.8M396.5,687.0v20.6M397.0,691.3v17.9M397.5,690.4v17.6M398.0,691.0v24.9M398.5,688.1v20.0M399.0,695.0v15.6M399.5,696.0v14.6M400.0,693.7v17.3M400.5,694.6v14.0M401.0,692.9v13.3M401.5,691.1v17.4M402.0,696.3v11.5M402.5,694.4v14.3M403.0,694.4v15.6M403.5,693.5v16.5M404.0,691.9v14.1M404.5,695.5v12.7M405.0,691.4v16.2M405.5,695.4v16.8M406.0,691.5v19.5M406.5,693.1v15.2M407.0,695.1v10.6M407.5,694.4v11.6M408.0,692.3v18.1M408.5,692.2v15.9M409.0,694.4v11.5M409.5,690.1v21.9M410.0,691.0v17.8M410.5,690.1v21.5M411.0,692.0v20.2M411.5,689.9v18.3M412.0,693.6v15.4M412.5,690.4v20.8M413.0,689.3v22.6M413.5,695.7v14.5M414.0,692.7v17.4M414.5,692.1v18.8M415.0,692.2v17.7M415.5,691.7v19.1M416.0,694.4v13.4M416.5,695.1v12.9M417.0,692.3v14.9M417.5,693.7v18.6M418.0,693.5v21.0M418.5,691.7v15.9M419.0,693.7v16.0M419.5,687.5v20.7M420.0,687.5v22.4M420.5,693.8v14.1M421.0,687.7v26.7M421.5,693.3v13.9M422.0,695.7v12.5M422.5,694.9v14.7M423.0,695.2v16.3M423.5,690.2v17.9M424.0,694.5v16.9M424.5,693.9v17.6M425.0,693.4v17.0M425.5,694.7v20.6M426.0,691.4v19.9M426.5,691.0v21.7M427.0,695.4v16.1M427.5,695.4v19.8M428.0,687.7v19.2M428.5,695.6v18.5M429.0,695.5v17.4M429.5,691.9v19.7M430.0,687.7v23.5M430.5,693.2v18.2M431.0,692.5v18.3M431.5,694.4v20.6M432.0,691.8v16.4M432.5,691.7v13.9M433.0,696.5v14.0M433.5,689.7v21.2M434.0,695.2v10.3M434.5,694.3v12.5M435.0,692.9v14.5M435.5,695.7v17.4M436.0,692.9v13.0M436.5,695.6v19.4M437.0,695.3v14.9M437.5,693.1v18.3M438.0,694.2v14.0M438.5,690.3v16.4M439.0,695.3v15.2M439.5,696.3v14.2M440.0,690.5v17.1M440.5,694.6v12.0M441.0,692.1v16.3M441.5,690.4v20.8M442.0,692.3v16.6M442.5,691.4v23.7M443.0,693.4v15.5M443.5,692.3v26.8M444.0,689.7v18.3M444.5,691.6v22.9M445.0,691.3v18.9M445.5,695.5v21.3M446.0,693.5v18.8M446.5,693.5v19.1M447.0,691.0v18.8M447.5,694.2v18.0M448.0,691.4v15.8M448.5,695.0v12.3M449.0,691.8v18.1M449.5,688.8v22.6M450.0,693.8v17.4M450.5,691.4v16.1M451.0,690.0v17.8M451.5,691.2v19.0M452.0,695.2v16.9M452.5,687.8v25.9M453.0,689.4v19.2M453.5,687.4v23.5M454.0,688.3v28.2M454.5,693.5v19.8M455.0,692.0v21.0M455.5,690.8v22.0M456.0,689.3v29.9M456.5,687.5v28.8M457.0,693.4v17.9M457.5,693.1v15.5M458.0,688.0v20.2M458.5,693.7v15.7M459.0,695.8v12.5M459.5,695.5v13.0M460.0,693.1v15.7M460.5,696.3v10.7M461.0,695.5v12.2M461.5,693.3v15.8M462.0,695.4v13.0M462.5,695.2v13.9M463.0,693.0v17.0M463.5,693.0v18.4M464.0,693.5v15.1M464.5,695.9v11.4M465.0,694.3v15.2M465.5,696.6v10.8M466.0,693.4v13.5M466.5,694.9v19.9M467.0,696.8v14.0M467.5,689.3v21.2M468.0,695.7v12.3M468.5,693.9v15.7M469.0,695.8v15.5M469.5,691.3v17.2M470.0,696.3v13.7M470.5,692.8v18.5M471.0,694.6v11.7M471.5,697.1v12.6M472.0,696.9v13.5M472.5,691.4v18.8M473.0,696.5v14.6M473.5,693.8v12.8M474.0,692.2v18.9M474.5,691.5v17.5M475.0,693.9v19.8M475.5,690.9v18.1M476.0,690.8v15.9M476.5,694.9v15.0M477.0,691.7v18.0M477.5,696.4v14.3M478.0,696.0v17.1M478.5,692.6v17.2M479.0,689.9v25.0M479.5,695.2v19.7M480.0,692.2v19.6M480.5,691.5v15.8M481.0,694.4v12.2M481.5,694.1v13.2M482.0,692.4v18.0M482.5,693.9v14.9M483.0,695.2v16.3M483.5,692.6v16.3M484.0,695.1v11.8M484.5,692.3v16.5M485.0,693.4v16.5M485.5,694.3v15.6M486.0,693.7v19.8M486.5,693.3v16.2M487.0,690.2v20.1M487.5,694.3v13.3M488.0,692.9v13.8M488.5,692.2v17.0M489.0,696.3v12.2M489.5,694.6v20.3M490.0,694.3v17.0M490.5,688.0v19.5M491.0,695.8v10.2M491.5,693.7v14.5M492.0,694.0v13.1M492.5,694.8v12.0M493.0,696.3v14.3M493.5,693.7v15.9M494.0,693.3v16.0M494.5,697.1v8.5M495.0,693.4v15.6M495.5,695.6v13.1M496.0,695.9v18.7M496.5,696.2v10.5M497.0,697.0v17.9M497.5,693.2v12.9M498.0,694.0v14.4M498.5,688.9v17.1M499.0,694.1v15.8M499.5,696.0v12.7M500.0,692.1v15.8M500.5,689.0v19.2M501.0,691.2v20.4M501.5,691.9v21.8M502.0,693.4v17.2M502.5,694.8v15.0M503.0,696.4v10.1M503.5,696.6v11.6M504.0,693.6v13.1M504.5,696.0v9.4M505.0,694.1v15.2M505.5,695.1v13.4M506.0,698.3v8.9M506.5,697.2v7.5M507.0,696.8v8.4M507.5,696.6v11.6M508.0,694.3v15.0M508.5,695.0v9.9M509.0,696.9v10.6M509.5,694.7v13.6M510.0,695.0v12.4M510.5,695.5v13.8M511.0,694.4v12.4M511.5,695.0v12.8M512.0,696.4v9.0M512.5,694.7v10.5M513.0,697.4v8.6M513.5,696.2v10.7M514.0,695.7v13.3M514.5,695.3v10.7M515.0,694.1v15.2M515.5,694.5v11.7M516.0,697.2v7.7M516.5,697.0v10.6M517.0,696.7v9.0M517.5,697.0v9.6M518.0,698.4v6.7M518.5,696.6v8.7M519.0,697.6v9.5M519.5,696.6v9.2M520.0,696.8v9.6M520.5,695.9v10.9M521.0,695.9v10.5M521.5,695.9v10.7M522.0,696.6v10.4M522.5,697.4v8.4M523.0,697.3v6.5M523.5,697.4v8.7M524.0,698.8v6.2M524.5,696.4v7.7M525.0,696.4v8.2M525.5,697.7v9.3M526.0,697.8v6.4M526.5,696.2v7.9M527.0,697.1v9.0M527.5,696.5v7.9M528.0,697.2v7.1M528.5,697.6v8.1M529.0,696.7v10.0M529.5,698.9v6.8M530.0,698.6v7.1M530.5,697.8v8.1M531.0,697.0v8.1M531.5,696.9v10.0M532.0,698.3v6.7M532.5,697.5v6.1M533.0,697.5v6.2M533.5,697.9v7.2M534.0,699.2v5.8M534.5,699.2v5.2M535.0,696.7v9.3M535.5,697.9v6.7M536.0,698.6v8.2M536.5,698.1v5.2M537.0,697.7v6.7M537.5,699.5v4.8M538.0,697.7v6.5M538.5,698.0v7.4M539.0,697.6v6.3M539.5,699.1v4.5M540.0,698.8v6.4M540.5,697.6v6.6M541.0,697.6v8.6M541.5,696.2v10.6M542.0,698.5v6.0M542.5,698.8v6.4M543.0,697.5v7.0M543.5,696.6v7.3M544.0,698.0v8.2M544.5,697.3v7.2M545.0,697.4v8.1M545.5,697.1v9.4M546.0,696.9v7.6M546.5,696.2v7.8M547.0,698.3v7.0M547.5,698.2v6.7M548.0,697.4v7.2M548.5,697.6v9.1M549.0,698.4v8.3M549.5,697.1v9.0M550.0,697.7v7.8M550.5,698.9v5.9M551.0,698.4v5.6M551.5,696.9v9.3M552.0,697.6v9.0M552.5,697.2v8.2M553.0,697.8v8.8M553.5,697.9v8.5M554.0,696.3v8.3M554.5,698.4v8.2M555.0,696.7v8.9M555.5,697.7v8.1M556.0,697.2v8.9M556.5,698.2v6.7M557.0,698.2v7.9M557.5,698.8v7.1M558.0,696.9v9.7M558.5,697.9v7.9M559.0,698.5v7.5M559.5,698.7v6.4M560.0,696.4v9.5M560.5,696.4v10.1M561.0,697.6v6.6M561.5,696.5v9.5M562.0,696.6v8.8M562.5,696.6v7.4M563.0,697.0v7.3M563.5,698.2v5.6M564.0,698.7v7.7M564.5,698.5v8.0M565.0,698.5v8.0M565.5,696.5v8.1M566.0,696.4v9.0M566.5,698.2v7.4M567.0,696.5v10.0M567.5,696.5v8.1M568.0,698.2v8.3M568.5,698.0v7.2M569.0,698.4v6.8M569.5,698.0v5.8M570.0,699.3v4.8M570.5,697.5v7.7M571.0,697.9v5.9M571.5,697.5v8.3M572.0,697.9v8.5M572.5,697.5v8.0M573.0,697.1v9.3M573.5,698.2v8.0M574.0,698.9v7.5M574.5,698.1v6.4M575.0,698.3v7.4M575.5,698.1v8.2M576.0,697.2v9.1M576.5,697.8v6.9M577.0,696.8v9.6M577.5,698.7v6.8M578.0,698.0v7.9M578.5,697.4v8.5M579.0,698.0v7.2M579.5,698.7v5.2M580.0,696.6v9.4M580.5,697.1v8.8M581.0,697.2v7.4M581.5,698.9v4.9M582.0,697.9v8.0M582.5,697.6v7.6M583.0,697.2v9.0M583.5,697.8v7.1M584.0,696.9v7.3M584.5,698.3v7.4M585.0,699.1v4.5M585.5,696.8v8.7M586.0,697.4v6.9M586.5,698.2v8.0M587.0,698.3v6.6M587.5,696.7v9.1M588.0,696.7v9.2M588.5,698.7v6.0M589.0,696.8v9.2M589.5,696.8v9.2M590.0,697.5v8.2M590.5,698.6v6.5M591.0,696.8v9.0M591.5,697.6v8.6M592.0,697.9v7.7M592.5,697.9v7.4M593.0,698.4v5.2M593.5,698.6v6.5M594.0,699.0v4.4M594.5,698.0v7.2M595.0,697.5v6.3M595.5,696.8v8.1M596.0,696.8v6.8M596.5,699.3v5.7M597.0,697.6v6.5M597.5,697.2v8.9M598.0,696.9v7.8M598.5,696.9v7.7M599.0,699.5v4.2M599.5,698.3v6.5M600.0,698.5v6.1M600.5,699.3v6.1M601.0,698.5v7.5M601.5,697.9v7.8M602.0,696.9v7.5M602.5,697.3v7.6M603.0,696.9v7.9M603.5,697.2v7.7M604.0,698.7v6.4M604.5,698.0v7.2M605.0,698.1v7.3M605.5,699.4v4.3M606.0,697.9v6.6M606.5,698.0v6.7M607.0,699.5v6.4M607.5,698.6v4.9M608.0,699.1v6.4M608.5,699.4v5.9M609.0,698.4v4.9M609.5,697.7v7.8M610.0,697.0v8.9M610.5,699.0v5.3M611.0,697.0v8.9M611.5,698.4v6.1M612.0,697.2v6.6M612.5,697.4v8.5M613.0,698.0v5.5M613.5,697.5v7.8M614.0,698.2v6.9M614.5,698.2v6.5M615.0,697.7v7.6M615.5,699.6v4.1M616.0,697.6v6.4M616.5,698.1v6.0M617.0,699.3v6.6M617.5,697.3v7.7M618.0,698.5v7.4M618.5,698.4v6.1M619.0,697.1v7.4M619.5,697.9v5.9M620.0,698.8v5.8M620.5,698.4v5.6M621.0,699.8v4.1M621.5,699.1v6.6M622.0,698.6v6.6M622.5,698.1v6.7M623.0,699.3v4.6M623.5,699.2v5.9M624.0,698.3v7.4M624.5,697.2v8.0M625.0,697.8v5.9M625.5,698.0v6.8M626.0,699.0v5.3M626.5,698.1v5.8M627.0,699.3v5.4M627.5,697.9v6.7M628.0,699.3v6.0M628.5,697.3v6.7M629.0,698.4v6.5M629.5,697.6v6.7M630.0,697.3v8.4M630.5,698.5v5.5M631.0,697.3v6.3M631.5,697.7v5.5M632.0,698.3v5.1M632.5,699.2v5.4M633.0,699.4v6.2M633.5,698.2v7.4M634.0,697.4v7.5M634.5,697.9v6.4M635.0,698.2v5.9M635.5,697.3v6.9M636.0,699.1v5.0M636.5,697.6v7.5M637.0,697.3v7.5M637.5,697.4v7.1M638.0,698.1v6.6M638.5,699.4v5.4M639.0,698.1v6.3M639.5,698.5v4.7M640.0,698.5v6.9M640.5,697.4v6.1M641.0,698.8v6.7M641.5,697.5v7.2M642.0,697.4v7.0M642.5,699.2v6.0M643.0,697.9v7.8M643.5,697.4v6.8M644.0,697.5v6.6M644.5,697.9v7.3M645.0,698.6v6.3M645.5,698.5v5.1" fill="none" stroke="#0000ff" stroke-width="0.75"/>
<path d="M120.4,672.5V728.5M138.0,701.5V726.5M143.4,689.5V728.1M153.4,701.5V736.5M159.4,687.5V723.1M163.4,683.5V750.5M173.0,701.5V733.1M177.0,701.5V729.5M182.6,686.5V718.1M187.6,657.5V796.1M195.4,701.5V722.1M199.4,673.5V784.5M212.0,682.5V723.1M214.6,701.5V731.5M223.0,682.1V776.5M232.6,666.5V742.5M237.6,677.5V740.1M248.0,701.5V736.1M256.0,701.5V739.1M261.6,661.5V737.1M276.6,670.5V766.5M286.6,672.1V737.5M295.4,650.5V770.1M296.4,661.5V751.5M300.4,658.5V734.5M305.6,669.5V734.5M309.6,701.5V735.1M314.4,664.5V728.1M319.4,661.5V731.5M340.0,677.5V723.1M357.0,701.5V729.1M364.6,701.5V717.1M372.4,701.5V741.5M391.4,688.5V735.1M401.0,701.5V718.1M408.4,685.5V728.5M415.4,701.5V744.5M420.6,684.5V726.1M428.4,701.5V731.5M430.4,683.1V701.5M434.0,701.5V724.1M441.0,701.5V721.1M449.6,672.5V720.1M452.0,678.1V743.5M455.4,701.5V725.5M467.4,667.5V726.5M470.4,672.1V731.1M475.0,686.1V735.5M482.0,676.5V724.1M485.6,701.5V727.5M488.4,686.7V701.5M494.4,701.5V742.5M500.4,701.5V726.1M512.4,687.5V725.1M536.4,701.5V710.1M564.0,701.5V712.1M580.0,701.5V711.5M591.4,701.5V710.5M636.6,701.5V711.5" fill="none" stroke="#0000ff" stroke-width="0.8" stroke-opacity="0.7"/>
<path d="M645.2,672.5V732.5" fill="none" stroke="#0000ff" stroke-width="1.8" stroke-opacity="0.9"/>
</g>
<rect x="43.5" y="613.9" width="602" height="204.3" fill="none" stroke="#a2a2a2" stroke-width="1.2"/>
<text class="t" x="39.1" y="617.5" text-anchor="end">0.6</text>
<text class="t" x="39.1" y="646.7" text-anchor="end">0.4</text>
<text class="t" x="39.1" y="675.9" text-anchor="end">0.2</text>
<text class="t" x="39.1" y="705.1" text-anchor="end">0</text>
<text class="t" x="39.1" y="734.2" text-anchor="end">-0.2</text>
<text class="t" x="39.1" y="763.4" text-anchor="end">-0.4</text>
<text class="t" x="39.1" y="792.6" text-anchor="end">-0.6</text>
<text class="t" x="39.1" y="821.8" text-anchor="end">-0.8</text>
<path d="M118.75,818.2 v-6 M118.75,613.9 v6 M194.00,818.2 v-6 M194.00,613.9 v6 M269.25,818.2 v-6 M269.25,613.9 v6 M344.50,818.2 v-6 M344.50,613.9 v6 M419.75,818.2 v-6 M419.75,613.9 v6 M495.00,818.2 v-6 M495.00,613.9 v6 M570.25,818.2 v-6 M570.25,613.9 v6 M43.5,643.09 h6 M645.5,643.09 h-6 M43.5,672.27 h6 M645.5,672.27 h-6 M43.5,701.46 h6 M645.5,701.46 h-6 M43.5,730.64 h6 M645.5,730.64 h-6 M43.5,759.83 h6 M645.5,759.83 h-6 M43.5,789.01 h6 M645.5,789.01 h-6" stroke="#777" stroke-width="0.9" fill="none"/>
<text class="t" x="42.9" y="832.8" text-anchor="middle">00:00</text>
<text class="t" x="118.2" y="832.8" text-anchor="middle">03:00</text>
<text class="t" x="193.6" y="832.8" text-anchor="middle">06:00</text>
<text class="t" x="268.9" y="832.8" text-anchor="middle">09:00</text>
<text class="t" x="344.3" y="832.8" text-anchor="middle">12:00</text>
<text class="t" x="419.6" y="832.8" text-anchor="middle">15:00</text>
<text class="t" x="494.9" y="832.8" text-anchor="middle">18:00</text>
<text class="t" x="570.3" y="832.8" text-anchor="middle">21:00</text>
<text class="t" x="645.6" y="832.8" text-anchor="middle">00:00</text>
<text class="b" transform="translate(9.3,716.0) rotate(-90)" text-anchor="middle">Z (nT)</text>
<rect x="836.2" y="613.4" width="603.8" height="205" fill="#00008f"/>
<g clip-path="url(#cr2)">
<rect x="952" y="767.5" width="1" height="50.9" fill="url(#a1)"/><rect x="1110" y="786.7" width="1" height="31.7" fill="url(#a1)"/><rect x="1125" y="780.8" width="1" height="37.6" fill="url(#a1)"/><rect x="843" y="802.6" width="1" height="15.8" fill="url(#a1)"/><rect x="1258" y="701.5" width="1" height="53.1" fill="url(#k171)"/><rect x="1260" y="701.5" width="1" height="53.1" fill="url(#k173)"/><rect x="1072" y="742.9" width="1" height="75.5" fill="url(#a1)"/><rect x="1040" y="778.7" width="1" height="39.7" fill="url(#a1)"/><rect x="1031" y="800.4" width="1" height="18.0" fill="url(#a1)"/><rect x="1095" y="777.4" width="1" height="41.0" fill="url(#a1)"/><rect x="1202" y="792.4" width="1" height="26.0" fill="url(#a1)"/><rect x="1091" y="737.6" width="1" height="80.8" fill="url(#a2)"/><rect x="860" y="800.3" width="1" height="18.1" fill="url(#a2)"/><rect x="1034" y="799.4" width="1" height="19.0" fill="url(#a2)"/><rect x="1069" y="735.2" width="1" height="83.2" fill="url(#a2)"/><rect x="1033" y="792.2" width="1" height="26.2" fill="url(#a2)"/><rect x="1078" y="724.2" width="1" height="94.2" fill="url(#a2)"/><rect x="1200" y="789.0" width="1" height="29.4" fill="url(#a2)"/><rect x="1265" y="773.9" width="1" height="44.5" fill="url(#a2)"/><rect x="949" y="746.4" width="1" height="72.0" fill="url(#a2)"/><rect x="1100" y="767.9" width="1" height="50.5" fill="url(#a2)"/><rect x="1107" y="774.2" width="1" height="44.2" fill="url(#a2)"/><rect x="1026" y="730.0" width="1" height="88.4" fill="url(#a2)"/><rect x="1103" y="765.9" width="1" height="52.5" fill="url(#a2)"/><rect x="1043" y="769.1" width="1" height="49.3" fill="url(#a2)"/><rect x="1049" y="689.1" width="1" height="129.3" fill="url(#a2)"/><rect x="1086" y="761.1" width="1" height="57.3" fill="url(#a2)"/><rect x="846" y="797.7" width="1" height="20.7" fill="url(#a2)"/><rect x="1035" y="788.3" width="1" height="30.1" fill="url(#a2)"/><rect x="1426" y="668.7" width="1" height="118.8" fill="url(#k174)"/><rect x="1201" y="785.1" width="1" height="33.3" fill="url(#a3)"/><rect x="987" y="792.2" width="1" height="26.2" fill="url(#a3)"/><rect x="1028" y="722.1" width="1" height="96.3" fill="url(#a3)"/><rect x="1076" y="704.2" width="1" height="114.2" fill="url(#a3)"/><rect x="1233" y="712.8" width="1" height="105.6" fill="url(#a3)"/><rect x="840" y="740.3" width="1" height="78.1" fill="url(#a3)"/><rect x="1086" y="735.2" width="1" height="83.2" fill="url(#a3)"/><rect x="1034" y="785.2" width="1" height="33.2" fill="url(#a3)"/><rect x="1021" y="696.7" width="1" height="121.7" fill="url(#a3)"/><rect x="1095" y="706.8" width="1" height="111.6" fill="url(#a3)"/><rect x="951" y="729.4" width="1" height="89.0" fill="url(#a3)"/><rect x="1051" y="664.0" width="1" height="154.4" fill="url(#a3)"/><rect x="1077" y="693.1" width="1" height="125.3" fill="url(#a3)"/><rect x="1023" y="690.8" width="1" height="127.6" fill="url(#a3)"/><rect x="1071" y="703.0" width="1" height="115.4" fill="url(#a3)"/><rect x="1027" y="709.5" width="1" height="108.9" fill="url(#a3)"/><rect x="1032" y="791.3" width="1" height="27.1" fill="url(#a3)"/><rect x="1268" y="761.3" width="1" height="57.1" fill="url(#a3)"/><rect x="1033" y="791.1" width="1" height="27.3" fill="url(#a3)"/><rect x="1070" y="700.7" width="1" height="117.7" fill="url(#a4)"/><rect x="1099" y="756.6" width="1" height="61.8" fill="url(#a4)"/><rect x="865" y="791.5" width="1" height="26.9" fill="url(#a4)"/><rect x="950" y="723.5" width="1" height="94.9" fill="url(#a4)"/><rect x="1090" y="746.9" width="1" height="71.5" fill="url(#a4)"/><rect x="1233" y="702.8" width="1" height="115.6" fill="url(#a4)"/><rect x="1128" y="752.7" width="1" height="65.7" fill="url(#a4)"/><rect x="1109" y="759.5" width="1" height="58.9" fill="url(#a4)"/><rect x="844" y="792.0" width="1" height="26.4" fill="url(#a4)"/><rect x="837" y="727.6" width="1" height="90.8" fill="url(#a4)"/><rect x="1041" y="754.1" width="1" height="64.3" fill="url(#a4)"/><rect x="1082" y="722.1" width="1" height="96.3" fill="url(#a4)"/><rect x="1050" y="648.0" width="1" height="170.4" fill="url(#a4)"/><rect x="1236" y="696.7" width="1" height="121.7" fill="url(#a4)"/><rect x="1042" y="751.3" width="1" height="67.1" fill="url(#a4)"/><rect x="1108" y="756.2" width="1" height="62.2" fill="url(#a4)"/><rect x="861" y="789.3" width="1" height="29.1" fill="url(#a4)"/><rect x="1236" y="689.1" width="1" height="129.3" fill="url(#a4)"/><rect x="845" y="790.6" width="1" height="27.8" fill="url(#a4)"/><rect x="991" y="784.4" width="1" height="34.0" fill="url(#a5)"/><rect x="1022" y="671.4" width="1" height="147.0" fill="url(#a5)"/><rect x="1259" y="701.5" width="1" height="53.1" fill="url(#k172)"/><rect x="1101" y="743.2" width="1" height="75.2" fill="url(#a5)"/><rect x="1102" y="742.6" width="1" height="75.8" fill="url(#a5)"/><rect x="1126" y="742.8" width="1" height="75.6" fill="url(#a5)"/><rect x="1092" y="676.2" width="1" height="142.2" fill="url(#a5)"/><rect x="1096" y="742.5" width="1" height="75.9" fill="url(#a6)"/><rect x="839" y="710.3" width="1" height="108.1" fill="url(#a6)"/><rect x="1085" y="704.3" width="1" height="114.1" fill="url(#a6)"/><rect x="864" y="785.2" width="1" height="33.2" fill="url(#a6)"/><rect x="1266" y="744.9" width="1" height="73.5" fill="url(#a6)"/><rect x="1012" y="613.1" width="1" height="206.0" fill="url(#k168)"/><rect x="1234" y="668.6" width="1" height="149.8" fill="url(#a6)"/><rect x="862" y="784.1" width="1" height="34.3" fill="url(#a6)"/><rect x="1094" y="665.0" width="1" height="153.4" fill="url(#a6)"/><rect x="838" y="706.1" width="1" height="112.3" fill="url(#a6)"/><rect x="1127" y="735.1" width="1" height="83.3" fill="url(#a6)"/><rect x="1083" y="698.5" width="1" height="119.9" fill="url(#a7)"/><rect x="1267" y="741.3" width="1" height="77.1" fill="url(#a7)"/><rect x="988" y="778.1" width="1" height="40.3" fill="url(#a7)"/><rect x="1107" y="635.8" width="1" height="164.3" fill="url(#k170)"/><rect x="1235" y="660.7" width="1" height="157.7" fill="url(#a7)"/><rect x="1087" y="722.9" width="1" height="95.5" fill="url(#a7)"/><rect x="863" y="782.5" width="1" height="35.9" fill="url(#a7)"/><rect x="1098" y="735.0" width="1" height="83.4" fill="url(#a7)"/><rect x="1234" y="665.1" width="1" height="153.3" fill="url(#a7)"/><rect x="1093" y="654.4" width="1" height="164.0" fill="url(#a7)"/><rect x="1235" y="663.0" width="1" height="155.4" fill="url(#a7)"/><rect x="1084" y="691.8" width="1" height="126.6" fill="url(#a7)"/><rect x="1089" y="717.7" width="1" height="100.7" fill="url(#a8)"/><rect x="990" y="774.9" width="1" height="43.5" fill="url(#a8)"/><rect x="978" y="613.1" width="1" height="206.0" fill="url(#k166)"/><rect x="1064" y="635.8" width="1" height="183.2" fill="url(#k169)"/><rect x="1097" y="730.0" width="1" height="88.4" fill="url(#a8)"/><rect x="989" y="613.1" width="1" height="206.0" fill="url(#k167)"/><rect x="989" y="772.6" width="1" height="45.8" fill="url(#a9)"/><rect x="1088" y="709.4" width="1" height="109.0" fill="url(#a9)"/>
</g>
<text class="t" x="832.0" y="619.4" text-anchor="end">22</text>
<text class="t" x="832.0" y="636.1" text-anchor="end">20</text>
<text class="t" x="832.0" y="654.5" text-anchor="end">18</text>
<text class="t" x="832.0" y="675.1" text-anchor="end">16</text>
<text class="t" x="832.0" y="698.4" text-anchor="end">14</text>
<text class="t" x="832.0" y="725.4" text-anchor="end">12</text>
<text class="t" x="832.0" y="757.2" text-anchor="end">10</text>
<text class="t" x="832.0" y="775.7" text-anchor="end">9</text>
<text class="t" x="832.0" y="796.3" text-anchor="end">8</text>
<text class="t" x="832.0" y="819.6" text-anchor="end">7</text>
<path d="M836.7,615.80 h6 M1440,615.80 h-6 M836.7,632.46 h6 M1440,632.46 h-6 M836.7,650.88 h6 M1440,650.88 h-6 M836.7,671.47 h6 M1440,671.47 h-6 M836.7,694.82 h6 M1440,694.82 h-6 M836.7,721.77 h6 M1440,721.77 h-6 M836.7,753.64 h6 M1440,753.64 h-6 M836.7,772.06 h6 M1440,772.06 h-6 M836.7,792.66 h6 M1440,792.66 h-6 M836.7,816.00 h6 M1440,816.00 h-6 M911.94,818.2 v-6 M911.94,613.4 v6 M987.38,818.2 v-6 M987.38,613.4 v6 M1062.81,818.2 v-6 M1062.81,613.4 v6 M1138.25,818.2 v-6 M1138.25,613.4 v6 M1213.69,818.2 v-6 M1213.69,613.4 v6 M1289.12,818.2 v-6 M1289.12,613.4 v6 M1364.56,818.2 v-6 M1364.56,613.4 v6" stroke="#000" stroke-opacity="0.4" stroke-width="0.8" fill="none"/>
<path d="M836.7,613.4 V818.4" stroke="#000" stroke-opacity="0.25" stroke-width="1" fill="none"/>
<text class="t" x="836.3" y="832.8" text-anchor="middle">00:00</text>
<text class="t" x="911.7" y="832.8" text-anchor="middle">03:00</text>
<text class="t" x="987.0" y="832.8" text-anchor="middle">06:00</text>
<text class="t" x="1062.4" y="832.8" text-anchor="middle">09:00</text>
<text class="t" x="1137.7" y="832.8" text-anchor="middle">12:00</text>
<text class="t" x="1213.1" y="832.8" text-anchor="middle">15:00</text>
<text class="t" x="1288.5" y="832.8" text-anchor="middle">18:00</text>
<text class="t" x="1363.8" y="832.8" text-anchor="middle">21:00</text>
<text class="t" x="1439.2" y="832.8" text-anchor="middle">00:00</text>
<text class="b" transform="translate(809.8,716.0) rotate(-90)" text-anchor="middle">freq (mHz)</text>
<rect x="1458" y="613.4" width="25.6" height="205" fill="url(#cb)"/>
<rect x="1458.5" y="613.9" width="24.6" height="204.3" fill="none" stroke="#000" stroke-opacity="0.25" stroke-width="1"/>
<text class="t" x="1486.7" y="617.9">4</text>
<text class="t" x="1486.7" y="652.0">3</text>
<text class="t" x="1486.7" y="686.2">2</text>
<text class="t" x="1486.7" y="720.4">1</text>
<text class="t" x="1486.7" y="754.5">0</text>
<text class="t" x="1486.7" y="788.6">-1</text>
<text class="t" x="1486.7" y="822.8">-2</text>
<path d="M1458,647.95 h2.5 M1483.6,647.95 h-2.5 M1458,682.00 h2.5 M1483.6,682.00 h-2.5 M1458,716.05 h2.5 M1483.6,716.05 h-2.5 M1458,750.10 h2.5 M1483.6,750.10 h-2.5 M1458,784.15 h2.5 M1483.6,784.15 h-2.5" stroke="#000" stroke-opacity="0.35" stroke-width="0.8" fill="none"/>
<text class="b" transform="translate(1518.4,716.3) rotate(-90)" text-anchor="middle">log<tspan dy="6.3" font-size="10">2</tspan><tspan dy="-6.3">(nT</tspan><tspan dy="-6.3" font-size="10">2</tspan><tspan dy="6.3">/Hz)</tspan></text>
</svg></body></html>
